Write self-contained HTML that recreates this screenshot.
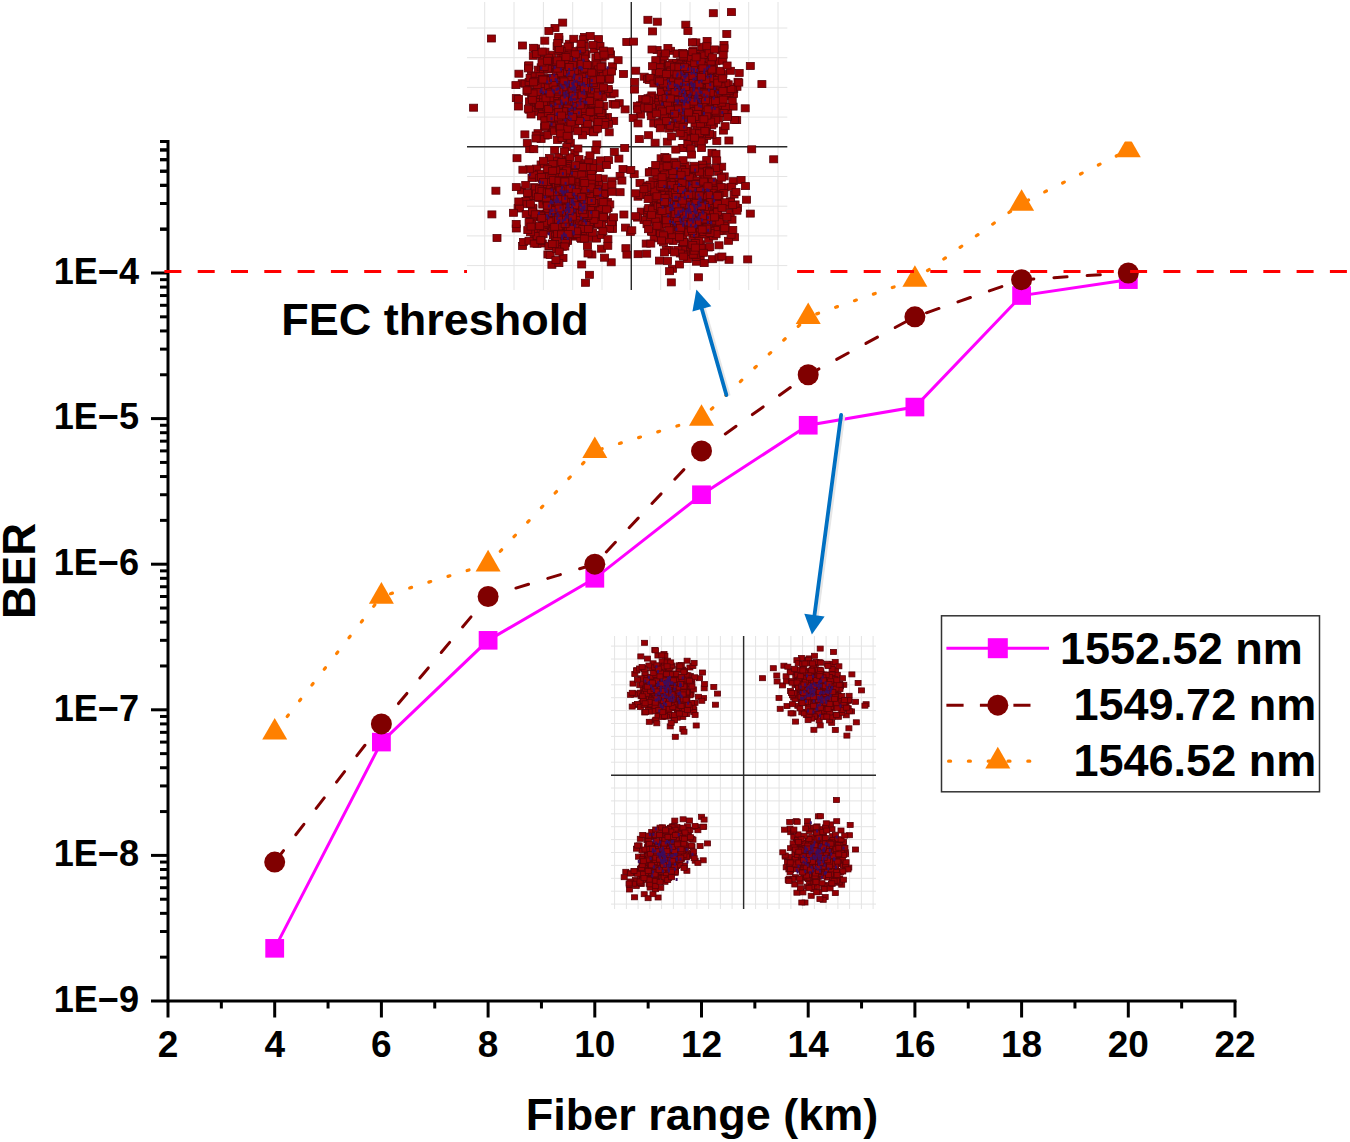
<!DOCTYPE html>
<html><head><meta charset="utf-8"><title>BER vs Fiber range</title>
<style>
html,body{margin:0;padding:0;background:#fff;}
body{width:1350px;height:1142px;overflow:hidden;}
svg{display:block;}
svg text{font-family:"Liberation Sans",sans-serif;font-weight:bold;fill:#000;white-space:pre;}
.t rect,.u rect{fill:#960004;stroke:#5a0008;stroke-width:0.8;}
.t rect{width:8px;height:7px;}
.u rect{width:6px;height:5px;}
.b rect{fill:#3c0c5c;stroke:none;width:2px;height:3px;}
</style></head>
<body>
<svg width="1350" height="1142" viewBox="0 0 1350 1142">
<rect x="0" y="0" width="1350" height="1142" style="fill:#fff;stroke:none"/>
<line x1="168.0" y1="140.0" x2="168.0" y2="1002.5" stroke="#000" stroke-width="3"/>
<line x1="166.5" y1="1001" x2="1236.5" y2="1001" stroke="#000" stroke-width="3"/>
<line x1="151" y1="1001.00" x2="168.0" y2="1001.00" stroke="#000" stroke-width="3"/>
<line x1="160" y1="957.17" x2="168.0" y2="957.17" stroke="#000" stroke-width="3"/>
<line x1="160" y1="931.53" x2="168.0" y2="931.53" stroke="#000" stroke-width="3"/>
<line x1="160" y1="913.34" x2="168.0" y2="913.34" stroke="#000" stroke-width="3"/>
<line x1="160" y1="899.23" x2="168.0" y2="899.23" stroke="#000" stroke-width="3"/>
<line x1="160" y1="887.70" x2="168.0" y2="887.70" stroke="#000" stroke-width="3"/>
<line x1="160" y1="877.95" x2="168.0" y2="877.95" stroke="#000" stroke-width="3"/>
<line x1="160" y1="869.51" x2="168.0" y2="869.51" stroke="#000" stroke-width="3"/>
<line x1="160" y1="862.06" x2="168.0" y2="862.06" stroke="#000" stroke-width="3"/>
<line x1="151" y1="855.40" x2="168.0" y2="855.40" stroke="#000" stroke-width="3"/>
<line x1="160" y1="811.57" x2="168.0" y2="811.57" stroke="#000" stroke-width="3"/>
<line x1="160" y1="785.93" x2="168.0" y2="785.93" stroke="#000" stroke-width="3"/>
<line x1="160" y1="767.74" x2="168.0" y2="767.74" stroke="#000" stroke-width="3"/>
<line x1="160" y1="753.63" x2="168.0" y2="753.63" stroke="#000" stroke-width="3"/>
<line x1="160" y1="742.10" x2="168.0" y2="742.10" stroke="#000" stroke-width="3"/>
<line x1="160" y1="732.35" x2="168.0" y2="732.35" stroke="#000" stroke-width="3"/>
<line x1="160" y1="723.91" x2="168.0" y2="723.91" stroke="#000" stroke-width="3"/>
<line x1="160" y1="716.46" x2="168.0" y2="716.46" stroke="#000" stroke-width="3"/>
<line x1="151" y1="709.80" x2="168.0" y2="709.80" stroke="#000" stroke-width="3"/>
<line x1="160" y1="665.97" x2="168.0" y2="665.97" stroke="#000" stroke-width="3"/>
<line x1="160" y1="640.33" x2="168.0" y2="640.33" stroke="#000" stroke-width="3"/>
<line x1="160" y1="622.14" x2="168.0" y2="622.14" stroke="#000" stroke-width="3"/>
<line x1="160" y1="608.03" x2="168.0" y2="608.03" stroke="#000" stroke-width="3"/>
<line x1="160" y1="596.50" x2="168.0" y2="596.50" stroke="#000" stroke-width="3"/>
<line x1="160" y1="586.75" x2="168.0" y2="586.75" stroke="#000" stroke-width="3"/>
<line x1="160" y1="578.31" x2="168.0" y2="578.31" stroke="#000" stroke-width="3"/>
<line x1="160" y1="570.86" x2="168.0" y2="570.86" stroke="#000" stroke-width="3"/>
<line x1="151" y1="564.20" x2="168.0" y2="564.20" stroke="#000" stroke-width="3"/>
<line x1="160" y1="520.37" x2="168.0" y2="520.37" stroke="#000" stroke-width="3"/>
<line x1="160" y1="494.73" x2="168.0" y2="494.73" stroke="#000" stroke-width="3"/>
<line x1="160" y1="476.54" x2="168.0" y2="476.54" stroke="#000" stroke-width="3"/>
<line x1="160" y1="462.43" x2="168.0" y2="462.43" stroke="#000" stroke-width="3"/>
<line x1="160" y1="450.90" x2="168.0" y2="450.90" stroke="#000" stroke-width="3"/>
<line x1="160" y1="441.15" x2="168.0" y2="441.15" stroke="#000" stroke-width="3"/>
<line x1="160" y1="432.71" x2="168.0" y2="432.71" stroke="#000" stroke-width="3"/>
<line x1="160" y1="425.26" x2="168.0" y2="425.26" stroke="#000" stroke-width="3"/>
<line x1="151" y1="418.60" x2="168.0" y2="418.60" stroke="#000" stroke-width="3"/>
<line x1="160" y1="374.77" x2="168.0" y2="374.77" stroke="#000" stroke-width="3"/>
<line x1="160" y1="349.13" x2="168.0" y2="349.13" stroke="#000" stroke-width="3"/>
<line x1="160" y1="330.94" x2="168.0" y2="330.94" stroke="#000" stroke-width="3"/>
<line x1="160" y1="316.83" x2="168.0" y2="316.83" stroke="#000" stroke-width="3"/>
<line x1="160" y1="305.30" x2="168.0" y2="305.30" stroke="#000" stroke-width="3"/>
<line x1="160" y1="295.55" x2="168.0" y2="295.55" stroke="#000" stroke-width="3"/>
<line x1="160" y1="287.11" x2="168.0" y2="287.11" stroke="#000" stroke-width="3"/>
<line x1="160" y1="279.66" x2="168.0" y2="279.66" stroke="#000" stroke-width="3"/>
<line x1="151" y1="273.00" x2="168.0" y2="273.00" stroke="#000" stroke-width="3"/>
<line x1="160" y1="229.17" x2="168.0" y2="229.17" stroke="#000" stroke-width="3"/>
<line x1="160" y1="203.53" x2="168.0" y2="203.53" stroke="#000" stroke-width="3"/>
<line x1="160" y1="185.34" x2="168.0" y2="185.34" stroke="#000" stroke-width="3"/>
<line x1="160" y1="171.23" x2="168.0" y2="171.23" stroke="#000" stroke-width="3"/>
<line x1="160" y1="159.70" x2="168.0" y2="159.70" stroke="#000" stroke-width="3"/>
<line x1="160" y1="149.95" x2="168.0" y2="149.95" stroke="#000" stroke-width="3"/>
<line x1="160" y1="141.51" x2="168.0" y2="141.51" stroke="#000" stroke-width="3"/>
<line x1="160" y1="229.17" x2="168.0" y2="229.17" stroke="#000" stroke-width="3"/>
<line x1="160" y1="203.53" x2="168.0" y2="203.53" stroke="#000" stroke-width="3"/>
<line x1="160" y1="185.34" x2="168.0" y2="185.34" stroke="#000" stroke-width="3"/>
<line x1="160" y1="171.23" x2="168.0" y2="171.23" stroke="#000" stroke-width="3"/>
<line x1="160" y1="159.70" x2="168.0" y2="159.70" stroke="#000" stroke-width="3"/>
<line x1="160" y1="149.95" x2="168.0" y2="149.95" stroke="#000" stroke-width="3"/>
<line x1="160" y1="141.51" x2="168.0" y2="141.51" stroke="#000" stroke-width="3"/>
<line x1="168.00" y1="1001" x2="168.00" y2="1017.5" stroke="#000" stroke-width="3"/>
<line x1="221.35" y1="1001" x2="221.35" y2="1008.5" stroke="#000" stroke-width="3"/>
<line x1="274.70" y1="1001" x2="274.70" y2="1017.5" stroke="#000" stroke-width="3"/>
<line x1="328.05" y1="1001" x2="328.05" y2="1008.5" stroke="#000" stroke-width="3"/>
<line x1="381.40" y1="1001" x2="381.40" y2="1017.5" stroke="#000" stroke-width="3"/>
<line x1="434.75" y1="1001" x2="434.75" y2="1008.5" stroke="#000" stroke-width="3"/>
<line x1="488.10" y1="1001" x2="488.10" y2="1017.5" stroke="#000" stroke-width="3"/>
<line x1="541.45" y1="1001" x2="541.45" y2="1008.5" stroke="#000" stroke-width="3"/>
<line x1="594.80" y1="1001" x2="594.80" y2="1017.5" stroke="#000" stroke-width="3"/>
<line x1="648.15" y1="1001" x2="648.15" y2="1008.5" stroke="#000" stroke-width="3"/>
<line x1="701.50" y1="1001" x2="701.50" y2="1017.5" stroke="#000" stroke-width="3"/>
<line x1="754.85" y1="1001" x2="754.85" y2="1008.5" stroke="#000" stroke-width="3"/>
<line x1="808.20" y1="1001" x2="808.20" y2="1017.5" stroke="#000" stroke-width="3"/>
<line x1="861.55" y1="1001" x2="861.55" y2="1008.5" stroke="#000" stroke-width="3"/>
<line x1="914.90" y1="1001" x2="914.90" y2="1017.5" stroke="#000" stroke-width="3"/>
<line x1="968.25" y1="1001" x2="968.25" y2="1008.5" stroke="#000" stroke-width="3"/>
<line x1="1021.60" y1="1001" x2="1021.60" y2="1017.5" stroke="#000" stroke-width="3"/>
<line x1="1074.95" y1="1001" x2="1074.95" y2="1008.5" stroke="#000" stroke-width="3"/>
<line x1="1128.30" y1="1001" x2="1128.30" y2="1017.5" stroke="#000" stroke-width="3"/>
<line x1="1181.65" y1="1001" x2="1181.65" y2="1008.5" stroke="#000" stroke-width="3"/>
<line x1="1235.00" y1="1001" x2="1235.00" y2="1017.5" stroke="#000" stroke-width="3"/>
<text x="139" y="1011.70" text-anchor="end" font-size="37" textLength="85.3" lengthAdjust="spacingAndGlyphs" font-family="Liberation Sans, sans-serif" font-weight="bold">1E−9</text>
<text x="139" y="866.10" text-anchor="end" font-size="37" textLength="85.3" lengthAdjust="spacingAndGlyphs" font-family="Liberation Sans, sans-serif" font-weight="bold">1E−8</text>
<text x="139" y="720.50" text-anchor="end" font-size="37" textLength="85.3" lengthAdjust="spacingAndGlyphs" font-family="Liberation Sans, sans-serif" font-weight="bold">1E−7</text>
<text x="139" y="574.90" text-anchor="end" font-size="37" textLength="85.3" lengthAdjust="spacingAndGlyphs" font-family="Liberation Sans, sans-serif" font-weight="bold">1E−6</text>
<text x="139" y="429.30" text-anchor="end" font-size="37" textLength="85.3" lengthAdjust="spacingAndGlyphs" font-family="Liberation Sans, sans-serif" font-weight="bold">1E−5</text>
<text x="139" y="283.70" text-anchor="end" font-size="37" textLength="85.3" lengthAdjust="spacingAndGlyphs" font-family="Liberation Sans, sans-serif" font-weight="bold">1E−4</text>
<text x="168.00" y="1057.3" text-anchor="middle" font-size="37" font-family="Liberation Sans, sans-serif" font-weight="bold">2</text>
<text x="274.70" y="1057.3" text-anchor="middle" font-size="37" font-family="Liberation Sans, sans-serif" font-weight="bold">4</text>
<text x="381.40" y="1057.3" text-anchor="middle" font-size="37" font-family="Liberation Sans, sans-serif" font-weight="bold">6</text>
<text x="488.10" y="1057.3" text-anchor="middle" font-size="37" font-family="Liberation Sans, sans-serif" font-weight="bold">8</text>
<text x="594.80" y="1057.3" text-anchor="middle" font-size="37" font-family="Liberation Sans, sans-serif" font-weight="bold">10</text>
<text x="701.50" y="1057.3" text-anchor="middle" font-size="37" font-family="Liberation Sans, sans-serif" font-weight="bold">12</text>
<text x="808.20" y="1057.3" text-anchor="middle" font-size="37" font-family="Liberation Sans, sans-serif" font-weight="bold">14</text>
<text x="914.90" y="1057.3" text-anchor="middle" font-size="37" font-family="Liberation Sans, sans-serif" font-weight="bold">16</text>
<text x="1021.60" y="1057.3" text-anchor="middle" font-size="37" font-family="Liberation Sans, sans-serif" font-weight="bold">18</text>
<text x="1128.30" y="1057.3" text-anchor="middle" font-size="37" font-family="Liberation Sans, sans-serif" font-weight="bold">20</text>
<text x="1235.00" y="1057.3" text-anchor="middle" font-size="37" font-family="Liberation Sans, sans-serif" font-weight="bold">22</text>
<text x="702" y="1129.5" text-anchor="middle" font-size="45" font-family="Liberation Sans, sans-serif" font-weight="bold">Fiber range (km)</text>
<text transform="translate(35,571) rotate(-90)" x="0" y="0" text-anchor="middle" font-size="45.5" font-family="Liberation Sans, sans-serif" font-weight="bold">BER</text>
<defs><clipPath id="pc"><rect x="168" y="141.5" width="1070" height="860"/></clipPath></defs>
<g clip-path="url(#pc)">
<g fill="none" stroke="#ff8000" stroke-width="3.2" stroke-dasharray="2 18" stroke-linecap="round"><line x1="274.70" y1="732.35" x2="381.40" y2="596.50" stroke-dashoffset="-0.20"/><line x1="381.40" y1="596.50" x2="488.10" y2="564.20" stroke-dashoffset="-9.56"/><line x1="488.10" y1="564.20" x2="594.80" y2="450.90" stroke-dashoffset="-17.77"/><line x1="594.80" y1="450.90" x2="701.50" y2="418.60" stroke-dashoffset="-5.74"/><line x1="701.50" y1="418.60" x2="808.20" y2="316.83" stroke-dashoffset="-13.66"/><line x1="808.20" y1="316.83" x2="914.90" y2="279.66" stroke-dashoffset="-9.01"/><line x1="914.90" y1="279.66" x2="1021.60" y2="203.53" stroke-dashoffset="-15.52"/><line x1="1021.60" y1="203.53" x2="1128.30" y2="149.95" stroke-dashoffset="-5.84"/></g>
<g fill="none" stroke="#800000" stroke-width="3" stroke-dasharray="13.2 20.1" stroke-linecap="round"><line x1="274.70" y1="862.06" x2="381.40" y2="723.91" stroke-dashoffset="-1.20"/><line x1="381.40" y1="723.91" x2="488.10" y2="596.50" stroke-dashoffset="-26.54"/><line x1="488.10" y1="596.50" x2="594.80" y2="564.20" stroke-dashoffset="-29.05"/><line x1="594.80" y1="564.20" x2="701.50" y2="450.90" stroke-dashoffset="-16.82"/><line x1="701.50" y1="450.90" x2="808.20" y2="374.77" stroke-dashoffset="-29.24"/><line x1="808.20" y1="374.77" x2="914.90" y2="316.83" stroke-dashoffset="-32.36"/><line x1="914.90" y1="316.83" x2="1021.60" y2="279.66" stroke-dashoffset="-12.25"/><line x1="1021.60" y1="279.66" x2="1128.30" y2="273.00" stroke-dashoffset="-32.36"/></g>
<polyline points="274.70,948.33 381.40,742.10 488.10,640.33 594.80,578.31 701.50,494.73 808.20,425.26 914.90,407.07 1021.60,295.55 1128.30,279.66" fill="none" stroke="#ff00ff" stroke-width="3"/>
<rect x="265.30" y="939.03" width="18.8" height="18.6" fill="#ff00ff"/>
<rect x="372.00" y="732.80" width="18.8" height="18.6" fill="#ff00ff"/>
<rect x="478.70" y="631.03" width="18.8" height="18.6" fill="#ff00ff"/>
<rect x="585.40" y="569.01" width="18.8" height="18.6" fill="#ff00ff"/>
<rect x="692.10" y="485.43" width="18.8" height="18.6" fill="#ff00ff"/>
<rect x="798.80" y="415.96" width="18.8" height="18.6" fill="#ff00ff"/>
<rect x="905.50" y="397.77" width="18.8" height="18.6" fill="#ff00ff"/>
<rect x="1012.20" y="286.25" width="18.8" height="18.6" fill="#ff00ff"/>
<rect x="1118.90" y="270.36" width="18.8" height="18.6" fill="#ff00ff"/>
<circle cx="274.70" cy="862.06" r="10.5" fill="#800000"/>
<circle cx="381.40" cy="723.91" r="10.5" fill="#800000"/>
<circle cx="488.10" cy="596.50" r="10.5" fill="#800000"/>
<circle cx="594.80" cy="564.20" r="10.5" fill="#800000"/>
<circle cx="701.50" cy="450.90" r="10.5" fill="#800000"/>
<circle cx="808.20" cy="374.77" r="10.5" fill="#800000"/>
<circle cx="914.90" cy="316.83" r="10.5" fill="#800000"/>
<circle cx="1021.60" cy="279.66" r="10.5" fill="#800000"/>
<circle cx="1128.30" cy="273.00" r="10.5" fill="#800000"/>
<polygon points="274.70,717.95 287.20,739.55 262.20,739.55" fill="#ff8000"/>
<polygon points="381.40,582.10 393.90,603.70 368.90,603.70" fill="#ff8000"/>
<polygon points="488.10,549.80 500.60,571.40 475.60,571.40" fill="#ff8000"/>
<polygon points="594.80,436.50 607.30,458.10 582.30,458.10" fill="#ff8000"/>
<polygon points="701.50,404.20 714.00,425.80 689.00,425.80" fill="#ff8000"/>
<polygon points="808.20,302.43 820.70,324.03 795.70,324.03" fill="#ff8000"/>
<polygon points="914.90,265.26 927.40,286.86 902.40,286.86" fill="#ff8000"/>
<polygon points="1021.60,189.13 1034.10,210.73 1009.10,210.73" fill="#ff8000"/>
<polygon points="1128.30,135.55 1140.80,157.15 1115.80,157.15" fill="#ff8000"/>
</g>
<line x1="164.4" y1="271.5" x2="1349" y2="271.5" stroke="#ff0000" stroke-width="3" stroke-dasharray="17 16.3"/>
<text x="281.2" y="335.2" font-size="45" font-family="Liberation Sans, sans-serif" font-weight="bold">FEC threshold</text>
<g>
<rect x="467" y="0" width="329" height="290" fill="#fff"/>
<line x1="484.7" y1="2" x2="484.7" y2="290" stroke="#e4e4e4" stroke-width="1"/>
<line x1="514.0" y1="2" x2="514.0" y2="290" stroke="#e4e4e4" stroke-width="1"/>
<line x1="543.4" y1="2" x2="543.4" y2="290" stroke="#e4e4e4" stroke-width="1"/>
<line x1="572.7" y1="2" x2="572.7" y2="290" stroke="#e4e4e4" stroke-width="1"/>
<line x1="602.0" y1="2" x2="602.0" y2="290" stroke="#e4e4e4" stroke-width="1"/>
<line x1="631.3" y1="2" x2="631.3" y2="290" stroke="#e4e4e4" stroke-width="1"/>
<line x1="660.7" y1="2" x2="660.7" y2="290" stroke="#e4e4e4" stroke-width="1"/>
<line x1="690.0" y1="2" x2="690.0" y2="290" stroke="#e4e4e4" stroke-width="1"/>
<line x1="719.3" y1="2" x2="719.3" y2="290" stroke="#e4e4e4" stroke-width="1"/>
<line x1="748.7" y1="2" x2="748.7" y2="290" stroke="#e4e4e4" stroke-width="1"/>
<line x1="778.0" y1="2" x2="778.0" y2="290" stroke="#e4e4e4" stroke-width="1"/>
<line x1="467" y1="28.0" x2="787.3" y2="28.0" stroke="#e4e4e4" stroke-width="1"/>
<line x1="467" y1="57.7" x2="787.3" y2="57.7" stroke="#e4e4e4" stroke-width="1"/>
<line x1="467" y1="87.4" x2="787.3" y2="87.4" stroke="#e4e4e4" stroke-width="1"/>
<line x1="467" y1="117.1" x2="787.3" y2="117.1" stroke="#e4e4e4" stroke-width="1"/>
<line x1="467" y1="146.8" x2="787.3" y2="146.8" stroke="#e4e4e4" stroke-width="1"/>
<line x1="467" y1="176.5" x2="787.3" y2="176.5" stroke="#e4e4e4" stroke-width="1"/>
<line x1="467" y1="206.2" x2="787.3" y2="206.2" stroke="#e4e4e4" stroke-width="1"/>
<line x1="467" y1="235.9" x2="787.3" y2="235.9" stroke="#e4e4e4" stroke-width="1"/>
<line x1="467" y1="265.6" x2="787.3" y2="265.6" stroke="#e4e4e4" stroke-width="1"/>
<line x1="631.3" y1="2" x2="631.3" y2="290" stroke="#2a2a2a" stroke-width="1.4"/>
<line x1="467" y1="146.7" x2="787.3" y2="146.7" stroke="#2a2a2a" stroke-width="1.4"/>
<g class="t">
<rect x="567.6" y="74.6"/>
<rect x="561.7" y="68.4"/>
<rect x="567.9" y="105.8"/>
<rect x="588.6" y="114.7"/>
<rect x="585.8" y="75.4"/>
<rect x="589.1" y="81.1"/>
<rect x="551.0" y="24.5"/>
<rect x="568.4" y="103.0"/>
<rect x="565.2" y="100.6"/>
<rect x="564.3" y="88.1"/>
<rect x="569.3" y="98.0"/>
<rect x="568.0" y="99.8"/>
<rect x="583.5" y="80.4"/>
<rect x="555.3" y="94.4"/>
<rect x="594.5" y="120.8"/>
<rect x="569.1" y="80.1"/>
<rect x="549.4" y="107.3"/>
<rect x="581.7" y="83.5"/>
<rect x="547.7" y="93.2"/>
<rect x="569.1" y="117.3"/>
<rect x="558.3" y="97.2"/>
<rect x="561.3" y="81.7"/>
<rect x="589.1" y="84.4"/>
<rect x="609.7" y="117.4"/>
<rect x="534.9" y="104.2"/>
<rect x="555.9" y="81.3"/>
<rect x="549.6" y="74.5"/>
<rect x="564.9" y="57.1"/>
<rect x="575.1" y="117.4"/>
<rect x="540.6" y="79.6"/>
<rect x="548.3" y="99.4"/>
<rect x="556.1" y="105.4"/>
<rect x="570.5" y="59.4"/>
<rect x="580.1" y="56.7"/>
<rect x="598.1" y="54.3"/>
<rect x="565.1" y="51.1"/>
<rect x="567.0" y="98.4"/>
<rect x="551.2" y="122.3"/>
<rect x="553.7" y="84.4"/>
<rect x="588.8" y="74.2"/>
<rect x="603.4" y="113.5"/>
<rect x="567.9" y="79.8"/>
<rect x="576.4" y="105.2"/>
<rect x="553.5" y="114.4"/>
<rect x="604.4" y="120.4"/>
<rect x="535.4" y="106.7"/>
<rect x="525.4" y="97.9"/>
<rect x="558.8" y="86.8"/>
<rect x="547.7" y="124.9"/>
<rect x="562.6" y="88.7"/>
<rect x="546.4" y="62.7"/>
<rect x="578.9" y="71.9"/>
<rect x="554.1" y="65.2"/>
<rect x="569.3" y="66.0"/>
<rect x="570.4" y="78.5"/>
<rect x="544.7" y="95.6"/>
<rect x="545.2" y="114.5"/>
<rect x="581.5" y="60.0"/>
<rect x="552.9" y="75.6"/>
<rect x="572.9" y="107.2"/>
<rect x="586.4" y="92.1"/>
<rect x="596.1" y="79.0"/>
<rect x="580.1" y="81.0"/>
<rect x="540.4" y="123.8"/>
<rect x="527.4" y="71.9"/>
<rect x="580.7" y="100.1"/>
<rect x="554.5" y="108.6"/>
<rect x="594.7" y="115.5"/>
<rect x="589.3" y="128.2"/>
<rect x="584.5" y="75.1"/>
<rect x="527.5" y="80.3"/>
<rect x="569.3" y="74.4"/>
<rect x="565.3" y="82.9"/>
<rect x="554.5" y="82.1"/>
<rect x="565.8" y="56.2"/>
<rect x="555.5" y="99.4"/>
<rect x="591.0" y="85.8"/>
<rect x="562.9" y="89.8"/>
<rect x="540.7" y="56.5"/>
<rect x="547.6" y="51.2"/>
<rect x="577.8" y="82.4"/>
<rect x="590.1" y="45.9"/>
<rect x="545.1" y="102.7"/>
<rect x="608.6" y="62.8"/>
<rect x="537.4" y="96.1"/>
<rect x="554.5" y="62.1"/>
<rect x="558.3" y="72.6"/>
<rect x="568.6" y="122.0"/>
<rect x="553.1" y="42.6"/>
<rect x="586.5" y="87.0"/>
<rect x="592.8" y="86.3"/>
<rect x="561.2" y="98.3"/>
<rect x="544.0" y="77.2"/>
<rect x="567.2" y="69.0"/>
<rect x="549.7" y="86.4"/>
<rect x="604.5" y="87.3"/>
<rect x="572.3" y="68.9"/>
<rect x="549.4" y="126.6"/>
<rect x="548.4" y="96.2"/>
<rect x="529.3" y="52.3"/>
<rect x="567.4" y="47.6"/>
<rect x="570.7" y="121.2"/>
<rect x="545.8" y="65.8"/>
<rect x="598.2" y="109.1"/>
<rect x="580.6" y="33.4"/>
<rect x="579.0" y="64.9"/>
<rect x="587.3" y="84.2"/>
<rect x="590.7" y="63.3"/>
<rect x="581.4" y="77.3"/>
<rect x="572.4" y="74.9"/>
<rect x="588.2" y="89.4"/>
<rect x="556.4" y="127.4"/>
<rect x="544.2" y="78.7"/>
<rect x="591.0" y="61.8"/>
<rect x="549.1" y="108.0"/>
<rect x="591.9" y="85.1"/>
<rect x="574.3" y="78.6"/>
<rect x="536.9" y="96.0"/>
<rect x="541.6" y="101.0"/>
<rect x="554.7" y="115.0"/>
<rect x="556.7" y="115.4"/>
<rect x="593.5" y="121.7"/>
<rect x="560.5" y="73.7"/>
<rect x="581.1" y="121.5"/>
<rect x="542.9" y="89.6"/>
<rect x="541.2" y="132.1"/>
<rect x="562.1" y="64.9"/>
<rect x="525.7" y="145.6"/>
<rect x="607.1" y="90.8"/>
<rect x="599.8" y="102.5"/>
<rect x="559.5" y="67.3"/>
<rect x="559.1" y="55.5"/>
<rect x="525.1" y="106.2"/>
<rect x="576.4" y="56.1"/>
<rect x="531.6" y="44.9"/>
<rect x="518.2" y="79.8"/>
<rect x="579.7" y="112.1"/>
<rect x="542.2" y="111.0"/>
<rect x="563.7" y="98.5"/>
<rect x="597.0" y="109.4"/>
<rect x="564.3" y="87.4"/>
<rect x="550.6" y="88.7"/>
<rect x="557.6" y="87.7"/>
<rect x="568.9" y="66.8"/>
<rect x="529.6" y="44.3"/>
<rect x="553.8" y="63.4"/>
<rect x="601.9" y="89.1"/>
<rect x="591.0" y="126.0"/>
<rect x="551.4" y="63.5"/>
<rect x="571.3" y="109.1"/>
<rect x="569.2" y="99.6"/>
<rect x="559.2" y="82.6"/>
<rect x="587.9" y="79.2"/>
<rect x="554.9" y="35.9"/>
<rect x="586.7" y="99.5"/>
<rect x="564.6" y="118.7"/>
<rect x="537.8" y="111.9"/>
<rect x="518.4" y="42.0"/>
<rect x="598.1" y="62.6"/>
<rect x="514.4" y="103.0"/>
<rect x="581.9" y="50.9"/>
<rect x="528.3" y="95.1"/>
<rect x="544.4" y="95.5"/>
<rect x="619.5" y="70.5"/>
<rect x="589.7" y="95.7"/>
<rect x="553.5" y="110.9"/>
<rect x="576.0" y="68.7"/>
<rect x="533.4" y="94.8"/>
<rect x="587.4" y="108.0"/>
<rect x="572.0" y="100.6"/>
<rect x="571.3" y="101.7"/>
<rect x="559.8" y="65.3"/>
<rect x="604.9" y="76.3"/>
<rect x="565.6" y="112.6"/>
<rect x="534.2" y="66.2"/>
<rect x="572.9" y="106.9"/>
<rect x="587.1" y="72.2"/>
<rect x="575.3" y="95.1"/>
<rect x="555.2" y="80.1"/>
<rect x="549.9" y="60.1"/>
<rect x="550.8" y="103.4"/>
<rect x="566.7" y="97.3"/>
<rect x="595.9" y="103.6"/>
<rect x="563.2" y="49.6"/>
<rect x="524.6" y="62.6"/>
<rect x="546.4" y="87.3"/>
<rect x="592.9" y="122.3"/>
<rect x="651.1" y="139.2"/>
<rect x="597.1" y="84.6"/>
<rect x="567.6" y="107.9"/>
<rect x="557.3" y="71.8"/>
<rect x="547.7" y="103.5"/>
<rect x="596.2" y="69.7"/>
<rect x="583.2" y="108.8"/>
<rect x="543.2" y="105.5"/>
<rect x="567.1" y="87.4"/>
<rect x="565.5" y="40.3"/>
<rect x="568.5" y="72.3"/>
<rect x="566.5" y="65.7"/>
<rect x="548.5" y="65.9"/>
<rect x="589.1" y="107.9"/>
<rect x="590.5" y="75.5"/>
<rect x="586.1" y="102.3"/>
<rect x="534.0" y="129.7"/>
<rect x="568.7" y="98.1"/>
<rect x="555.4" y="84.7"/>
<rect x="592.8" y="140.9"/>
<rect x="568.1" y="84.7"/>
<rect x="582.7" y="89.2"/>
<rect x="582.8" y="100.0"/>
<rect x="579.7" y="98.1"/>
<rect x="556.6" y="128.2"/>
<rect x="539.4" y="55.7"/>
<rect x="553.6" y="92.2"/>
<rect x="514.9" y="70.2"/>
<rect x="559.7" y="67.4"/>
<rect x="572.4" y="95.0"/>
<rect x="575.9" y="75.4"/>
<rect x="600.2" y="114.5"/>
<rect x="571.2" y="92.2"/>
<rect x="573.9" y="82.8"/>
<rect x="570.3" y="78.9"/>
<rect x="569.2" y="100.0"/>
<rect x="576.5" y="96.0"/>
<rect x="556.7" y="50.8"/>
<rect x="596.0" y="42.6"/>
<rect x="575.2" y="64.5"/>
<rect x="553.7" y="86.3"/>
<rect x="564.0" y="43.0"/>
<rect x="540.2" y="87.1"/>
<rect x="592.8" y="60.1"/>
<rect x="587.0" y="127.5"/>
<rect x="563.8" y="95.7"/>
<rect x="578.0" y="60.6"/>
<rect x="552.0" y="64.6"/>
<rect x="566.5" y="77.2"/>
<rect x="549.8" y="110.7"/>
<rect x="547.1" y="99.2"/>
<rect x="537.2" y="63.8"/>
<rect x="594.5" y="35.6"/>
<rect x="580.5" y="50.4"/>
<rect x="609.1" y="100.4"/>
<rect x="538.4" y="56.2"/>
<rect x="565.5" y="77.9"/>
<rect x="554.0" y="105.1"/>
<rect x="539.1" y="62.7"/>
<rect x="532.9" y="108.3"/>
<rect x="553.5" y="136.4"/>
<rect x="605.2" y="128.8"/>
<rect x="559.6" y="72.2"/>
<rect x="537.1" y="135.5"/>
<rect x="570.4" y="94.0"/>
<rect x="598.3" y="115.6"/>
<rect x="550.4" y="119.7"/>
<rect x="554.7" y="72.3"/>
<rect x="566.5" y="73.3"/>
<rect x="550.0" y="87.9"/>
<rect x="575.9" y="103.5"/>
<rect x="585.4" y="106.9"/>
<rect x="521.1" y="80.1"/>
<rect x="540.8" y="37.2"/>
<rect x="541.0" y="97.0"/>
<rect x="572.8" y="104.7"/>
<rect x="543.9" y="131.5"/>
<rect x="555.1" y="95.8"/>
<rect x="593.6" y="99.7"/>
<rect x="537.1" y="77.1"/>
<rect x="559.9" y="51.7"/>
<rect x="564.8" y="111.1"/>
<rect x="563.3" y="60.7"/>
<rect x="538.5" y="105.4"/>
<rect x="548.8" y="58.6"/>
<rect x="561.0" y="95.1"/>
<rect x="544.4" y="60.8"/>
<rect x="569.4" y="105.5"/>
<rect x="561.0" y="87.5"/>
<rect x="556.9" y="85.6"/>
<rect x="583.6" y="77.4"/>
<rect x="591.7" y="100.1"/>
<rect x="559.3" y="84.3"/>
<rect x="545.3" y="109.4"/>
<rect x="567.3" y="79.1"/>
<rect x="597.7" y="115.2"/>
<rect x="575.0" y="74.5"/>
<rect x="575.9" y="47.0"/>
<rect x="579.9" y="127.3"/>
<rect x="543.5" y="75.8"/>
<rect x="551.4" y="62.7"/>
<rect x="551.6" y="90.7"/>
<rect x="582.9" y="101.6"/>
<rect x="610.1" y="89.9"/>
<rect x="576.1" y="59.3"/>
<rect x="561.0" y="99.8"/>
<rect x="584.9" y="81.5"/>
<rect x="561.2" y="70.6"/>
<rect x="568.8" y="63.2"/>
<rect x="541.4" y="64.2"/>
<rect x="565.9" y="93.2"/>
<rect x="512.3" y="94.6"/>
<rect x="558.3" y="70.4"/>
<rect x="587.0" y="95.4"/>
<rect x="565.5" y="61.2"/>
<rect x="564.3" y="62.3"/>
<rect x="570.8" y="68.6"/>
<rect x="525.1" y="78.5"/>
<rect x="527.7" y="91.6"/>
<rect x="552.6" y="109.4"/>
<rect x="560.6" y="61.4"/>
<rect x="526.1" y="74.3"/>
<rect x="551.3" y="60.7"/>
<rect x="591.3" y="89.2"/>
<rect x="553.8" y="80.4"/>
<rect x="567.8" y="73.4"/>
<rect x="552.6" y="106.6"/>
<rect x="570.8" y="86.5"/>
<rect x="560.8" y="92.5"/>
<rect x="487.4" y="35.0"/>
<rect x="589.7" y="128.8"/>
<rect x="584.8" y="109.5"/>
<rect x="531.1" y="96.4"/>
<rect x="544.7" y="98.0"/>
<rect x="606.6" y="50.9"/>
<rect x="579.6" y="35.8"/>
<rect x="584.6" y="70.2"/>
<rect x="545.9" y="87.7"/>
<rect x="568.0" y="56.5"/>
<rect x="559.3" y="91.2"/>
<rect x="557.3" y="64.4"/>
<rect x="527.0" y="111.0"/>
<rect x="547.6" y="61.3"/>
<rect x="594.3" y="65.9"/>
<rect x="604.1" y="73.8"/>
<rect x="599.3" y="72.4"/>
<rect x="585.0" y="80.4"/>
<rect x="547.5" y="61.5"/>
<rect x="557.1" y="47.3"/>
<rect x="580.3" y="42.7"/>
<rect x="591.9" y="54.0"/>
<rect x="524.8" y="88.3"/>
<rect x="575.1" y="108.7"/>
<rect x="577.1" y="113.9"/>
<rect x="562.7" y="62.0"/>
<rect x="578.5" y="76.7"/>
<rect x="577.5" y="90.2"/>
<rect x="533.7" y="76.4"/>
<rect x="565.6" y="106.5"/>
<rect x="544.9" y="27.5"/>
<rect x="596.3" y="87.7"/>
<rect x="587.9" y="81.4"/>
<rect x="556.4" y="68.8"/>
<rect x="572.0" y="107.5"/>
<rect x="578.8" y="78.7"/>
<rect x="583.7" y="120.1"/>
<rect x="583.1" y="76.9"/>
<rect x="600.9" y="52.3"/>
<rect x="560.2" y="171.0"/>
<rect x="586.9" y="80.8"/>
<rect x="600.9" y="118.5"/>
<rect x="524.9" y="61.8"/>
<rect x="563.3" y="87.9"/>
<rect x="580.3" y="55.1"/>
<rect x="594.4" y="99.0"/>
<rect x="558.2" y="122.2"/>
<rect x="545.8" y="88.4"/>
<rect x="546.5" y="57.8"/>
<rect x="573.0" y="71.8"/>
<rect x="587.2" y="90.0"/>
<rect x="569.0" y="68.5"/>
<rect x="604.2" y="85.4"/>
<rect x="549.0" y="93.1"/>
<rect x="583.5" y="75.7"/>
<rect x="591.8" y="146.7"/>
<rect x="554.1" y="47.1"/>
<rect x="552.0" y="104.8"/>
<rect x="543.0" y="95.6"/>
<rect x="548.8" y="98.6"/>
<rect x="568.4" y="108.5"/>
<rect x="536.4" y="92.0"/>
<rect x="577.8" y="72.6"/>
<rect x="555.8" y="91.2"/>
<rect x="559.8" y="92.8"/>
<rect x="577.2" y="76.8"/>
<rect x="530.1" y="104.1"/>
<rect x="583.7" y="69.1"/>
<rect x="615.2" y="99.7"/>
<rect x="524.3" y="105.2"/>
<rect x="550.6" y="127.9"/>
<rect x="571.8" y="78.4"/>
<rect x="556.8" y="57.2"/>
<rect x="547.3" y="80.9"/>
<rect x="559.3" y="77.5"/>
<rect x="574.0" y="91.0"/>
<rect x="577.3" y="45.8"/>
<rect x="568.8" y="97.2"/>
<rect x="563.0" y="125.9"/>
<rect x="605.4" y="47.8"/>
<rect x="589.8" y="71.9"/>
<rect x="533.0" y="99.5"/>
<rect x="594.5" y="101.3"/>
<rect x="560.7" y="77.6"/>
<rect x="565.0" y="64.7"/>
<rect x="573.7" y="76.3"/>
<rect x="568.9" y="89.3"/>
<rect x="532.5" y="50.6"/>
<rect x="539.5" y="66.3"/>
<rect x="542.7" y="74.4"/>
<rect x="579.8" y="73.4"/>
<rect x="562.8" y="73.1"/>
<rect x="548.2" y="99.3"/>
<rect x="556.3" y="102.8"/>
<rect x="538.1" y="103.2"/>
<rect x="547.1" y="94.4"/>
<rect x="577.0" y="104.7"/>
<rect x="581.9" y="113.6"/>
<rect x="555.8" y="124.8"/>
<rect x="549.8" y="96.0"/>
<rect x="588.9" y="41.3"/>
<rect x="596.0" y="87.2"/>
<rect x="562.7" y="96.8"/>
<rect x="550.4" y="110.7"/>
<rect x="544.2" y="92.0"/>
<rect x="573.5" y="54.3"/>
<rect x="581.4" y="84.5"/>
<rect x="566.3" y="139.3"/>
<rect x="511.9" y="81.6"/>
<rect x="541.3" y="89.0"/>
<rect x="554.1" y="78.8"/>
<rect x="572.6" y="86.0"/>
<rect x="573.2" y="99.4"/>
<rect x="594.4" y="52.4"/>
<rect x="581.0" y="101.6"/>
<rect x="561.1" y="131.5"/>
<rect x="598.5" y="93.9"/>
<rect x="547.5" y="92.0"/>
<rect x="574.6" y="101.9"/>
<rect x="567.4" y="81.2"/>
<rect x="534.5" y="102.2"/>
<rect x="531.2" y="72.9"/>
<rect x="564.1" y="136.1"/>
<rect x="542.9" y="104.0"/>
<rect x="573.9" y="108.7"/>
<rect x="545.4" y="93.8"/>
<rect x="547.1" y="59.0"/>
<rect x="575.6" y="70.8"/>
<rect x="600.3" y="121.5"/>
<rect x="536.0" y="98.5"/>
<rect x="565.5" y="111.5"/>
<rect x="603.0" y="68.8"/>
<rect x="554.3" y="92.7"/>
<rect x="553.7" y="66.9"/>
<rect x="580.7" y="65.1"/>
<rect x="533.5" y="79.8"/>
<rect x="544.2" y="86.5"/>
<rect x="581.0" y="75.3"/>
<rect x="590.4" y="75.9"/>
<rect x="564.8" y="52.0"/>
<rect x="523.3" y="139.6"/>
<rect x="551.1" y="115.7"/>
<rect x="576.3" y="60.3"/>
<rect x="555.8" y="121.9"/>
<rect x="556.4" y="124.2"/>
<rect x="540.7" y="86.9"/>
<rect x="537.5" y="112.9"/>
<rect x="532.4" y="77.2"/>
<rect x="573.1" y="101.7"/>
<rect x="586.2" y="32.5"/>
<rect x="595.9" y="84.1"/>
<rect x="540.5" y="80.5"/>
<rect x="541.0" y="98.6"/>
<rect x="543.5" y="65.0"/>
<rect x="539.4" y="93.5"/>
<rect x="581.2" y="127.5"/>
<rect x="536.1" y="72.7"/>
<rect x="546.9" y="89.6"/>
<rect x="559.2" y="104.6"/>
<rect x="569.4" y="81.0"/>
<rect x="554.8" y="33.4"/>
<rect x="540.8" y="116.9"/>
<rect x="533.1" y="82.3"/>
<rect x="469.6" y="104.2"/>
<rect x="546.0" y="58.3"/>
<rect x="540.9" y="48.2"/>
<rect x="547.5" y="74.9"/>
<rect x="547.9" y="75.9"/>
<rect x="569.8" y="98.9"/>
<rect x="565.7" y="82.7"/>
<rect x="580.9" y="107.4"/>
<rect x="559.5" y="72.1"/>
<rect x="563.6" y="101.7"/>
<rect x="574.3" y="90.0"/>
<rect x="589.0" y="99.9"/>
<rect x="558.7" y="19.1"/>
<rect x="557.4" y="67.0"/>
<rect x="570.5" y="74.5"/>
<rect x="544.3" y="109.5"/>
<rect x="568.2" y="114.2"/>
<rect x="593.4" y="125.2"/>
<rect x="568.9" y="110.2"/>
<rect x="532.9" y="88.4"/>
<rect x="553.7" y="82.8"/>
<rect x="531.0" y="77.4"/>
<rect x="571.4" y="96.7"/>
<rect x="566.2" y="74.0"/>
<rect x="611.3" y="101.1"/>
<rect x="560.8" y="108.0"/>
<rect x="557.6" y="116.1"/>
<rect x="562.9" y="97.3"/>
<rect x="575.4" y="117.5"/>
<rect x="614.1" y="56.7"/>
<rect x="592.1" y="86.3"/>
<rect x="589.0" y="70.8"/>
<rect x="554.0" y="92.5"/>
<rect x="579.5" y="103.7"/>
<rect x="540.2" y="63.4"/>
<rect x="563.3" y="90.1"/>
<rect x="570.2" y="98.1"/>
<rect x="550.9" y="109.8"/>
<rect x="560.4" y="92.2"/>
<rect x="552.4" y="58.9"/>
<rect x="578.3" y="73.2"/>
<rect x="597.1" y="63.1"/>
<rect x="570.3" y="67.3"/>
<rect x="577.3" y="97.3"/>
<rect x="544.4" y="82.3"/>
<rect x="571.0" y="124.7"/>
<rect x="563.1" y="90.1"/>
<rect x="568.8" y="61.7"/>
<rect x="586.4" y="86.9"/>
<rect x="586.1" y="108.4"/>
<rect x="586.0" y="72.2"/>
<rect x="553.7" y="95.1"/>
<rect x="547.0" y="114.5"/>
<rect x="560.1" y="113.2"/>
<rect x="589.0" y="97.8"/>
<rect x="571.1" y="82.8"/>
<rect x="552.6" y="68.1"/>
<rect x="546.3" y="76.9"/>
<rect x="544.5" y="54.2"/>
<rect x="558.8" y="134.9"/>
<rect x="569.4" y="96.2"/>
<rect x="564.7" y="131.6"/>
<rect x="597.0" y="109.5"/>
<rect x="543.7" y="57.3"/>
<rect x="599.3" y="47.1"/>
<rect x="569.7" y="58.2"/>
<rect x="553.1" y="81.3"/>
<rect x="538.5" y="75.5"/>
<rect x="582.7" y="85.8"/>
<rect x="538.0" y="59.0"/>
<rect x="558.0" y="134.4"/>
<rect x="564.9" y="59.7"/>
<rect x="592.1" y="81.7"/>
<rect x="599.4" y="83.9"/>
<rect x="564.2" y="98.0"/>
<rect x="561.0" y="111.3"/>
<rect x="594.1" y="118.5"/>
<rect x="569.8" y="35.3"/>
<rect x="539.5" y="98.9"/>
<rect x="559.3" y="107.8"/>
<rect x="558.3" y="69.4"/>
<rect x="559.9" y="92.3"/>
<rect x="635.3" y="135.6"/>
<rect x="538.1" y="48.1"/>
<rect x="563.8" y="125.3"/>
<rect x="546.8" y="88.6"/>
<rect x="541.5" y="122.1"/>
<rect x="579.3" y="94.9"/>
<rect x="594.0" y="92.0"/>
<rect x="554.2" y="83.7"/>
<rect x="550.5" y="92.7"/>
<rect x="585.0" y="78.6"/>
<rect x="544.7" y="105.6"/>
<rect x="579.4" y="77.5"/>
<rect x="535.4" y="101.4"/>
<rect x="532.2" y="132.0"/>
<rect x="571.3" y="50.8"/>
<rect x="554.5" y="113.9"/>
<rect x="561.9" y="87.1"/>
<rect x="557.4" y="85.5"/>
<rect x="572.7" y="100.2"/>
<rect x="555.6" y="45.5"/>
<rect x="580.4" y="84.7"/>
<rect x="523.1" y="87.9"/>
<rect x="556.8" y="69.8"/>
<rect x="532.1" y="135.0"/>
<rect x="583.2" y="61.5"/>
<rect x="555.0" y="100.0"/>
<rect x="577.1" y="40.3"/>
<rect x="563.6" y="68.8"/>
<rect x="589.3" y="79.7"/>
<rect x="562.2" y="97.0"/>
<rect x="572.0" y="77.4"/>
<rect x="572.3" y="95.5"/>
<rect x="607.6" y="68.0"/>
<rect x="544.2" y="93.6"/>
<rect x="529.1" y="89.9"/>
<rect x="554.1" y="104.1"/>
<rect x="553.7" y="65.1"/>
<rect x="549.1" y="80.3"/>
<rect x="605.7" y="75.3"/>
<rect x="543.1" y="76.8"/>
<rect x="552.4" y="58.4"/>
<rect x="528.3" y="96.3"/>
<rect x="564.7" y="56.5"/>
<rect x="578.0" y="105.3"/>
<rect x="554.7" y="108.5"/>
<rect x="539.0" y="76.1"/>
<rect x="590.0" y="76.8"/>
<rect x="585.5" y="97.5"/>
<rect x="524.6" y="64.9"/>
<rect x="557.4" y="112.0"/>
<rect x="594.8" y="106.7"/>
<rect x="554.3" y="90.5"/>
<rect x="529.4" y="78.8"/>
<rect x="558.1" y="83.0"/>
<rect x="573.3" y="109.0"/>
<rect x="549.7" y="74.5"/>
<rect x="545.8" y="94.6"/>
<rect x="574.5" y="78.2"/>
<rect x="568.4" y="91.7"/>
<rect x="559.1" y="83.8"/>
<rect x="567.0" y="119.0"/>
<rect x="568.1" y="86.7"/>
<rect x="568.7" y="61.6"/>
<rect x="566.7" y="69.2"/>
<rect x="569.3" y="80.7"/>
<rect x="572.6" y="90.2"/>
<rect x="560.3" y="96.0"/>
<rect x="569.2" y="92.1"/>
<rect x="553.6" y="57.0"/>
<rect x="595.1" y="100.3"/>
<rect x="553.7" y="39.5"/>
<rect x="568.7" y="113.5"/>
<rect x="574.6" y="74.9"/>
<rect x="554.8" y="88.1"/>
<rect x="543.5" y="57.3"/>
<rect x="600.0" y="51.1"/>
<rect x="578.1" y="91.8"/>
<rect x="565.2" y="63.4"/>
<rect x="551.9" y="86.1"/>
<rect x="542.0" y="94.8"/>
<rect x="562.0" y="53.5"/>
<rect x="514.6" y="95.5"/>
<rect x="576.3" y="101.8"/>
<rect x="596.4" y="75.8"/>
<rect x="546.1" y="90.0"/>
<rect x="556.7" y="60.8"/>
<rect x="587.8" y="69.1"/>
<rect x="523.1" y="86.8"/>
<rect x="560.0" y="77.9"/>
</g>
<g class="b">
<rect x="561.0" y="85.4"/>
<rect x="577.8" y="81.8"/>
<rect x="572.1" y="81.6"/>
<rect x="579.1" y="50.1"/>
<rect x="565.4" y="90.8"/>
<rect x="554.4" y="102.6"/>
<rect x="570.7" y="106.3"/>
<rect x="580.1" y="97.4"/>
<rect x="566.1" y="73.4"/>
<rect x="565.2" y="82.1"/>
<rect x="571.2" y="82.0"/>
<rect x="606.5" y="66.3"/>
<rect x="582.8" y="82.0"/>
<rect x="564.9" y="101.4"/>
<rect x="568.0" y="71.6"/>
<rect x="573.2" y="85.8"/>
<rect x="542.1" y="91.3"/>
<rect x="554.7" y="78.1"/>
<rect x="574.1" y="92.7"/>
<rect x="564.3" y="118.7"/>
<rect x="573.3" y="80.0"/>
<rect x="571.0" y="86.8"/>
<rect x="540.2" y="66.6"/>
<rect x="550.5" y="117.2"/>
<rect x="565.7" y="84.7"/>
<rect x="560.9" y="102.1"/>
<rect x="568.4" y="112.2"/>
<rect x="577.9" y="111.4"/>
<rect x="566.5" y="93.7"/>
<rect x="562.5" y="86.2"/>
<rect x="546.2" y="80.4"/>
<rect x="556.0" y="79.4"/>
<rect x="583.3" y="92.1"/>
<rect x="583.4" y="100.4"/>
<rect x="579.6" y="102.4"/>
<rect x="560.4" y="99.6"/>
<rect x="563.9" y="81.1"/>
<rect x="583.0" y="118.5"/>
<rect x="555.7" y="112.6"/>
<rect x="578.5" y="76.7"/>
<rect x="571.4" y="93.7"/>
<rect x="572.7" y="83.6"/>
<rect x="551.8" y="88.9"/>
<rect x="578.8" y="99.4"/>
<rect x="576.3" y="103.8"/>
<rect x="555.5" y="87.9"/>
<rect x="572.3" y="102.4"/>
<rect x="570.0" y="95.7"/>
<rect x="569.7" y="117.6"/>
<rect x="540.5" y="88.2"/>
<rect x="599.1" y="91.8"/>
<rect x="545.0" y="90.4"/>
<rect x="550.0" y="79.1"/>
<rect x="570.8" y="112.3"/>
<rect x="573.8" y="97.8"/>
<rect x="580.8" y="91.3"/>
<rect x="557.2" y="87.1"/>
<rect x="572.2" y="84.7"/>
<rect x="559.6" y="83.5"/>
<rect x="549.1" y="74.3"/>
<rect x="566.9" y="83.5"/>
<rect x="568.5" y="108.0"/>
<rect x="571.8" y="88.1"/>
<rect x="553.3" y="73.6"/>
<rect x="572.7" y="76.4"/>
<rect x="573.4" y="73.6"/>
<rect x="569.7" y="87.5"/>
<rect x="580.5" y="83.1"/>
<rect x="563.3" y="91.9"/>
<rect x="568.7" y="111.9"/>
<rect x="564.8" y="81.1"/>
<rect x="564.0" y="95.1"/>
<rect x="570.9" y="98.1"/>
<rect x="550.6" y="122.8"/>
<rect x="591.1" y="88.1"/>
<rect x="552.8" y="90.6"/>
<rect x="573.2" y="57.6"/>
<rect x="568.2" y="68.0"/>
<rect x="573.8" y="107.6"/>
<rect x="581.0" y="67.6"/>
<rect x="585.3" y="101.1"/>
<rect x="563.5" y="95.5"/>
<rect x="587.1" y="83.9"/>
<rect x="567.8" y="80.7"/>
<rect x="582.5" y="58.7"/>
<rect x="585.8" y="75.1"/>
<rect x="579.6" y="66.0"/>
<rect x="556.2" y="80.2"/>
<rect x="578.4" y="66.0"/>
<rect x="575.6" y="79.7"/>
<rect x="583.6" y="84.2"/>
<rect x="574.1" y="86.1"/>
<rect x="590.5" y="83.5"/>
<rect x="567.7" y="116.0"/>
<rect x="569.0" y="98.0"/>
<rect x="558.7" y="91.3"/>
<rect x="539.5" y="90.0"/>
<rect x="559.9" y="67.7"/>
<rect x="550.2" y="104.3"/>
<rect x="573.4" y="67.5"/>
<rect x="590.8" y="78.9"/>
<rect x="563.4" y="91.9"/>
<rect x="553.7" y="66.1"/>
<rect x="558.6" y="104.9"/>
<rect x="580.0" y="66.6"/>
<rect x="583.1" y="89.0"/>
<rect x="574.3" y="89.2"/>
<rect x="573.2" y="74.6"/>
</g>
<g class="t">
<rect x="664.7" y="61.6"/>
<rect x="689.2" y="47.1"/>
<rect x="687.9" y="84.4"/>
<rect x="698.4" y="67.4"/>
<rect x="688.4" y="102.2"/>
<rect x="698.5" y="98.9"/>
<rect x="711.0" y="70.1"/>
<rect x="715.6" y="85.3"/>
<rect x="668.2" y="106.5"/>
<rect x="689.6" y="105.3"/>
<rect x="703.3" y="121.2"/>
<rect x="668.5" y="67.5"/>
<rect x="703.3" y="109.0"/>
<rect x="700.8" y="61.9"/>
<rect x="717.1" y="46.8"/>
<rect x="729.1" y="103.1"/>
<rect x="676.8" y="97.1"/>
<rect x="671.5" y="118.9"/>
<rect x="722.4" y="92.7"/>
<rect x="718.9" y="70.2"/>
<rect x="672.5" y="65.1"/>
<rect x="638.5" y="95.6"/>
<rect x="675.0" y="87.2"/>
<rect x="687.5" y="106.6"/>
<rect x="661.2" y="92.8"/>
<rect x="644.8" y="102.9"/>
<rect x="663.2" y="111.5"/>
<rect x="700.2" y="114.6"/>
<rect x="680.1" y="93.8"/>
<rect x="657.1" y="154.8"/>
<rect x="689.1" y="88.9"/>
<rect x="688.4" y="106.6"/>
<rect x="644.0" y="94.7"/>
<rect x="716.7" y="95.9"/>
<rect x="703.4" y="71.6"/>
<rect x="696.5" y="98.2"/>
<rect x="653.1" y="46.5"/>
<rect x="685.5" y="106.5"/>
<rect x="658.8" y="117.5"/>
<rect x="698.4" y="91.4"/>
<rect x="724.2" y="80.8"/>
<rect x="701.2" y="91.0"/>
<rect x="689.7" y="109.9"/>
<rect x="670.6" y="108.3"/>
<rect x="699.7" y="50.8"/>
<rect x="691.1" y="71.1"/>
<rect x="719.4" y="127.1"/>
<rect x="677.4" y="86.3"/>
<rect x="663.4" y="121.8"/>
<rect x="703.1" y="37.4"/>
<rect x="701.2" y="69.8"/>
<rect x="678.2" y="65.1"/>
<rect x="712.8" y="137.4"/>
<rect x="644.6" y="131.7"/>
<rect x="672.1" y="92.9"/>
<rect x="682.3" y="89.1"/>
<rect x="655.5" y="95.6"/>
<rect x="692.9" y="133.1"/>
<rect x="729.8" y="85.6"/>
<rect x="702.8" y="101.1"/>
<rect x="669.8" y="110.4"/>
<rect x="669.9" y="85.4"/>
<rect x="674.2" y="50.0"/>
<rect x="710.9" y="88.1"/>
<rect x="640.2" y="73.2"/>
<rect x="664.1" y="63.5"/>
<rect x="697.8" y="43.3"/>
<rect x="674.1" y="93.8"/>
<rect x="685.4" y="86.2"/>
<rect x="669.7" y="87.4"/>
<rect x="704.2" y="113.1"/>
<rect x="667.7" y="98.2"/>
<rect x="686.4" y="87.1"/>
<rect x="675.7" y="71.7"/>
<rect x="683.9" y="76.8"/>
<rect x="690.0" y="84.2"/>
<rect x="712.4" y="96.1"/>
<rect x="692.7" y="100.6"/>
<rect x="648.0" y="46.0"/>
<rect x="667.4" y="70.2"/>
<rect x="709.6" y="120.1"/>
<rect x="663.9" y="110.2"/>
<rect x="696.8" y="97.9"/>
<rect x="691.2" y="105.9"/>
<rect x="719.6" y="103.7"/>
<rect x="681.8" y="21.2"/>
<rect x="668.7" y="59.3"/>
<rect x="729.5" y="90.4"/>
<rect x="676.5" y="58.7"/>
<rect x="653.7" y="94.1"/>
<rect x="684.4" y="71.2"/>
<rect x="747.7" y="145.8"/>
<rect x="701.5" y="96.3"/>
<rect x="675.2" y="99.7"/>
<rect x="701.2" y="72.8"/>
<rect x="725.2" y="89.2"/>
<rect x="699.7" y="135.7"/>
<rect x="673.6" y="83.1"/>
<rect x="728.2" y="97.3"/>
<rect x="702.6" y="74.2"/>
<rect x="714.6" y="109.8"/>
<rect x="706.8" y="71.8"/>
<rect x="701.3" y="113.8"/>
<rect x="630.7" y="78.4"/>
<rect x="645.4" y="97.8"/>
<rect x="680.0" y="75.5"/>
<rect x="707.9" y="112.6"/>
<rect x="672.0" y="109.7"/>
<rect x="665.2" y="110.4"/>
<rect x="689.9" y="137.3"/>
<rect x="657.2" y="50.5"/>
<rect x="685.2" y="70.1"/>
<rect x="699.8" y="95.6"/>
<rect x="692.9" y="105.6"/>
<rect x="704.2" y="72.0"/>
<rect x="703.3" y="111.2"/>
<rect x="658.1" y="59.8"/>
<rect x="702.6" y="117.0"/>
<rect x="711.9" y="88.0"/>
<rect x="656.4" y="58.4"/>
<rect x="708.0" y="131.4"/>
<rect x="682.9" y="75.6"/>
<rect x="676.8" y="113.0"/>
<rect x="675.2" y="93.2"/>
<rect x="691.0" y="50.1"/>
<rect x="671.1" y="73.5"/>
<rect x="643.6" y="75.7"/>
<rect x="688.7" y="80.1"/>
<rect x="693.8" y="105.4"/>
<rect x="693.3" y="134.3"/>
<rect x="710.5" y="82.1"/>
<rect x="688.5" y="98.0"/>
<rect x="712.0" y="57.7"/>
<rect x="688.8" y="91.6"/>
<rect x="690.0" y="61.6"/>
<rect x="681.1" y="98.9"/>
<rect x="692.5" y="115.5"/>
<rect x="709.4" y="64.9"/>
<rect x="682.2" y="85.9"/>
<rect x="675.1" y="90.6"/>
<rect x="699.2" y="136.3"/>
<rect x="704.8" y="71.9"/>
<rect x="646.9" y="108.4"/>
<rect x="679.1" y="144.6"/>
<rect x="684.1" y="127.3"/>
<rect x="678.7" y="67.6"/>
<rect x="697.1" y="85.3"/>
<rect x="672.4" y="59.6"/>
<rect x="692.1" y="99.2"/>
<rect x="682.2" y="96.2"/>
<rect x="665.1" y="125.1"/>
<rect x="677.4" y="107.3"/>
<rect x="679.0" y="79.2"/>
<rect x="698.7" y="91.2"/>
<rect x="658.1" y="57.6"/>
<rect x="679.1" y="93.8"/>
<rect x="719.4" y="89.2"/>
<rect x="679.6" y="101.6"/>
<rect x="715.0" y="99.0"/>
<rect x="685.6" y="93.9"/>
<rect x="700.3" y="92.6"/>
<rect x="636.6" y="101.8"/>
<rect x="705.8" y="73.1"/>
<rect x="674.6" y="64.4"/>
<rect x="690.2" y="85.7"/>
<rect x="656.3" y="59.6"/>
<rect x="676.0" y="68.1"/>
<rect x="714.7" y="114.9"/>
<rect x="680.9" y="90.9"/>
<rect x="676.5" y="88.4"/>
<rect x="727.4" y="8.6"/>
<rect x="622.8" y="38.5"/>
<rect x="675.4" y="98.3"/>
<rect x="653.3" y="18.2"/>
<rect x="687.6" y="86.7"/>
<rect x="659.5" y="75.7"/>
<rect x="695.2" y="103.7"/>
<rect x="685.7" y="59.6"/>
<rect x="684.5" y="60.8"/>
<rect x="655.0" y="120.5"/>
<rect x="689.9" y="110.7"/>
<rect x="670.9" y="83.2"/>
<rect x="696.4" y="77.1"/>
<rect x="683.3" y="102.7"/>
<rect x="698.7" y="82.7"/>
<rect x="695.9" y="50.4"/>
<rect x="664.3" y="62.4"/>
<rect x="718.1" y="77.2"/>
<rect x="656.1" y="118.6"/>
<rect x="688.8" y="115.0"/>
<rect x="658.8" y="90.6"/>
<rect x="670.8" y="122.2"/>
<rect x="699.5" y="82.8"/>
<rect x="687.4" y="113.1"/>
<rect x="693.0" y="122.6"/>
<rect x="722.0" y="89.4"/>
<rect x="704.3" y="81.3"/>
<rect x="695.3" y="107.1"/>
<rect x="678.2" y="144.6"/>
<rect x="663.4" y="97.5"/>
<rect x="710.9" y="89.9"/>
<rect x="680.4" y="50.6"/>
<rect x="683.2" y="97.7"/>
<rect x="721.1" y="81.3"/>
<rect x="671.7" y="75.4"/>
<rect x="707.2" y="77.4"/>
<rect x="707.2" y="90.1"/>
<rect x="692.6" y="89.5"/>
<rect x="668.5" y="123.0"/>
<rect x="705.6" y="85.7"/>
<rect x="692.7" y="54.4"/>
<rect x="659.3" y="87.8"/>
<rect x="684.0" y="113.3"/>
<rect x="733.0" y="83.3"/>
<rect x="697.6" y="69.2"/>
<rect x="692.0" y="119.5"/>
<rect x="720.0" y="41.4"/>
<rect x="691.9" y="38.9"/>
<rect x="662.1" y="95.6"/>
<rect x="686.5" y="66.3"/>
<rect x="697.5" y="77.7"/>
<rect x="696.5" y="97.6"/>
<rect x="690.4" y="52.6"/>
<rect x="662.8" y="85.2"/>
<rect x="683.1" y="99.9"/>
<rect x="686.4" y="97.4"/>
<rect x="696.5" y="109.8"/>
<rect x="693.7" y="81.8"/>
<rect x="680.7" y="106.5"/>
<rect x="689.8" y="112.1"/>
<rect x="720.0" y="44.8"/>
<rect x="686.9" y="74.1"/>
<rect x="693.8" y="116.2"/>
<rect x="757.9" y="80.6"/>
<rect x="714.6" y="93.6"/>
<rect x="674.5" y="82.1"/>
<rect x="718.7" y="83.0"/>
<rect x="713.4" y="103.3"/>
<rect x="681.7" y="102.3"/>
<rect x="680.3" y="99.1"/>
<rect x="687.7" y="85.1"/>
<rect x="698.6" y="91.6"/>
<rect x="670.0" y="77.1"/>
<rect x="719.7" y="81.0"/>
<rect x="677.1" y="60.2"/>
<rect x="712.3" y="74.8"/>
<rect x="699.9" y="93.2"/>
<rect x="673.7" y="85.8"/>
<rect x="690.7" y="129.1"/>
<rect x="689.5" y="85.2"/>
<rect x="698.0" y="116.4"/>
<rect x="669.2" y="111.5"/>
<rect x="707.6" y="92.1"/>
<rect x="689.8" y="91.8"/>
<rect x="676.2" y="101.6"/>
<rect x="688.5" y="101.6"/>
<rect x="658.7" y="95.1"/>
<rect x="660.7" y="113.4"/>
<rect x="699.0" y="89.9"/>
<rect x="699.1" y="98.5"/>
<rect x="666.8" y="95.1"/>
<rect x="680.0" y="97.7"/>
<rect x="666.1" y="99.8"/>
<rect x="671.2" y="62.5"/>
<rect x="673.3" y="86.0"/>
<rect x="699.3" y="52.0"/>
<rect x="713.8" y="93.8"/>
<rect x="677.9" y="92.3"/>
<rect x="629.6" y="38.1"/>
<rect x="716.6" y="72.3"/>
<rect x="702.8" y="132.4"/>
<rect x="698.0" y="73.0"/>
<rect x="746.3" y="62.5"/>
<rect x="705.1" y="79.3"/>
<rect x="681.6" y="97.6"/>
<rect x="659.1" y="90.4"/>
<rect x="734.0" y="78.3"/>
<rect x="701.6" y="78.7"/>
<rect x="668.4" y="81.5"/>
<rect x="686.1" y="63.0"/>
<rect x="726.4" y="67.3"/>
<rect x="694.9" y="139.4"/>
<rect x="702.2" y="98.6"/>
<rect x="694.7" y="80.3"/>
<rect x="711.0" y="96.7"/>
<rect x="705.5" y="68.8"/>
<rect x="704.5" y="65.0"/>
<rect x="707.8" y="121.9"/>
<rect x="665.3" y="61.9"/>
<rect x="681.3" y="106.2"/>
<rect x="735.2" y="69.4"/>
<rect x="703.1" y="63.3"/>
<rect x="689.2" y="71.6"/>
<rect x="732.7" y="116.6"/>
<rect x="647.8" y="91.9"/>
<rect x="701.9" y="124.0"/>
<rect x="678.2" y="103.1"/>
<rect x="679.2" y="98.3"/>
<rect x="686.1" y="90.1"/>
<rect x="647.3" y="112.7"/>
<rect x="725.2" y="87.3"/>
<rect x="652.8" y="60.7"/>
<rect x="705.1" y="49.3"/>
<rect x="722.8" y="30.5"/>
<rect x="655.9" y="63.7"/>
<rect x="667.5" y="90.7"/>
<rect x="695.1" y="75.4"/>
<rect x="698.4" y="109.2"/>
<rect x="651.9" y="68.5"/>
<rect x="684.0" y="133.7"/>
<rect x="666.7" y="122.3"/>
<rect x="683.4" y="63.1"/>
<rect x="668.2" y="110.7"/>
<rect x="674.3" y="124.1"/>
<rect x="693.2" y="59.4"/>
<rect x="687.8" y="110.5"/>
<rect x="680.3" y="106.2"/>
<rect x="674.0" y="69.2"/>
<rect x="705.4" y="130.5"/>
<rect x="663.3" y="138.2"/>
<rect x="690.5" y="56.1"/>
<rect x="702.3" y="123.1"/>
<rect x="715.1" y="69.9"/>
<rect x="689.5" y="70.3"/>
<rect x="694.9" y="110.6"/>
<rect x="667.8" y="82.8"/>
<rect x="688.1" y="75.2"/>
<rect x="676.0" y="100.3"/>
<rect x="686.8" y="84.2"/>
<rect x="695.0" y="91.6"/>
<rect x="670.0" y="85.3"/>
<rect x="667.6" y="73.2"/>
<rect x="677.7" y="89.1"/>
<rect x="666.6" y="47.3"/>
<rect x="682.4" y="61.1"/>
<rect x="654.0" y="98.7"/>
<rect x="683.9" y="83.5"/>
<rect x="692.9" y="94.6"/>
<rect x="696.5" y="118.8"/>
<rect x="671.3" y="108.7"/>
<rect x="658.5" y="93.9"/>
<rect x="692.5" y="83.0"/>
<rect x="690.7" y="59.3"/>
<rect x="677.2" y="68.4"/>
<rect x="674.8" y="84.4"/>
<rect x="643.9" y="16.3"/>
<rect x="657.1" y="83.0"/>
<rect x="718.8" y="57.2"/>
<rect x="723.7" y="109.6"/>
<rect x="686.5" y="61.5"/>
<rect x="684.2" y="106.0"/>
<rect x="684.2" y="140.4"/>
<rect x="728.4" y="85.9"/>
<rect x="660.6" y="78.9"/>
<rect x="666.5" y="81.1"/>
<rect x="651.5" y="101.8"/>
<rect x="701.6" y="61.1"/>
<rect x="697.5" y="67.8"/>
<rect x="677.7" y="67.4"/>
<rect x="663.1" y="85.5"/>
<rect x="673.1" y="89.5"/>
<rect x="684.5" y="54.0"/>
<rect x="703.9" y="92.2"/>
<rect x="702.2" y="72.9"/>
<rect x="692.8" y="53.5"/>
<rect x="678.5" y="106.8"/>
<rect x="662.3" y="117.6"/>
<rect x="711.8" y="116.7"/>
<rect x="702.8" y="42.7"/>
<rect x="698.2" y="90.8"/>
<rect x="654.6" y="74.5"/>
<rect x="712.9" y="80.5"/>
<rect x="657.4" y="88.0"/>
<rect x="698.9" y="118.9"/>
<rect x="660.2" y="53.0"/>
<rect x="673.1" y="50.2"/>
<rect x="673.7" y="124.1"/>
<rect x="713.6" y="73.8"/>
<rect x="696.0" y="106.1"/>
<rect x="710.6" y="45.9"/>
<rect x="701.4" y="128.7"/>
<rect x="646.7" y="96.3"/>
<rect x="621.1" y="105.9"/>
<rect x="674.9" y="81.2"/>
<rect x="681.8" y="87.6"/>
<rect x="695.0" y="99.6"/>
<rect x="687.9" y="114.4"/>
<rect x="655.5" y="104.2"/>
<rect x="705.0" y="96.0"/>
<rect x="690.5" y="96.6"/>
<rect x="685.5" y="101.6"/>
<rect x="689.2" y="92.5"/>
<rect x="646.8" y="94.0"/>
<rect x="676.0" y="62.1"/>
<rect x="705.3" y="98.1"/>
<rect x="685.8" y="106.3"/>
<rect x="677.1" y="90.3"/>
<rect x="679.4" y="118.0"/>
<rect x="673.3" y="98.2"/>
<rect x="684.0" y="93.8"/>
<rect x="686.6" y="57.8"/>
<rect x="701.0" y="99.5"/>
<rect x="673.6" y="87.8"/>
<rect x="699.2" y="81.7"/>
<rect x="676.6" y="70.0"/>
<rect x="689.2" y="81.6"/>
<rect x="697.5" y="144.5"/>
<rect x="649.8" y="119.9"/>
<rect x="666.6" y="95.7"/>
<rect x="646.0" y="74.5"/>
<rect x="676.5" y="90.9"/>
<rect x="673.8" y="63.9"/>
<rect x="708.0" y="93.2"/>
<rect x="693.5" y="99.5"/>
<rect x="672.4" y="108.3"/>
<rect x="654.5" y="119.9"/>
<rect x="644.6" y="97.1"/>
<rect x="678.8" y="86.9"/>
<rect x="636.5" y="111.1"/>
<rect x="704.3" y="77.2"/>
<rect x="692.5" y="70.8"/>
<rect x="705.4" y="58.6"/>
<rect x="678.2" y="79.9"/>
<rect x="708.9" y="92.0"/>
<rect x="680.8" y="107.4"/>
<rect x="683.4" y="71.5"/>
<rect x="699.3" y="95.6"/>
<rect x="683.0" y="128.7"/>
<rect x="659.6" y="75.3"/>
<rect x="655.4" y="68.8"/>
<rect x="727.0" y="85.4"/>
<rect x="678.2" y="93.7"/>
<rect x="674.8" y="120.2"/>
<rect x="672.7" y="87.4"/>
<rect x="709.3" y="9.7"/>
<rect x="705.8" y="64.1"/>
<rect x="721.3" y="103.5"/>
<rect x="688.4" y="38.8"/>
<rect x="705.8" y="79.1"/>
<rect x="677.9" y="99.4"/>
<rect x="684.9" y="90.3"/>
<rect x="663.9" y="44.4"/>
<rect x="666.9" y="66.8"/>
<rect x="681.6" y="75.8"/>
<rect x="689.2" y="85.0"/>
<rect x="692.8" y="89.5"/>
<rect x="699.0" y="115.6"/>
<rect x="692.9" y="99.3"/>
<rect x="693.4" y="79.7"/>
<rect x="683.9" y="140.6"/>
<rect x="630.6" y="86.1"/>
<rect x="642.0" y="95.9"/>
<rect x="685.4" y="93.8"/>
<rect x="707.8" y="66.1"/>
<rect x="643.9" y="105.1"/>
<rect x="702.1" y="93.2"/>
<rect x="683.8" y="88.9"/>
<rect x="674.0" y="77.6"/>
<rect x="691.6" y="82.4"/>
<rect x="667.6" y="133.0"/>
<rect x="705.7" y="99.1"/>
<rect x="712.5" y="108.9"/>
<rect x="673.0" y="77.0"/>
<rect x="688.4" y="80.7"/>
<rect x="657.4" y="88.3"/>
<rect x="679.2" y="90.0"/>
<rect x="741.2" y="104.8"/>
<rect x="681.5" y="89.6"/>
<rect x="674.8" y="84.4"/>
<rect x="671.2" y="110.0"/>
<rect x="687.8" y="101.0"/>
<rect x="670.5" y="105.2"/>
<rect x="680.9" y="107.0"/>
<rect x="669.8" y="85.4"/>
<rect x="734.8" y="79.1"/>
<rect x="697.1" y="137.9"/>
<rect x="707.9" y="76.7"/>
<rect x="681.9" y="127.6"/>
<rect x="693.5" y="82.4"/>
<rect x="703.0" y="80.1"/>
<rect x="662.5" y="106.2"/>
<rect x="697.7" y="65.1"/>
<rect x="706.1" y="74.6"/>
<rect x="702.5" y="92.7"/>
<rect x="707.2" y="95.7"/>
<rect x="707.7" y="58.1"/>
<rect x="697.2" y="77.6"/>
<rect x="669.4" y="69.0"/>
<rect x="666.8" y="78.8"/>
<rect x="686.2" y="87.4"/>
<rect x="706.7" y="118.1"/>
<rect x="678.7" y="49.5"/>
<rect x="669.5" y="78.0"/>
<rect x="703.7" y="96.0"/>
<rect x="691.6" y="112.5"/>
<rect x="677.5" y="86.6"/>
<rect x="680.2" y="95.4"/>
<rect x="717.3" y="96.1"/>
<rect x="686.7" y="97.3"/>
<rect x="676.7" y="111.3"/>
<rect x="666.7" y="68.1"/>
<rect x="719.4" y="80.7"/>
<rect x="678.6" y="74.5"/>
<rect x="698.8" y="95.9"/>
<rect x="720.0" y="109.4"/>
<rect x="677.7" y="72.9"/>
<rect x="693.1" y="90.1"/>
<rect x="698.9" y="73.4"/>
<rect x="680.1" y="65.3"/>
<rect x="633.3" y="102.3"/>
<rect x="676.5" y="116.0"/>
<rect x="665.1" y="101.0"/>
<rect x="716.7" y="67.3"/>
<rect x="721.9" y="79.6"/>
<rect x="691.0" y="119.9"/>
<rect x="664.5" y="86.9"/>
<rect x="663.5" y="100.6"/>
<rect x="679.7" y="53.0"/>
<rect x="633.7" y="106.0"/>
<rect x="631.7" y="67.2"/>
<rect x="704.0" y="102.6"/>
<rect x="676.2" y="83.3"/>
<rect x="724.9" y="137.0"/>
<rect x="688.2" y="76.2"/>
<rect x="687.4" y="54.3"/>
<rect x="706.3" y="89.3"/>
<rect x="663.3" y="83.8"/>
<rect x="695.8" y="68.6"/>
<rect x="717.8" y="99.2"/>
<rect x="679.1" y="132.6"/>
<rect x="714.4" y="81.1"/>
<rect x="693.6" y="59.4"/>
<rect x="648.6" y="27.9"/>
<rect x="692.4" y="109.0"/>
<rect x="645.2" y="76.5"/>
<rect x="668.1" y="107.2"/>
<rect x="700.1" y="62.7"/>
<rect x="705.1" y="98.1"/>
<rect x="685.7" y="108.8"/>
<rect x="640.7" y="103.9"/>
<rect x="681.4" y="83.5"/>
<rect x="698.2" y="76.2"/>
<rect x="687.4" y="114.0"/>
<rect x="629.2" y="114.4"/>
<rect x="719.2" y="51.2"/>
<rect x="707.1" y="58.0"/>
<rect x="656.4" y="105.8"/>
<rect x="711.0" y="107.2"/>
<rect x="676.0" y="76.9"/>
<rect x="691.5" y="95.7"/>
<rect x="695.8" y="81.5"/>
<rect x="707.7" y="75.1"/>
<rect x="676.2" y="129.8"/>
<rect x="672.3" y="85.6"/>
<rect x="707.4" y="76.4"/>
<rect x="662.1" y="94.6"/>
<rect x="674.1" y="104.8"/>
<rect x="651.8" y="56.7"/>
<rect x="717.0" y="82.8"/>
<rect x="673.0" y="114.2"/>
<rect x="696.4" y="76.3"/>
<rect x="656.3" y="124.8"/>
<rect x="646.0" y="74.3"/>
<rect x="685.0" y="103.2"/>
<rect x="671.5" y="82.9"/>
<rect x="695.1" y="75.0"/>
<rect x="723.1" y="62.0"/>
<rect x="700.7" y="104.8"/>
<rect x="695.5" y="129.8"/>
<rect x="711.5" y="97.4"/>
<rect x="696.4" y="120.2"/>
<rect x="670.4" y="63.2"/>
<rect x="676.2" y="68.2"/>
<rect x="674.5" y="94.7"/>
<rect x="690.1" y="87.4"/>
<rect x="690.4" y="107.6"/>
<rect x="688.7" y="48.4"/>
<rect x="681.0" y="78.0"/>
<rect x="634.0" y="119.9"/>
<rect x="710.0" y="76.6"/>
<rect x="666.4" y="81.8"/>
<rect x="674.3" y="105.9"/>
<rect x="679.1" y="123.3"/>
<rect x="699.0" y="101.1"/>
<rect x="695.0" y="80.7"/>
<rect x="649.9" y="80.0"/>
<rect x="690.6" y="134.2"/>
<rect x="674.9" y="63.8"/>
<rect x="689.4" y="65.8"/>
<rect x="678.8" y="93.5"/>
<rect x="694.7" y="103.3"/>
<rect x="705.5" y="82.0"/>
<rect x="721.1" y="122.7"/>
<rect x="700.9" y="127.5"/>
<rect x="660.9" y="153.5"/>
<rect x="713.8" y="79.1"/>
<rect x="658.6" y="107.9"/>
<rect x="697.9" y="90.2"/>
<rect x="701.4" y="96.7"/>
<rect x="719.3" y="96.1"/>
<rect x="718.7" y="74.9"/>
<rect x="730.4" y="116.5"/>
<rect x="708.6" y="53.8"/>
<rect x="683.6" y="65.3"/>
<rect x="769.7" y="155.8"/>
<rect x="679.4" y="50.8"/>
<rect x="705.4" y="74.7"/>
<rect x="693.7" y="110.4"/>
<rect x="690.7" y="59.7"/>
<rect x="644.2" y="104.5"/>
<rect x="718.9" y="87.5"/>
<rect x="696.9" y="58.2"/>
<rect x="648.5" y="62.7"/>
<rect x="683.9" y="27.5"/>
<rect x="688.2" y="72.5"/>
<rect x="659.4" y="80.0"/>
<rect x="662.4" y="70.5"/>
<rect x="673.8" y="89.6"/>
<rect x="698.9" y="64.9"/>
<rect x="680.9" y="74.6"/>
<rect x="702.8" y="112.1"/>
<rect x="652.6" y="110.1"/>
<rect x="695.5" y="115.5"/>
<rect x="690.4" y="113.6"/>
<rect x="723.6" y="113.6"/>
<rect x="699.7" y="71.3"/>
<rect x="694.2" y="91.5"/>
<rect x="699.7" y="89.0"/>
<rect x="673.0" y="70.9"/>
<rect x="692.1" y="88.8"/>
<rect x="687.4" y="116.1"/>
<rect x="704.1" y="105.9"/>
<rect x="696.7" y="73.3"/>
<rect x="661.4" y="49.9"/>
<rect x="666.3" y="106.2"/>
<rect x="680.4" y="63.7"/>
<rect x="689.6" y="98.1"/>
<rect x="682.0" y="102.2"/>
<rect x="686.9" y="145.0"/>
<rect x="701.9" y="90.0"/>
<rect x="654.1" y="76.9"/>
<rect x="655.6" y="77.8"/>
<rect x="684.4" y="109.0"/>
<rect x="671.1" y="88.5"/>
<rect x="701.9" y="76.3"/>
<rect x="674.7" y="79.1"/>
<rect x="692.1" y="53.9"/>
<rect x="666.2" y="95.0"/>
<rect x="697.4" y="73.3"/>
<rect x="670.5" y="110.2"/>
</g>
<g class="b">
<rect x="676.7" y="72.5"/>
<rect x="686.9" y="100.8"/>
<rect x="721.3" y="111.1"/>
<rect x="706.3" y="94.8"/>
<rect x="684.1" y="97.0"/>
<rect x="661.2" y="102.5"/>
<rect x="689.1" y="98.1"/>
<rect x="675.9" y="74.2"/>
<rect x="680.8" y="88.9"/>
<rect x="693.4" y="84.5"/>
<rect x="693.5" y="99.0"/>
<rect x="674.2" y="88.1"/>
<rect x="669.2" y="81.8"/>
<rect x="700.5" y="79.5"/>
<rect x="712.8" y="96.6"/>
<rect x="700.3" y="91.0"/>
<rect x="700.0" y="104.8"/>
<rect x="690.4" y="82.1"/>
<rect x="682.0" y="116.5"/>
<rect x="686.7" y="83.1"/>
<rect x="680.0" y="65.9"/>
<rect x="682.6" y="94.0"/>
<rect x="682.8" y="78.9"/>
<rect x="694.2" y="95.9"/>
<rect x="683.4" y="93.8"/>
<rect x="676.6" y="101.5"/>
<rect x="676.4" y="84.8"/>
<rect x="690.7" y="83.6"/>
<rect x="674.4" y="118.9"/>
<rect x="708.3" y="65.1"/>
<rect x="690.5" y="71.7"/>
<rect x="693.0" y="71.2"/>
<rect x="696.4" y="96.9"/>
<rect x="710.8" y="106.4"/>
<rect x="683.2" y="102.7"/>
<rect x="683.2" y="87.9"/>
<rect x="682.6" y="64.8"/>
<rect x="696.7" y="61.0"/>
<rect x="686.0" y="96.9"/>
<rect x="690.5" y="67.4"/>
<rect x="680.7" y="99.0"/>
<rect x="703.0" y="111.9"/>
<rect x="665.9" y="95.9"/>
<rect x="682.9" y="100.2"/>
<rect x="667.5" y="87.5"/>
<rect x="698.0" y="80.5"/>
<rect x="684.4" y="75.8"/>
<rect x="703.2" y="70.9"/>
<rect x="677.4" y="84.8"/>
<rect x="685.0" y="119.1"/>
<rect x="692.5" y="77.8"/>
<rect x="696.4" y="94.3"/>
<rect x="692.6" y="88.6"/>
<rect x="694.9" y="73.1"/>
<rect x="673.7" y="83.5"/>
<rect x="674.9" y="99.3"/>
<rect x="713.8" y="106.8"/>
<rect x="694.7" y="94.2"/>
<rect x="680.3" y="71.3"/>
<rect x="696.0" y="68.8"/>
<rect x="692.9" y="87.5"/>
<rect x="698.6" y="90.2"/>
<rect x="690.4" y="81.3"/>
<rect x="667.0" y="84.7"/>
<rect x="697.9" y="104.2"/>
<rect x="706.6" y="75.5"/>
<rect x="677.1" y="99.3"/>
<rect x="683.2" y="125.6"/>
<rect x="693.0" y="68.2"/>
<rect x="681.9" y="111.5"/>
<rect x="665.7" y="91.6"/>
<rect x="671.3" y="112.0"/>
<rect x="683.3" y="75.0"/>
<rect x="667.2" y="79.5"/>
<rect x="656.4" y="82.8"/>
<rect x="716.8" y="90.9"/>
<rect x="685.6" y="73.2"/>
<rect x="693.3" y="82.9"/>
<rect x="678.2" y="108.9"/>
<rect x="694.6" y="77.0"/>
<rect x="707.9" y="88.7"/>
<rect x="695.4" y="91.6"/>
<rect x="704.0" y="98.1"/>
<rect x="684.6" y="99.6"/>
<rect x="684.0" y="91.4"/>
<rect x="709.9" y="74.6"/>
<rect x="675.8" y="83.9"/>
<rect x="682.6" y="107.8"/>
<rect x="668.7" y="121.7"/>
<rect x="709.2" y="83.2"/>
<rect x="691.4" y="84.4"/>
<rect x="697.6" y="98.8"/>
<rect x="698.6" y="100.2"/>
<rect x="713.7" y="87.1"/>
<rect x="697.9" y="86.9"/>
<rect x="689.5" y="92.6"/>
<rect x="688.3" y="94.4"/>
<rect x="678.1" y="87.4"/>
<rect x="681.3" y="73.1"/>
<rect x="680.0" y="82.5"/>
<rect x="687.1" y="67.6"/>
<rect x="685.7" y="73.7"/>
<rect x="678.6" y="92.2"/>
<rect x="703.2" y="93.5"/>
<rect x="682.8" y="83.3"/>
<rect x="706.1" y="66.7"/>
<rect x="703.5" y="68.4"/>
<rect x="680.9" y="90.2"/>
</g>
<g class="t">
<rect x="596.5" y="218.6"/>
<rect x="559.4" y="195.5"/>
<rect x="538.1" y="224.7"/>
<rect x="599.2" y="175.1"/>
<rect x="578.5" y="131.8"/>
<rect x="636.0" y="179.5"/>
<rect x="578.5" y="190.1"/>
<rect x="616.1" y="172.4"/>
<rect x="600.1" y="191.6"/>
<rect x="563.0" y="202.6"/>
<rect x="578.1" y="190.8"/>
<rect x="626.4" y="228.4"/>
<rect x="601.2" y="182.9"/>
<rect x="597.2" y="215.0"/>
<rect x="487.9" y="210.9"/>
<rect x="528.0" y="216.8"/>
<rect x="583.0" y="225.2"/>
<rect x="568.7" y="204.8"/>
<rect x="570.8" y="149.5"/>
<rect x="530.3" y="188.4"/>
<rect x="513.0" y="154.7"/>
<rect x="570.1" y="233.1"/>
<rect x="541.7" y="215.0"/>
<rect x="537.2" y="210.1"/>
<rect x="512.3" y="225.0"/>
<rect x="563.2" y="220.9"/>
<rect x="544.9" y="202.3"/>
<rect x="562.0" y="230.8"/>
<rect x="564.4" y="224.2"/>
<rect x="537.1" y="161.0"/>
<rect x="532.4" y="165.1"/>
<rect x="575.5" y="219.5"/>
<rect x="562.8" y="143.6"/>
<rect x="561.8" y="209.7"/>
<rect x="594.6" y="180.3"/>
<rect x="564.4" y="173.6"/>
<rect x="549.8" y="211.7"/>
<rect x="524.2" y="194.8"/>
<rect x="544.8" y="222.7"/>
<rect x="620.7" y="144.4"/>
<rect x="581.4" y="169.3"/>
<rect x="560.0" y="183.3"/>
<rect x="668.5" y="265.3"/>
<rect x="567.3" y="220.9"/>
<rect x="544.5" y="172.9"/>
<rect x="561.4" y="200.3"/>
<rect x="585.0" y="198.3"/>
<rect x="592.3" y="192.9"/>
<rect x="581.5" y="186.4"/>
<rect x="518.6" y="242.5"/>
<rect x="591.6" y="202.2"/>
<rect x="566.3" y="227.0"/>
<rect x="563.3" y="236.9"/>
<rect x="540.3" y="189.4"/>
<rect x="598.4" y="215.6"/>
<rect x="564.1" y="155.8"/>
<rect x="538.4" y="227.9"/>
<rect x="561.3" y="194.3"/>
<rect x="556.8" y="242.3"/>
<rect x="562.1" y="157.8"/>
<rect x="575.5" y="178.7"/>
<rect x="517.4" y="186.9"/>
<rect x="550.0" y="194.4"/>
<rect x="560.8" y="210.2"/>
<rect x="637.3" y="208.1"/>
<rect x="565.7" y="224.7"/>
<rect x="570.4" y="198.8"/>
<rect x="562.4" y="229.9"/>
<rect x="538.2" y="222.6"/>
<rect x="581.2" y="181.5"/>
<rect x="587.9" y="251.0"/>
<rect x="578.7" y="204.6"/>
<rect x="571.8" y="191.5"/>
<rect x="566.1" y="227.5"/>
<rect x="565.7" y="173.2"/>
<rect x="561.2" y="226.0"/>
<rect x="588.5" y="215.8"/>
<rect x="585.6" y="193.6"/>
<rect x="566.6" y="217.1"/>
<rect x="552.5" y="229.4"/>
<rect x="576.1" y="186.5"/>
<rect x="577.9" y="199.4"/>
<rect x="554.9" y="242.2"/>
<rect x="551.6" y="237.7"/>
<rect x="575.4" y="188.2"/>
<rect x="528.8" y="205.4"/>
<rect x="560.6" y="188.2"/>
<rect x="550.2" y="208.6"/>
<rect x="568.7" y="227.0"/>
<rect x="566.4" y="213.6"/>
<rect x="559.5" y="195.4"/>
<rect x="530.2" y="235.3"/>
<rect x="566.0" y="153.8"/>
<rect x="586.7" y="174.6"/>
<rect x="538.3" y="240.0"/>
<rect x="546.3" y="227.1"/>
<rect x="559.0" y="214.9"/>
<rect x="549.5" y="231.6"/>
<rect x="589.5" y="189.6"/>
<rect x="514.1" y="204.6"/>
<rect x="584.0" y="250.0"/>
<rect x="528.8" y="192.4"/>
<rect x="565.7" y="198.5"/>
<rect x="576.3" y="181.9"/>
<rect x="580.1" y="215.5"/>
<rect x="581.7" y="213.8"/>
<rect x="619.0" y="165.5"/>
<rect x="563.1" y="225.5"/>
<rect x="539.5" y="197.3"/>
<rect x="558.1" y="191.9"/>
<rect x="571.4" y="181.4"/>
<rect x="519.5" y="238.5"/>
<rect x="551.7" y="198.3"/>
<rect x="527.8" y="224.4"/>
<rect x="578.8" y="206.4"/>
<rect x="543.6" y="171.3"/>
<rect x="557.4" y="184.3"/>
<rect x="569.8" y="197.0"/>
<rect x="555.8" y="215.2"/>
<rect x="543.7" y="222.7"/>
<rect x="543.9" y="251.0"/>
<rect x="521.9" y="197.5"/>
<rect x="549.4" y="166.9"/>
<rect x="559.6" y="220.0"/>
<rect x="542.0" y="224.2"/>
<rect x="570.5" y="192.0"/>
<rect x="561.1" y="184.2"/>
<rect x="563.6" y="188.9"/>
<rect x="577.4" y="173.3"/>
<rect x="532.1" y="213.1"/>
<rect x="571.4" y="231.8"/>
<rect x="569.9" y="185.0"/>
<rect x="555.2" y="196.1"/>
<rect x="553.5" y="228.9"/>
<rect x="545.7" y="221.6"/>
<rect x="600.6" y="189.7"/>
<rect x="592.6" y="235.1"/>
<rect x="563.1" y="211.2"/>
<rect x="569.9" y="165.3"/>
<rect x="545.0" y="164.2"/>
<rect x="554.8" y="162.6"/>
<rect x="564.0" y="219.4"/>
<rect x="528.0" y="174.4"/>
<rect x="584.5" y="234.4"/>
<rect x="602.9" y="216.0"/>
<rect x="566.4" y="207.4"/>
<rect x="566.2" y="209.9"/>
<rect x="581.1" y="196.7"/>
<rect x="566.5" y="185.9"/>
<rect x="530.3" y="183.7"/>
<rect x="549.6" y="178.7"/>
<rect x="564.6" y="219.5"/>
<rect x="547.9" y="261.3"/>
<rect x="621.9" y="244.7"/>
<rect x="556.8" y="186.1"/>
<rect x="557.6" y="217.0"/>
<rect x="556.0" y="192.4"/>
<rect x="554.2" y="177.7"/>
<rect x="568.3" y="204.9"/>
<rect x="576.5" y="189.3"/>
<rect x="585.5" y="199.1"/>
<rect x="532.4" y="228.8"/>
<rect x="560.9" y="181.8"/>
<rect x="556.2" y="169.6"/>
<rect x="576.4" y="207.1"/>
<rect x="543.3" y="215.5"/>
<rect x="535.6" y="194.4"/>
<rect x="584.1" y="216.5"/>
<rect x="581.0" y="190.2"/>
<rect x="538.6" y="175.5"/>
<rect x="575.0" y="155.6"/>
<rect x="575.0" y="214.7"/>
<rect x="563.0" y="208.5"/>
<rect x="581.0" y="169.5"/>
<rect x="574.2" y="194.8"/>
<rect x="551.9" y="183.3"/>
<rect x="588.5" y="165.6"/>
<rect x="581.0" y="200.8"/>
<rect x="581.8" y="181.4"/>
<rect x="577.5" y="196.7"/>
<rect x="608.6" y="225.5"/>
<rect x="589.0" y="175.4"/>
<rect x="568.0" y="224.9"/>
<rect x="550.8" y="199.5"/>
<rect x="569.3" y="203.0"/>
<rect x="581.2" y="228.9"/>
<rect x="552.8" y="197.1"/>
<rect x="533.5" y="213.9"/>
<rect x="556.3" y="156.1"/>
<rect x="556.1" y="218.4"/>
<rect x="562.5" y="179.0"/>
<rect x="544.3" y="195.6"/>
<rect x="551.3" y="209.0"/>
<rect x="533.0" y="240.3"/>
<rect x="563.2" y="160.5"/>
<rect x="547.4" y="222.7"/>
<rect x="619.9" y="211.0"/>
<rect x="593.4" y="221.2"/>
<rect x="548.2" y="171.3"/>
<rect x="579.2" y="214.0"/>
<rect x="548.4" y="239.9"/>
<rect x="544.1" y="163.0"/>
<rect x="521.7" y="181.4"/>
<rect x="573.7" y="166.5"/>
<rect x="542.0" y="180.3"/>
<rect x="529.2" y="227.5"/>
<rect x="572.8" y="175.4"/>
<rect x="586.6" y="192.9"/>
<rect x="575.7" y="189.3"/>
<rect x="552.4" y="209.4"/>
<rect x="588.4" y="176.2"/>
<rect x="512.2" y="220.4"/>
<rect x="548.5" y="223.0"/>
<rect x="569.5" y="196.9"/>
<rect x="584.8" y="192.0"/>
<rect x="580.8" y="163.2"/>
<rect x="595.1" y="208.9"/>
<rect x="577.3" y="169.6"/>
<rect x="573.7" y="127.7"/>
<rect x="572.1" y="183.1"/>
<rect x="576.6" y="219.5"/>
<rect x="567.2" y="189.2"/>
<rect x="556.5" y="186.8"/>
<rect x="590.2" y="181.4"/>
<rect x="597.5" y="231.4"/>
<rect x="563.0" y="187.1"/>
<rect x="564.2" y="217.2"/>
<rect x="571.1" y="174.9"/>
<rect x="569.6" y="172.0"/>
<rect x="578.8" y="220.6"/>
<rect x="558.6" y="223.4"/>
<rect x="576.8" y="189.2"/>
<rect x="566.4" y="195.5"/>
<rect x="522.9" y="200.7"/>
<rect x="581.4" y="182.4"/>
<rect x="587.6" y="205.3"/>
<rect x="576.9" y="223.8"/>
<rect x="570.5" y="181.3"/>
<rect x="526.1" y="213.1"/>
<rect x="573.6" y="226.6"/>
<rect x="589.4" y="189.0"/>
<rect x="556.2" y="208.0"/>
<rect x="572.7" y="223.2"/>
<rect x="579.4" y="214.6"/>
<rect x="531.4" y="184.2"/>
<rect x="563.5" y="237.5"/>
<rect x="582.6" y="195.2"/>
<rect x="561.6" y="239.4"/>
<rect x="583.8" y="189.3"/>
<rect x="532.2" y="192.5"/>
<rect x="564.4" y="182.9"/>
<rect x="551.4" y="232.8"/>
<rect x="579.7" y="170.9"/>
<rect x="567.4" y="192.3"/>
<rect x="575.9" y="194.7"/>
<rect x="569.2" y="178.6"/>
<rect x="583.4" y="184.6"/>
<rect x="574.9" y="198.2"/>
<rect x="594.5" y="204.0"/>
<rect x="532.4" y="190.0"/>
<rect x="586.4" y="179.6"/>
<rect x="560.5" y="222.6"/>
<rect x="533.1" y="232.6"/>
<rect x="588.9" y="159.6"/>
<rect x="571.9" y="217.6"/>
<rect x="554.8" y="183.3"/>
<rect x="572.0" y="230.7"/>
<rect x="537.1" y="237.4"/>
<rect x="535.6" y="170.2"/>
<rect x="546.5" y="166.2"/>
<rect x="566.6" y="184.1"/>
<rect x="595.4" y="213.6"/>
<rect x="581.1" y="223.6"/>
<rect x="573.7" y="188.3"/>
<rect x="567.9" y="207.4"/>
<rect x="515.5" y="205.0"/>
<rect x="548.6" y="174.5"/>
<rect x="549.6" y="192.2"/>
<rect x="564.0" y="176.9"/>
<rect x="568.3" y="162.6"/>
<rect x="614.9" y="155.1"/>
<rect x="542.5" y="210.2"/>
<rect x="543.4" y="183.9"/>
<rect x="597.6" y="245.2"/>
<rect x="581.0" y="159.8"/>
<rect x="588.5" y="190.5"/>
<rect x="546.1" y="203.2"/>
<rect x="540.1" y="177.6"/>
<rect x="588.0" y="189.5"/>
<rect x="585.6" y="185.9"/>
<rect x="554.8" y="180.6"/>
<rect x="599.8" y="212.9"/>
<rect x="546.4" y="198.3"/>
<rect x="552.2" y="181.8"/>
<rect x="564.8" y="203.7"/>
<rect x="559.0" y="254.5"/>
<rect x="578.1" y="219.2"/>
<rect x="576.7" y="162.0"/>
<rect x="549.6" y="220.9"/>
<rect x="580.5" y="162.9"/>
<rect x="554.1" y="215.6"/>
<rect x="543.4" y="195.7"/>
<rect x="605.4" y="225.0"/>
<rect x="546.2" y="251.4"/>
<rect x="549.4" y="196.0"/>
<rect x="558.4" y="243.2"/>
<rect x="556.7" y="130.0"/>
<rect x="543.9" y="183.2"/>
<rect x="588.1" y="170.8"/>
<rect x="525.0" y="237.3"/>
<rect x="548.0" y="166.7"/>
<rect x="523.6" y="189.4"/>
<rect x="562.9" y="181.6"/>
<rect x="563.7" y="215.0"/>
<rect x="577.9" y="227.5"/>
<rect x="575.8" y="170.5"/>
<rect x="585.3" y="203.2"/>
<rect x="579.8" y="198.0"/>
<rect x="577.4" y="235.3"/>
<rect x="569.4" y="205.9"/>
<rect x="577.1" y="213.8"/>
<rect x="562.7" y="203.9"/>
<rect x="553.2" y="188.6"/>
<rect x="589.3" y="185.8"/>
<rect x="564.3" y="162.3"/>
<rect x="584.8" y="156.4"/>
<rect x="587.8" y="182.7"/>
<rect x="529.4" y="171.2"/>
<rect x="608.5" y="218.7"/>
<rect x="567.3" y="221.5"/>
<rect x="491.9" y="187.2"/>
<rect x="544.7" y="218.5"/>
<rect x="559.1" y="199.0"/>
<rect x="538.7" y="184.4"/>
<rect x="554.8" y="180.7"/>
<rect x="573.6" y="195.9"/>
<rect x="593.4" y="185.7"/>
<rect x="551.5" y="178.6"/>
<rect x="580.3" y="212.4"/>
<rect x="572.1" y="169.6"/>
<rect x="560.0" y="195.4"/>
<rect x="578.2" y="228.2"/>
<rect x="560.6" y="176.7"/>
<rect x="597.7" y="221.7"/>
<rect x="585.5" y="221.4"/>
<rect x="514.8" y="198.0"/>
<rect x="552.4" y="183.1"/>
<rect x="561.0" y="227.5"/>
<rect x="596.2" y="205.0"/>
<rect x="555.5" y="196.5"/>
<rect x="578.7" y="204.2"/>
<rect x="608.0" y="217.7"/>
<rect x="530.3" y="212.0"/>
<rect x="572.2" y="171.4"/>
<rect x="556.6" y="200.2"/>
<rect x="554.8" y="186.4"/>
<rect x="577.7" y="261.0"/>
<rect x="554.7" y="153.7"/>
<rect x="545.1" y="242.9"/>
<rect x="593.5" y="174.6"/>
<rect x="556.2" y="170.3"/>
<rect x="545.0" y="209.6"/>
<rect x="585.9" y="203.3"/>
<rect x="573.0" y="228.9"/>
<rect x="580.5" y="197.1"/>
<rect x="610.3" y="148.4"/>
<rect x="554.2" y="221.8"/>
<rect x="553.7" y="232.9"/>
<rect x="545.1" y="194.9"/>
<rect x="576.3" y="225.5"/>
<rect x="552.9" y="236.0"/>
<rect x="566.3" y="199.0"/>
<rect x="548.0" y="167.2"/>
<rect x="551.1" y="207.0"/>
<rect x="604.1" y="204.5"/>
<rect x="551.1" y="157.2"/>
<rect x="558.8" y="192.7"/>
<rect x="590.8" y="199.9"/>
<rect x="541.5" y="220.8"/>
<rect x="543.9" y="203.9"/>
<rect x="588.3" y="196.7"/>
<rect x="550.0" y="187.8"/>
<rect x="562.9" y="219.8"/>
<rect x="594.6" y="220.2"/>
<rect x="549.4" y="175.4"/>
<rect x="545.6" y="154.5"/>
<rect x="577.2" y="200.6"/>
<rect x="540.6" y="215.0"/>
<rect x="585.1" y="188.2"/>
<rect x="586.0" y="151.9"/>
<rect x="566.9" y="198.9"/>
<rect x="562.6" y="215.8"/>
<rect x="577.7" y="191.1"/>
<rect x="557.6" y="223.3"/>
<rect x="616.1" y="188.7"/>
<rect x="530.2" y="240.1"/>
<rect x="549.0" y="194.6"/>
<rect x="562.3" y="222.7"/>
<rect x="543.0" y="177.8"/>
<rect x="556.6" y="197.2"/>
<rect x="545.0" y="242.7"/>
<rect x="540.4" y="194.1"/>
<rect x="550.1" y="218.4"/>
<rect x="552.7" y="245.7"/>
<rect x="557.2" y="207.9"/>
<rect x="529.8" y="145.7"/>
<rect x="557.8" y="203.6"/>
<rect x="603.5" y="198.5"/>
<rect x="555.7" y="160.5"/>
<rect x="595.8" y="164.6"/>
<rect x="634.0" y="193.2"/>
<rect x="563.2" y="132.3"/>
<rect x="573.9" y="145.0"/>
<rect x="540.1" y="220.9"/>
<rect x="528.8" y="204.3"/>
<rect x="599.4" y="212.1"/>
<rect x="577.8" y="171.1"/>
<rect x="585.6" y="192.4"/>
<rect x="591.6" y="211.6"/>
<rect x="571.7" y="214.9"/>
<rect x="537.1" y="188.2"/>
<rect x="554.4" y="186.4"/>
<rect x="574.5" y="207.9"/>
<rect x="539.1" y="230.7"/>
<rect x="509.5" y="209.3"/>
<rect x="599.3" y="213.5"/>
<rect x="603.9" y="235.7"/>
<rect x="538.8" y="201.1"/>
<rect x="607.4" y="218.5"/>
<rect x="570.4" y="187.5"/>
<rect x="550.7" y="240.5"/>
<rect x="520.9" y="130.9"/>
<rect x="556.0" y="216.7"/>
<rect x="589.9" y="216.3"/>
<rect x="543.6" y="205.3"/>
<rect x="621.5" y="224.1"/>
<rect x="572.3" y="224.2"/>
<rect x="582.0" y="221.6"/>
<rect x="535.5" y="185.8"/>
<rect x="564.2" y="210.0"/>
<rect x="553.6" y="230.6"/>
<rect x="578.7" y="192.0"/>
<rect x="586.6" y="205.9"/>
<rect x="596.6" y="156.9"/>
<rect x="560.9" y="195.5"/>
<rect x="539.0" y="194.7"/>
<rect x="512.3" y="183.6"/>
<rect x="560.5" y="147.9"/>
<rect x="525.3" y="165.8"/>
<rect x="605.8" y="200.9"/>
<rect x="563.8" y="222.6"/>
<rect x="568.2" y="177.0"/>
<rect x="562.9" y="192.1"/>
<rect x="539.4" y="157.3"/>
<rect x="580.6" y="202.2"/>
<rect x="571.7" y="205.3"/>
<rect x="580.7" y="211.3"/>
<rect x="576.8" y="234.6"/>
<rect x="536.9" y="211.6"/>
<rect x="563.9" y="228.0"/>
<rect x="567.3" y="202.6"/>
<rect x="548.8" y="160.7"/>
<rect x="609.5" y="213.8"/>
<rect x="594.0" y="193.2"/>
<rect x="569.9" y="178.9"/>
<rect x="575.4" y="194.6"/>
<rect x="588.4" y="164.4"/>
<rect x="522.2" y="210.5"/>
<rect x="583.5" y="242.3"/>
<rect x="518.9" y="166.2"/>
<rect x="535.7" y="174.3"/>
<rect x="545.4" y="172.8"/>
<rect x="544.2" y="192.1"/>
<rect x="558.0" y="230.0"/>
<rect x="581.9" y="187.2"/>
<rect x="582.1" y="164.0"/>
<rect x="607.9" y="177.7"/>
<rect x="562.2" y="164.6"/>
<rect x="578.8" y="225.6"/>
<rect x="540.3" y="177.4"/>
<rect x="630.2" y="170.7"/>
<rect x="581.9" y="202.1"/>
<rect x="594.0" y="188.3"/>
<rect x="586.5" y="205.4"/>
<rect x="599.7" y="190.4"/>
<rect x="564.8" y="227.6"/>
<rect x="586.8" y="185.2"/>
<rect x="550.7" y="146.8"/>
<rect x="558.1" y="193.3"/>
<rect x="526.5" y="200.2"/>
<rect x="578.3" y="198.0"/>
<rect x="560.8" y="243.0"/>
<rect x="587.0" y="205.6"/>
<rect x="543.7" y="165.7"/>
<rect x="574.2" y="212.9"/>
<rect x="575.9" y="178.7"/>
<rect x="565.5" y="217.5"/>
<rect x="567.9" y="231.2"/>
<rect x="603.8" y="242.3"/>
<rect x="584.1" y="204.1"/>
<rect x="586.4" y="203.5"/>
<rect x="554.4" y="184.5"/>
<rect x="555.2" y="248.1"/>
<rect x="573.3" y="230.6"/>
<rect x="539.2" y="193.8"/>
<rect x="566.8" y="198.2"/>
<rect x="586.7" y="199.4"/>
<rect x="540.4" y="219.3"/>
<rect x="549.8" y="207.1"/>
<rect x="579.7" y="205.0"/>
<rect x="579.9" y="185.9"/>
<rect x="591.1" y="198.9"/>
<rect x="550.1" y="190.1"/>
<rect x="554.8" y="173.1"/>
<rect x="585.4" y="271.3"/>
<rect x="558.9" y="199.9"/>
<rect x="564.0" y="203.1"/>
<rect x="588.6" y="229.1"/>
<rect x="583.7" y="212.4"/>
<rect x="595.6" y="196.8"/>
<rect x="579.1" y="179.1"/>
<rect x="587.3" y="170.5"/>
<rect x="560.7" y="187.9"/>
<rect x="565.6" y="191.6"/>
<rect x="555.0" y="192.9"/>
<rect x="572.7" y="227.8"/>
<rect x="604.5" y="156.6"/>
<rect x="557.4" y="188.5"/>
<rect x="598.9" y="227.7"/>
<rect x="561.6" y="210.9"/>
<rect x="547.5" y="217.8"/>
<rect x="558.2" y="161.1"/>
<rect x="538.0" y="187.6"/>
<rect x="559.7" y="183.9"/>
<rect x="560.9" y="204.7"/>
<rect x="544.0" y="173.2"/>
<rect x="568.5" y="212.2"/>
<rect x="586.2" y="177.1"/>
<rect x="553.9" y="215.2"/>
<rect x="590.7" y="210.7"/>
<rect x="561.6" y="214.8"/>
<rect x="580.3" y="235.1"/>
<rect x="572.0" y="184.9"/>
<rect x="550.7" y="223.3"/>
<rect x="558.8" y="207.1"/>
<rect x="557.8" y="158.5"/>
<rect x="580.7" y="197.0"/>
<rect x="558.1" y="204.2"/>
<rect x="573.8" y="183.0"/>
<rect x="536.5" y="212.8"/>
<rect x="584.0" y="210.9"/>
<rect x="569.7" y="197.3"/>
<rect x="548.8" y="189.2"/>
<rect x="547.9" y="174.7"/>
<rect x="555.6" y="186.0"/>
<rect x="557.3" y="211.0"/>
<rect x="551.9" y="193.1"/>
<rect x="607.9" y="181.1"/>
<rect x="536.8" y="236.7"/>
<rect x="570.2" y="191.3"/>
<rect x="553.0" y="216.1"/>
<rect x="578.5" y="163.5"/>
<rect x="540.6" y="194.7"/>
<rect x="554.9" y="259.6"/>
<rect x="579.0" y="205.0"/>
<rect x="526.6" y="228.8"/>
<rect x="562.7" y="167.0"/>
<rect x="557.4" y="230.8"/>
<rect x="535.7" y="222.6"/>
<rect x="542.7" y="178.6"/>
<rect x="576.2" y="209.6"/>
<rect x="571.6" y="161.7"/>
<rect x="561.8" y="187.3"/>
<rect x="581.5" y="279.3"/>
<rect x="543.2" y="188.8"/>
<rect x="566.1" y="181.8"/>
<rect x="607.2" y="258.8"/>
<rect x="525.1" y="218.6"/>
<rect x="528.6" y="208.1"/>
<rect x="558.3" y="169.7"/>
<rect x="549.6" y="176.6"/>
<rect x="552.3" y="197.5"/>
<rect x="523.8" y="226.6"/>
<rect x="554.1" y="199.5"/>
<rect x="564.0" y="217.5"/>
<rect x="571.0" y="185.1"/>
<rect x="542.7" y="197.2"/>
<rect x="531.3" y="210.8"/>
<rect x="549.2" y="206.4"/>
<rect x="600.6" y="254.2"/>
<rect x="555.1" y="205.0"/>
<rect x="587.6" y="174.4"/>
<rect x="579.6" y="179.2"/>
<rect x="566.6" y="225.6"/>
<rect x="563.3" y="216.6"/>
<rect x="617.9" y="177.1"/>
<rect x="589.8" y="199.5"/>
<rect x="537.5" y="173.4"/>
<rect x="564.2" y="230.6"/>
<rect x="580.3" y="210.4"/>
<rect x="561.1" y="184.9"/>
<rect x="543.2" y="201.3"/>
<rect x="565.3" y="191.1"/>
<rect x="555.0" y="177.2"/>
<rect x="579.4" y="196.9"/>
<rect x="567.4" y="184.3"/>
<rect x="561.1" y="220.4"/>
<rect x="566.7" y="177.1"/>
<rect x="587.2" y="180.2"/>
<rect x="586.9" y="183.9"/>
<rect x="571.9" y="201.8"/>
<rect x="543.6" y="202.2"/>
<rect x="554.7" y="214.1"/>
<rect x="560.2" y="177.6"/>
<rect x="534.5" y="193.5"/>
<rect x="602.5" y="205.9"/>
<rect x="556.2" y="186.8"/>
<rect x="579.9" y="210.4"/>
<rect x="602.5" y="161.6"/>
<rect x="527.0" y="223.1"/>
<rect x="560.9" y="178.0"/>
<rect x="580.8" y="198.0"/>
<rect x="579.9" y="177.1"/>
<rect x="599.2" y="198.6"/>
<rect x="578.6" y="206.7"/>
<rect x="566.1" y="185.4"/>
<rect x="579.0" y="203.2"/>
<rect x="537.7" y="214.5"/>
<rect x="539.5" y="178.5"/>
<rect x="572.2" y="188.7"/>
<rect x="587.6" y="197.4"/>
<rect x="551.7" y="166.7"/>
<rect x="551.9" y="256.6"/>
<rect x="568.3" y="213.2"/>
<rect x="565.6" y="207.5"/>
<rect x="548.2" y="240.4"/>
<rect x="559.8" y="195.9"/>
<rect x="548.7" y="167.3"/>
<rect x="580.7" y="179.6"/>
<rect x="550.9" y="192.1"/>
<rect x="560.5" y="216.1"/>
<rect x="545.4" y="188.9"/>
<rect x="593.7" y="188.5"/>
<rect x="554.5" y="216.1"/>
<rect x="626.8" y="166.5"/>
<rect x="553.8" y="195.7"/>
<rect x="577.8" y="193.4"/>
<rect x="493.0" y="234.5"/>
<rect x="584.6" y="225.5"/>
</g>
<g class="b">
<rect x="568.2" y="207.7"/>
<rect x="555.2" y="200.4"/>
<rect x="556.6" y="212.3"/>
<rect x="574.9" y="195.5"/>
<rect x="561.0" y="186.1"/>
<rect x="560.9" y="234.5"/>
<rect x="566.6" y="215.7"/>
<rect x="574.2" y="224.4"/>
<rect x="562.7" y="190.6"/>
<rect x="580.0" y="216.6"/>
<rect x="558.4" y="219.0"/>
<rect x="566.6" y="202.9"/>
<rect x="590.1" y="211.0"/>
<rect x="570.8" y="199.0"/>
<rect x="569.3" y="218.5"/>
<rect x="572.6" y="192.8"/>
<rect x="572.5" y="201.8"/>
<rect x="570.7" y="200.7"/>
<rect x="539.0" y="180.5"/>
<rect x="561.9" y="172.1"/>
<rect x="547.7" y="232.3"/>
<rect x="575.6" y="196.9"/>
<rect x="570.9" y="171.6"/>
<rect x="569.9" y="217.5"/>
<rect x="569.2" y="184.9"/>
<rect x="579.1" y="195.9"/>
<rect x="559.5" y="206.3"/>
<rect x="562.9" y="232.5"/>
<rect x="565.0" y="234.1"/>
<rect x="572.5" y="185.8"/>
<rect x="566.8" y="204.2"/>
<rect x="585.1" y="221.7"/>
<rect x="599.3" y="194.0"/>
<rect x="561.2" y="236.7"/>
<rect x="555.4" y="208.6"/>
<rect x="587.3" y="189.0"/>
<rect x="562.4" y="192.8"/>
<rect x="573.5" y="209.2"/>
<rect x="566.3" y="212.9"/>
<rect x="556.8" y="198.1"/>
<rect x="572.7" y="232.3"/>
<rect x="566.3" y="204.3"/>
<rect x="583.5" y="204.6"/>
<rect x="583.4" y="206.9"/>
<rect x="581.5" y="206.1"/>
<rect x="555.1" y="191.3"/>
<rect x="572.3" y="230.4"/>
<rect x="590.6" y="199.0"/>
<rect x="598.7" y="187.6"/>
<rect x="556.0" y="216.8"/>
<rect x="547.3" y="216.5"/>
<rect x="571.6" y="212.5"/>
<rect x="551.4" y="209.0"/>
<rect x="578.8" y="202.8"/>
<rect x="579.9" y="203.9"/>
<rect x="571.2" y="199.0"/>
<rect x="549.5" y="201.2"/>
<rect x="573.2" y="192.6"/>
<rect x="541.8" y="181.3"/>
<rect x="583.6" y="200.3"/>
<rect x="557.0" y="221.2"/>
<rect x="564.6" y="181.9"/>
<rect x="561.2" y="190.8"/>
<rect x="564.4" y="190.4"/>
<rect x="567.7" y="210.1"/>
<rect x="559.5" y="200.6"/>
<rect x="564.8" y="215.4"/>
<rect x="557.6" y="214.3"/>
<rect x="582.8" y="200.7"/>
<rect x="554.4" y="199.1"/>
<rect x="544.1" y="195.7"/>
<rect x="551.5" y="201.1"/>
<rect x="562.0" y="210.9"/>
<rect x="568.3" y="209.6"/>
<rect x="566.2" y="207.5"/>
<rect x="552.3" y="213.0"/>
<rect x="583.5" y="219.4"/>
<rect x="549.6" y="209.5"/>
<rect x="546.0" y="214.4"/>
<rect x="564.2" y="196.9"/>
<rect x="557.2" y="200.1"/>
<rect x="566.7" y="189.6"/>
<rect x="567.6" y="207.2"/>
<rect x="573.5" y="202.9"/>
<rect x="566.7" y="236.8"/>
<rect x="579.7" y="208.2"/>
<rect x="549.0" y="212.4"/>
<rect x="574.1" y="165.3"/>
<rect x="564.7" y="209.0"/>
<rect x="567.3" y="204.9"/>
<rect x="564.8" y="223.4"/>
<rect x="571.7" y="199.4"/>
<rect x="563.9" y="233.5"/>
<rect x="555.7" y="195.9"/>
<rect x="571.0" y="205.6"/>
<rect x="570.7" y="223.0"/>
<rect x="581.4" y="209.6"/>
<rect x="567.4" y="202.6"/>
<rect x="563.9" y="218.0"/>
<rect x="550.6" y="188.5"/>
<rect x="561.0" y="189.7"/>
<rect x="557.4" y="220.7"/>
<rect x="537.9" y="211.8"/>
<rect x="550.0" y="200.0"/>
<rect x="559.5" y="189.2"/>
<rect x="547.8" y="204.5"/>
<rect x="528.8" y="173.0"/>
<rect x="561.8" y="219.3"/>
</g>
<g class="t">
<rect x="715.3" y="188.8"/>
<rect x="666.5" y="200.9"/>
<rect x="684.4" y="210.1"/>
<rect x="682.8" y="217.0"/>
<rect x="645.3" y="168.9"/>
<rect x="703.8" y="179.2"/>
<rect x="662.8" y="159.4"/>
<rect x="672.3" y="193.3"/>
<rect x="712.0" y="215.3"/>
<rect x="679.5" y="197.4"/>
<rect x="651.0" y="204.3"/>
<rect x="702.7" y="156.6"/>
<rect x="672.4" y="211.2"/>
<rect x="690.8" y="182.5"/>
<rect x="686.0" y="242.8"/>
<rect x="699.2" y="189.2"/>
<rect x="746.3" y="210.1"/>
<rect x="662.3" y="191.5"/>
<rect x="689.3" y="203.3"/>
<rect x="704.7" y="235.7"/>
<rect x="665.9" y="199.9"/>
<rect x="685.3" y="205.9"/>
<rect x="701.2" y="230.3"/>
<rect x="685.4" y="208.4"/>
<rect x="690.5" y="199.6"/>
<rect x="680.4" y="180.9"/>
<rect x="690.9" y="223.0"/>
<rect x="696.2" y="185.8"/>
<rect x="718.8" y="227.5"/>
<rect x="683.0" y="228.4"/>
<rect x="688.7" y="220.2"/>
<rect x="696.8" y="197.4"/>
<rect x="658.1" y="167.6"/>
<rect x="663.5" y="212.2"/>
<rect x="707.9" y="192.5"/>
<rect x="672.3" y="163.8"/>
<rect x="726.2" y="209.6"/>
<rect x="640.0" y="216.5"/>
<rect x="661.4" y="192.0"/>
<rect x="696.3" y="219.0"/>
<rect x="656.0" y="209.7"/>
<rect x="643.4" y="209.3"/>
<rect x="686.2" y="175.4"/>
<rect x="681.7" y="210.3"/>
<rect x="633.5" y="214.1"/>
<rect x="676.3" y="170.9"/>
<rect x="644.0" y="206.7"/>
<rect x="679.6" y="207.7"/>
<rect x="666.4" y="214.3"/>
<rect x="730.5" y="233.7"/>
<rect x="671.4" y="200.5"/>
<rect x="648.0" y="210.8"/>
<rect x="702.6" y="223.4"/>
<rect x="708.0" y="149.3"/>
<rect x="656.4" y="187.2"/>
<rect x="701.4" y="223.8"/>
<rect x="686.2" y="207.4"/>
<rect x="702.5" y="164.0"/>
<rect x="692.1" y="252.0"/>
<rect x="712.0" y="219.6"/>
<rect x="695.6" y="185.6"/>
<rect x="670.8" y="204.0"/>
<rect x="697.6" y="206.5"/>
<rect x="725.0" y="256.3"/>
<rect x="674.3" y="175.4"/>
<rect x="659.6" y="208.2"/>
<rect x="642.7" y="250.2"/>
<rect x="647.8" y="210.2"/>
<rect x="709.2" y="229.5"/>
<rect x="660.7" y="232.8"/>
<rect x="714.3" y="180.4"/>
<rect x="720.1" y="183.9"/>
<rect x="670.4" y="174.2"/>
<rect x="686.2" y="215.6"/>
<rect x="634.1" y="250.7"/>
<rect x="696.1" y="182.6"/>
<rect x="694.3" y="245.5"/>
<rect x="658.1" y="199.3"/>
<rect x="700.3" y="193.8"/>
<rect x="681.4" y="222.1"/>
<rect x="709.3" y="183.3"/>
<rect x="701.0" y="185.0"/>
<rect x="669.2" y="192.8"/>
<rect x="694.3" y="181.3"/>
<rect x="647.6" y="227.9"/>
<rect x="657.5" y="220.2"/>
<rect x="684.5" y="197.8"/>
<rect x="680.2" y="206.9"/>
<rect x="703.8" y="228.2"/>
<rect x="650.2" y="234.8"/>
<rect x="721.0" y="223.7"/>
<rect x="717.1" y="226.2"/>
<rect x="681.8" y="192.9"/>
<rect x="687.7" y="177.4"/>
<rect x="676.7" y="235.4"/>
<rect x="665.5" y="178.2"/>
<rect x="719.5" y="221.1"/>
<rect x="704.6" y="244.0"/>
<rect x="700.1" y="175.6"/>
<rect x="706.5" y="182.8"/>
<rect x="705.8" y="243.6"/>
<rect x="644.7" y="204.6"/>
<rect x="651.5" y="200.0"/>
<rect x="669.1" y="237.5"/>
<rect x="692.3" y="194.1"/>
<rect x="683.0" y="187.5"/>
<rect x="695.9" y="195.6"/>
<rect x="693.0" y="216.3"/>
<rect x="653.9" y="220.1"/>
<rect x="682.7" y="178.1"/>
<rect x="689.3" y="194.0"/>
<rect x="698.8" y="212.5"/>
<rect x="685.7" y="204.7"/>
<rect x="680.6" y="178.7"/>
<rect x="661.7" y="158.0"/>
<rect x="706.7" y="205.1"/>
<rect x="732.2" y="204.7"/>
<rect x="685.3" y="248.8"/>
<rect x="686.2" y="193.9"/>
<rect x="688.2" y="227.6"/>
<rect x="724.5" y="237.3"/>
<rect x="667.3" y="162.6"/>
<rect x="724.4" y="202.1"/>
<rect x="666.8" y="197.6"/>
<rect x="679.9" y="250.6"/>
<rect x="665.6" y="267.7"/>
<rect x="650.0" y="198.5"/>
<rect x="711.1" y="209.2"/>
<rect x="681.4" y="191.6"/>
<rect x="711.6" y="214.1"/>
<rect x="686.8" y="195.5"/>
<rect x="692.4" y="258.2"/>
<rect x="683.8" y="181.6"/>
<rect x="656.9" y="187.7"/>
<rect x="679.7" y="189.0"/>
<rect x="681.8" y="222.9"/>
<rect x="688.9" y="232.5"/>
<rect x="698.8" y="182.9"/>
<rect x="727.1" y="231.3"/>
<rect x="703.2" y="199.6"/>
<rect x="636.1" y="191.5"/>
<rect x="669.8" y="221.2"/>
<rect x="710.1" y="213.8"/>
<rect x="691.7" y="218.3"/>
<rect x="675.8" y="233.5"/>
<rect x="659.6" y="238.8"/>
<rect x="700.4" y="222.7"/>
<rect x="700.0" y="222.9"/>
<rect x="698.1" y="197.6"/>
<rect x="707.9" y="181.8"/>
<rect x="687.0" y="227.3"/>
<rect x="712.0" y="150.3"/>
<rect x="707.3" y="180.3"/>
<rect x="673.4" y="227.9"/>
<rect x="673.6" y="180.9"/>
<rect x="686.0" y="165.6"/>
<rect x="703.3" y="192.3"/>
<rect x="696.2" y="208.4"/>
<rect x="662.4" y="214.2"/>
<rect x="677.8" y="185.4"/>
<rect x="652.8" y="178.4"/>
<rect x="687.0" y="217.9"/>
<rect x="694.8" y="225.5"/>
<rect x="665.1" y="188.4"/>
<rect x="728.8" y="226.4"/>
<rect x="709.6" y="201.0"/>
<rect x="654.5" y="181.6"/>
<rect x="675.4" y="202.0"/>
<rect x="654.7" y="186.2"/>
<rect x="688.9" y="209.8"/>
<rect x="675.5" y="261.0"/>
<rect x="681.7" y="211.3"/>
<rect x="644.1" y="182.0"/>
<rect x="705.4" y="214.1"/>
<rect x="653.2" y="228.7"/>
<rect x="678.5" y="244.0"/>
<rect x="654.2" y="204.1"/>
<rect x="691.9" y="208.9"/>
<rect x="693.9" y="225.2"/>
<rect x="676.5" y="212.9"/>
<rect x="650.4" y="168.3"/>
<rect x="691.7" y="214.8"/>
<rect x="698.5" y="161.1"/>
<rect x="700.9" y="214.4"/>
<rect x="705.6" y="230.4"/>
<rect x="684.4" y="202.4"/>
<rect x="665.2" y="192.0"/>
<rect x="654.7" y="190.6"/>
<rect x="674.0" y="184.1"/>
<rect x="699.0" y="180.6"/>
<rect x="713.7" y="183.0"/>
<rect x="673.7" y="211.2"/>
<rect x="642.2" y="240.1"/>
<rect x="677.4" y="205.8"/>
<rect x="690.0" y="204.8"/>
<rect x="689.5" y="219.1"/>
<rect x="693.2" y="213.3"/>
<rect x="680.2" y="208.8"/>
<rect x="663.9" y="206.3"/>
<rect x="656.4" y="229.8"/>
<rect x="661.2" y="207.4"/>
<rect x="691.3" y="213.6"/>
<rect x="701.4" y="229.9"/>
<rect x="702.8" y="214.6"/>
<rect x="671.1" y="184.5"/>
<rect x="683.7" y="200.2"/>
<rect x="708.4" y="255.7"/>
<rect x="702.5" y="173.8"/>
<rect x="681.2" y="162.0"/>
<rect x="716.9" y="199.5"/>
<rect x="713.4" y="214.3"/>
<rect x="678.6" y="208.9"/>
<rect x="667.5" y="188.4"/>
<rect x="656.3" y="223.2"/>
<rect x="655.9" y="198.7"/>
<rect x="651.6" y="193.5"/>
<rect x="670.1" y="224.4"/>
<rect x="659.4" y="213.5"/>
<rect x="653.3" y="216.9"/>
<rect x="668.1" y="229.8"/>
<rect x="690.5" y="162.3"/>
<rect x="705.2" y="225.5"/>
<rect x="733.6" y="204.4"/>
<rect x="706.0" y="206.7"/>
<rect x="716.2" y="189.0"/>
<rect x="696.2" y="253.6"/>
<rect x="714.5" y="168.3"/>
<rect x="652.0" y="218.4"/>
<rect x="651.6" y="216.1"/>
<rect x="669.7" y="210.0"/>
<rect x="717.7" y="163.2"/>
<rect x="642.9" y="191.1"/>
<rect x="670.3" y="158.2"/>
<rect x="653.9" y="166.4"/>
<rect x="661.1" y="183.7"/>
<rect x="699.5" y="190.0"/>
<rect x="695.7" y="249.7"/>
<rect x="669.8" y="206.0"/>
<rect x="686.7" y="185.6"/>
<rect x="680.2" y="210.1"/>
<rect x="706.4" y="179.7"/>
<rect x="691.0" y="222.8"/>
<rect x="700.6" y="189.5"/>
<rect x="660.7" y="190.9"/>
<rect x="676.5" y="225.3"/>
<rect x="729.2" y="177.7"/>
<rect x="679.0" y="233.8"/>
<rect x="692.2" y="253.6"/>
<rect x="664.9" y="176.3"/>
<rect x="683.4" y="255.5"/>
<rect x="653.8" y="212.8"/>
<rect x="702.5" y="193.4"/>
<rect x="674.3" y="188.5"/>
<rect x="653.0" y="162.3"/>
<rect x="708.1" y="224.2"/>
<rect x="678.4" y="224.2"/>
<rect x="715.1" y="253.9"/>
<rect x="682.6" y="192.5"/>
<rect x="714.1" y="203.8"/>
<rect x="648.9" y="177.3"/>
<rect x="706.6" y="211.7"/>
<rect x="665.1" y="246.6"/>
<rect x="659.6" y="213.0"/>
<rect x="672.8" y="225.3"/>
<rect x="697.5" y="218.2"/>
<rect x="684.1" y="210.2"/>
<rect x="680.3" y="238.8"/>
<rect x="648.6" y="167.4"/>
<rect x="696.3" y="240.8"/>
<rect x="663.8" y="233.9"/>
<rect x="667.4" y="205.8"/>
<rect x="670.5" y="209.1"/>
<rect x="667.3" y="278.9"/>
<rect x="645.3" y="191.2"/>
<rect x="650.8" y="197.3"/>
<rect x="688.7" y="219.5"/>
<rect x="708.7" y="224.6"/>
<rect x="684.1" y="196.7"/>
<rect x="627.8" y="226.8"/>
<rect x="608.0" y="188.3"/>
<rect x="710.4" y="209.9"/>
<rect x="717.0" y="183.7"/>
<rect x="693.6" y="230.6"/>
<rect x="648.2" y="227.5"/>
<rect x="703.2" y="219.4"/>
<rect x="668.4" y="211.1"/>
<rect x="662.3" y="246.5"/>
<rect x="697.2" y="200.2"/>
<rect x="717.5" y="212.9"/>
<rect x="698.5" y="186.1"/>
<rect x="695.3" y="204.7"/>
<rect x="675.5" y="190.9"/>
<rect x="679.7" y="186.4"/>
<rect x="651.7" y="185.2"/>
<rect x="687.0" y="203.8"/>
<rect x="663.2" y="214.6"/>
<rect x="677.0" y="202.5"/>
<rect x="698.4" y="201.8"/>
<rect x="679.0" y="251.2"/>
<rect x="652.7" y="197.7"/>
<rect x="715.3" y="216.1"/>
<rect x="689.2" y="245.1"/>
<rect x="661.6" y="192.2"/>
<rect x="665.9" y="201.7"/>
<rect x="648.7" y="206.1"/>
<rect x="702.7" y="209.5"/>
<rect x="660.1" y="200.1"/>
<rect x="666.3" y="209.7"/>
<rect x="674.0" y="197.6"/>
<rect x="706.4" y="193.4"/>
<rect x="680.8" y="202.4"/>
<rect x="709.5" y="232.8"/>
<rect x="673.9" y="246.5"/>
<rect x="678.3" y="206.5"/>
<rect x="689.4" y="197.8"/>
<rect x="656.4" y="202.5"/>
<rect x="687.6" y="240.5"/>
<rect x="681.7" y="197.6"/>
<rect x="688.4" y="193.2"/>
<rect x="656.3" y="212.8"/>
<rect x="683.1" y="189.3"/>
<rect x="704.4" y="209.4"/>
<rect x="708.7" y="179.6"/>
<rect x="705.5" y="199.8"/>
<rect x="663.4" y="215.7"/>
<rect x="672.8" y="213.8"/>
<rect x="679.0" y="239.6"/>
<rect x="737.1" y="176.4"/>
<rect x="731.1" y="200.9"/>
<rect x="715.0" y="227.7"/>
<rect x="686.8" y="195.7"/>
<rect x="726.4" y="197.9"/>
<rect x="714.2" y="220.7"/>
<rect x="647.8" y="193.9"/>
<rect x="699.8" y="230.9"/>
<rect x="704.8" y="187.1"/>
<rect x="686.2" y="204.8"/>
<rect x="701.3" y="180.3"/>
<rect x="667.3" y="228.5"/>
<rect x="699.3" y="175.6"/>
<rect x="678.9" y="185.0"/>
<rect x="693.3" y="181.8"/>
<rect x="698.2" y="204.7"/>
<rect x="709.1" y="198.1"/>
<rect x="719.9" y="189.6"/>
<rect x="654.4" y="214.1"/>
<rect x="660.2" y="184.0"/>
<rect x="662.4" y="199.6"/>
<rect x="698.2" y="197.0"/>
<rect x="653.9" y="181.6"/>
<rect x="666.0" y="181.7"/>
<rect x="703.4" y="194.1"/>
<rect x="698.9" y="164.3"/>
<rect x="662.5" y="220.8"/>
<rect x="667.8" y="207.5"/>
<rect x="703.5" y="180.1"/>
<rect x="705.9" y="201.0"/>
<rect x="646.3" y="214.1"/>
<rect x="709.3" y="186.8"/>
<rect x="679.0" y="156.7"/>
<rect x="675.8" y="202.7"/>
<rect x="703.2" y="187.7"/>
<rect x="676.3" y="250.0"/>
<rect x="678.4" y="191.1"/>
<rect x="694.5" y="212.8"/>
<rect x="703.8" y="206.2"/>
<rect x="677.7" y="165.4"/>
<rect x="680.8" y="205.9"/>
<rect x="707.7" y="190.0"/>
<rect x="653.0" y="172.1"/>
<rect x="700.8" y="188.3"/>
<rect x="693.3" y="215.9"/>
<rect x="706.8" y="197.5"/>
<rect x="680.2" y="195.0"/>
<rect x="691.2" y="251.4"/>
<rect x="674.0" y="193.2"/>
<rect x="676.4" y="226.8"/>
<rect x="669.6" y="210.0"/>
<rect x="699.9" y="115.8"/>
<rect x="686.2" y="225.1"/>
<rect x="688.7" y="172.6"/>
<rect x="711.7" y="164.4"/>
<rect x="654.1" y="202.7"/>
<rect x="720.9" y="222.1"/>
<rect x="652.8" y="193.6"/>
<rect x="705.0" y="166.9"/>
<rect x="687.0" y="192.5"/>
<rect x="711.6" y="226.6"/>
<rect x="685.5" y="206.6"/>
<rect x="728.0" y="216.2"/>
<rect x="685.7" y="212.0"/>
<rect x="687.0" y="186.0"/>
<rect x="698.2" y="218.2"/>
<rect x="698.7" y="200.6"/>
<rect x="712.2" y="197.0"/>
<rect x="651.1" y="181.6"/>
<rect x="693.8" y="198.6"/>
<rect x="708.1" y="177.9"/>
<rect x="707.7" y="216.6"/>
<rect x="694.4" y="273.8"/>
<rect x="708.2" y="189.2"/>
<rect x="656.3" y="196.1"/>
<rect x="708.3" y="212.6"/>
<rect x="704.7" y="224.0"/>
<rect x="643.0" y="220.7"/>
<rect x="697.1" y="244.1"/>
<rect x="674.0" y="197.6"/>
<rect x="712.7" y="156.9"/>
<rect x="689.1" y="192.7"/>
<rect x="677.8" y="217.4"/>
<rect x="676.9" y="205.0"/>
<rect x="715.0" y="191.5"/>
<rect x="686.9" y="220.5"/>
<rect x="650.7" y="187.0"/>
<rect x="689.4" y="214.8"/>
<rect x="706.0" y="227.2"/>
<rect x="713.3" y="204.0"/>
<rect x="720.2" y="172.9"/>
<rect x="677.0" y="224.2"/>
<rect x="677.5" y="217.1"/>
<rect x="694.0" y="223.8"/>
<rect x="702.3" y="207.0"/>
<rect x="689.3" y="214.0"/>
<rect x="669.0" y="171.3"/>
<rect x="683.6" y="175.0"/>
<rect x="656.8" y="202.9"/>
<rect x="726.3" y="198.0"/>
<rect x="664.8" y="236.3"/>
<rect x="678.4" y="219.0"/>
<rect x="713.7" y="192.6"/>
<rect x="666.8" y="165.3"/>
<rect x="702.6" y="188.3"/>
<rect x="667.0" y="178.8"/>
<rect x="676.9" y="187.1"/>
<rect x="663.9" y="164.2"/>
<rect x="681.8" y="183.0"/>
<rect x="663.8" y="205.0"/>
<rect x="698.8" y="186.7"/>
<rect x="727.7" y="183.3"/>
<rect x="691.7" y="193.7"/>
<rect x="686.1" y="226.2"/>
<rect x="689.3" y="251.1"/>
<rect x="687.1" y="211.6"/>
<rect x="684.6" y="173.3"/>
<rect x="662.1" y="180.0"/>
<rect x="651.8" y="217.9"/>
<rect x="668.3" y="231.4"/>
<rect x="660.5" y="191.5"/>
<rect x="657.7" y="161.9"/>
<rect x="660.7" y="170.7"/>
<rect x="666.7" y="214.0"/>
<rect x="650.4" y="194.2"/>
<rect x="687.0" y="213.7"/>
<rect x="681.4" y="196.3"/>
<rect x="696.3" y="200.6"/>
<rect x="710.4" y="213.1"/>
<rect x="663.8" y="202.9"/>
<rect x="704.5" y="191.5"/>
<rect x="665.6" y="191.9"/>
<rect x="676.3" y="224.1"/>
<rect x="693.1" y="222.5"/>
<rect x="685.4" y="180.8"/>
<rect x="660.5" y="249.0"/>
<rect x="685.4" y="173.8"/>
<rect x="696.6" y="213.6"/>
<rect x="699.6" y="227.3"/>
<rect x="687.6" y="151.1"/>
<rect x="693.3" y="196.1"/>
<rect x="709.6" y="210.8"/>
<rect x="664.6" y="193.9"/>
<rect x="699.7" y="228.6"/>
<rect x="692.1" y="198.9"/>
<rect x="659.5" y="201.8"/>
<rect x="694.7" y="168.0"/>
<rect x="672.7" y="181.4"/>
<rect x="710.1" y="218.1"/>
<rect x="656.6" y="203.3"/>
<rect x="657.2" y="195.7"/>
<rect x="712.1" y="230.7"/>
<rect x="689.3" y="200.1"/>
<rect x="684.8" y="229.0"/>
<rect x="631.6" y="189.8"/>
<rect x="684.8" y="200.6"/>
<rect x="645.7" y="168.9"/>
<rect x="743.7" y="255.9"/>
<rect x="694.4" y="215.2"/>
<rect x="703.4" y="167.5"/>
<rect x="706.0" y="229.4"/>
<rect x="647.8" y="228.3"/>
<rect x="695.0" y="237.3"/>
<rect x="669.5" y="166.5"/>
<rect x="693.1" y="177.0"/>
<rect x="695.6" y="200.3"/>
<rect x="703.0" y="226.4"/>
<rect x="702.7" y="223.4"/>
<rect x="670.2" y="204.5"/>
<rect x="652.1" y="168.2"/>
<rect x="695.8" y="205.0"/>
<rect x="687.8" y="221.1"/>
<rect x="683.2" y="193.8"/>
<rect x="690.6" y="230.1"/>
<rect x="742.5" y="196.2"/>
<rect x="678.5" y="186.6"/>
<rect x="732.9" y="207.2"/>
<rect x="679.0" y="189.1"/>
<rect x="672.8" y="226.0"/>
<rect x="631.4" y="212.7"/>
<rect x="730.1" y="191.0"/>
<rect x="651.2" y="168.9"/>
<rect x="661.0" y="196.3"/>
<rect x="668.9" y="214.1"/>
<rect x="700.3" y="179.9"/>
<rect x="687.8" y="205.2"/>
<rect x="682.6" y="209.2"/>
<rect x="711.8" y="217.2"/>
<rect x="713.6" y="208.4"/>
<rect x="647.4" y="211.3"/>
<rect x="703.8" y="171.0"/>
<rect x="695.5" y="225.0"/>
<rect x="721.0" y="198.8"/>
<rect x="655.4" y="257.1"/>
<rect x="668.3" y="197.7"/>
<rect x="696.1" y="212.0"/>
<rect x="715.8" y="218.3"/>
<rect x="646.1" y="181.2"/>
<rect x="681.7" y="198.1"/>
<rect x="668.8" y="167.5"/>
<rect x="661.5" y="213.4"/>
<rect x="666.8" y="212.2"/>
<rect x="689.7" y="221.5"/>
<rect x="693.9" y="218.0"/>
<rect x="665.1" y="226.8"/>
<rect x="680.6" y="181.0"/>
<rect x="669.0" y="191.3"/>
<rect x="694.0" y="179.9"/>
<rect x="693.0" y="198.6"/>
<rect x="688.9" y="193.2"/>
<rect x="656.7" y="183.1"/>
<rect x="667.6" y="205.8"/>
<rect x="699.4" y="215.9"/>
<rect x="677.7" y="166.3"/>
<rect x="705.5" y="168.8"/>
<rect x="642.8" y="183.7"/>
<rect x="669.8" y="159.5"/>
<rect x="688.7" y="181.2"/>
<rect x="690.2" y="247.2"/>
<rect x="715.0" y="241.8"/>
<rect x="681.9" y="213.2"/>
<rect x="692.1" y="199.3"/>
<rect x="679.4" y="238.6"/>
<rect x="658.2" y="180.5"/>
<rect x="691.3" y="239.5"/>
<rect x="662.5" y="197.7"/>
<rect x="688.8" y="241.5"/>
<rect x="672.6" y="192.8"/>
<rect x="658.5" y="164.0"/>
<rect x="681.4" y="168.7"/>
<rect x="699.6" y="249.3"/>
<rect x="688.4" y="184.4"/>
<rect x="682.5" y="195.9"/>
<rect x="676.1" y="209.5"/>
<rect x="698.2" y="192.6"/>
<rect x="702.6" y="182.6"/>
<rect x="700.7" y="201.7"/>
<rect x="662.3" y="210.2"/>
<rect x="674.3" y="223.5"/>
<rect x="683.1" y="201.2"/>
<rect x="651.7" y="161.5"/>
<rect x="689.6" y="191.1"/>
<rect x="694.0" y="209.2"/>
<rect x="695.6" y="168.9"/>
<rect x="653.0" y="222.3"/>
<rect x="700.6" y="203.5"/>
<rect x="678.6" y="209.3"/>
<rect x="676.9" y="186.5"/>
<rect x="678.0" y="179.2"/>
<rect x="680.9" y="191.0"/>
<rect x="728.7" y="201.6"/>
<rect x="698.6" y="212.8"/>
<rect x="677.7" y="200.1"/>
<rect x="690.6" y="165.1"/>
<rect x="673.3" y="216.7"/>
<rect x="688.4" y="227.6"/>
<rect x="679.5" y="253.1"/>
<rect x="707.0" y="214.2"/>
<rect x="720.7" y="224.7"/>
<rect x="700.2" y="259.6"/>
<rect x="672.8" y="201.6"/>
<rect x="696.5" y="187.0"/>
<rect x="690.8" y="218.0"/>
<rect x="675.2" y="227.3"/>
<rect x="691.3" y="244.1"/>
<rect x="699.9" y="225.1"/>
<rect x="622.9" y="251.1"/>
<rect x="653.0" y="192.8"/>
<rect x="675.4" y="233.7"/>
<rect x="692.0" y="180.4"/>
<rect x="662.4" y="216.8"/>
<rect x="693.2" y="218.3"/>
<rect x="671.3" y="189.3"/>
<rect x="717.9" y="253.0"/>
<rect x="661.0" y="194.4"/>
<rect x="672.2" y="193.4"/>
<rect x="639.9" y="185.7"/>
<rect x="663.6" y="257.5"/>
<rect x="644.6" y="225.7"/>
<rect x="722.9" y="213.5"/>
<rect x="660.5" y="198.5"/>
<rect x="713.4" y="200.6"/>
<rect x="667.5" y="181.4"/>
<rect x="662.9" y="154.6"/>
<rect x="695.2" y="191.7"/>
<rect x="659.5" y="231.8"/>
<rect x="699.7" y="178.1"/>
<rect x="662.1" y="206.7"/>
<rect x="687.2" y="211.6"/>
<rect x="658.1" y="173.7"/>
<rect x="673.8" y="184.4"/>
<rect x="644.1" y="195.6"/>
<rect x="689.6" y="204.4"/>
<rect x="741.5" y="182.6"/>
<rect x="697.6" y="202.7"/>
<rect x="658.0" y="207.5"/>
<rect x="672.2" y="161.3"/>
<rect x="680.7" y="211.1"/>
<rect x="702.8" y="225.1"/>
<rect x="677.1" y="171.3"/>
<rect x="663.1" y="162.7"/>
<rect x="704.0" y="182.8"/>
<rect x="732.0" y="188.4"/>
<rect x="687.6" y="225.3"/>
<rect x="675.2" y="221.6"/>
<rect x="687.4" y="219.9"/>
<rect x="646.8" y="240.1"/>
<rect x="677.5" y="186.5"/>
<rect x="717.4" y="174.1"/>
<rect x="657.6" y="237.0"/>
<rect x="671.7" y="210.6"/>
<rect x="671.8" y="146.1"/>
<rect x="710.6" y="213.8"/>
<rect x="670.5" y="248.9"/>
<rect x="718.0" y="204.5"/>
<rect x="678.3" y="197.2"/>
<rect x="676.6" y="224.3"/>
<rect x="695.3" y="192.0"/>
<rect x="684.8" y="191.6"/>
<rect x="698.2" y="226.0"/>
<rect x="674.8" y="207.9"/>
</g>
<g class="b">
<rect x="675.8" y="175.2"/>
<rect x="694.3" y="188.5"/>
<rect x="692.4" y="214.3"/>
<rect x="711.5" y="195.4"/>
<rect x="689.2" y="218.5"/>
<rect x="678.6" y="197.5"/>
<rect x="693.0" y="233.8"/>
<rect x="701.1" y="218.6"/>
<rect x="674.8" y="214.6"/>
<rect x="701.9" y="188.3"/>
<rect x="687.4" y="202.9"/>
<rect x="695.6" y="181.8"/>
<rect x="696.3" y="205.5"/>
<rect x="683.8" y="176.7"/>
<rect x="660.5" y="198.1"/>
<rect x="695.6" y="211.3"/>
<rect x="696.9" y="182.4"/>
<rect x="689.8" y="223.9"/>
<rect x="667.2" y="214.4"/>
<rect x="677.8" y="213.0"/>
<rect x="688.5" y="183.3"/>
<rect x="673.7" y="222.9"/>
<rect x="685.8" y="222.4"/>
<rect x="691.6" y="217.7"/>
<rect x="682.1" y="208.5"/>
<rect x="682.4" y="217.9"/>
<rect x="679.8" y="220.7"/>
<rect x="707.5" y="189.0"/>
<rect x="685.0" y="212.9"/>
<rect x="710.1" y="221.2"/>
<rect x="688.3" y="182.0"/>
<rect x="698.1" y="197.5"/>
<rect x="689.7" y="211.0"/>
<rect x="669.0" y="220.0"/>
<rect x="699.0" y="213.4"/>
<rect x="694.9" y="210.4"/>
<rect x="669.1" y="198.6"/>
<rect x="697.7" y="201.0"/>
<rect x="687.5" y="210.6"/>
<rect x="688.3" y="209.0"/>
<rect x="693.5" y="205.6"/>
<rect x="673.0" y="201.9"/>
<rect x="699.5" y="196.3"/>
<rect x="693.3" y="209.7"/>
<rect x="675.8" y="167.1"/>
<rect x="687.0" y="195.0"/>
<rect x="679.1" y="218.2"/>
<rect x="677.3" y="210.3"/>
<rect x="688.7" y="208.2"/>
<rect x="712.9" y="178.7"/>
<rect x="699.6" y="203.6"/>
<rect x="683.6" y="196.4"/>
<rect x="687.7" y="206.2"/>
<rect x="675.4" y="227.8"/>
<rect x="677.6" y="203.7"/>
<rect x="670.8" y="207.6"/>
<rect x="691.8" y="220.3"/>
<rect x="699.8" y="198.7"/>
<rect x="707.9" y="204.1"/>
<rect x="707.2" y="228.8"/>
<rect x="682.0" y="190.9"/>
<rect x="694.2" y="225.1"/>
<rect x="692.3" y="220.4"/>
<rect x="694.8" y="217.6"/>
<rect x="704.2" y="201.5"/>
<rect x="668.9" y="203.9"/>
<rect x="677.0" y="189.3"/>
<rect x="685.0" y="215.2"/>
<rect x="663.4" y="185.0"/>
<rect x="697.5" y="193.5"/>
<rect x="682.1" y="223.9"/>
<rect x="701.6" y="210.4"/>
<rect x="694.1" y="168.6"/>
<rect x="694.3" y="210.7"/>
<rect x="669.3" y="208.0"/>
<rect x="693.1" y="204.0"/>
<rect x="697.4" y="217.5"/>
<rect x="687.8" y="202.2"/>
<rect x="672.0" y="221.0"/>
<rect x="679.8" y="209.8"/>
<rect x="706.9" y="216.0"/>
<rect x="670.8" y="204.4"/>
<rect x="678.0" y="183.2"/>
<rect x="676.8" y="213.4"/>
<rect x="691.5" y="202.7"/>
<rect x="689.4" y="189.7"/>
<rect x="677.3" y="203.3"/>
<rect x="697.4" y="201.2"/>
<rect x="685.0" y="210.1"/>
<rect x="706.1" y="188.4"/>
<rect x="694.0" y="208.0"/>
<rect x="686.3" y="208.9"/>
<rect x="661.7" y="205.9"/>
<rect x="684.1" y="188.8"/>
<rect x="698.0" y="203.9"/>
<rect x="682.8" y="215.8"/>
<rect x="675.3" y="195.8"/>
<rect x="697.8" y="217.3"/>
<rect x="713.1" y="199.3"/>
<rect x="668.5" y="185.4"/>
<rect x="671.8" y="206.9"/>
<rect x="684.1" y="196.4"/>
<rect x="674.2" y="196.1"/>
<rect x="682.5" y="221.6"/>
<rect x="695.2" y="224.1"/>
<rect x="697.7" y="215.8"/>
<rect x="702.3" y="211.6"/>
<rect x="706.9" y="220.9"/>
</g>
</g>
<g>
<rect x="611" y="634" width="265" height="275" fill="#fff"/>
<line x1="614.6" y1="636" x2="614.6" y2="909" stroke="#e4e4e4" stroke-width="1"/>
<line x1="626.4" y1="636" x2="626.4" y2="909" stroke="#e4e4e4" stroke-width="1"/>
<line x1="638.1" y1="636" x2="638.1" y2="909" stroke="#e4e4e4" stroke-width="1"/>
<line x1="649.9" y1="636" x2="649.9" y2="909" stroke="#e4e4e4" stroke-width="1"/>
<line x1="661.6" y1="636" x2="661.6" y2="909" stroke="#e4e4e4" stroke-width="1"/>
<line x1="673.4" y1="636" x2="673.4" y2="909" stroke="#e4e4e4" stroke-width="1"/>
<line x1="685.1" y1="636" x2="685.1" y2="909" stroke="#e4e4e4" stroke-width="1"/>
<line x1="696.9" y1="636" x2="696.9" y2="909" stroke="#e4e4e4" stroke-width="1"/>
<line x1="708.6" y1="636" x2="708.6" y2="909" stroke="#e4e4e4" stroke-width="1"/>
<line x1="720.4" y1="636" x2="720.4" y2="909" stroke="#e4e4e4" stroke-width="1"/>
<line x1="732.1" y1="636" x2="732.1" y2="909" stroke="#e4e4e4" stroke-width="1"/>
<line x1="743.9" y1="636" x2="743.9" y2="909" stroke="#e4e4e4" stroke-width="1"/>
<line x1="755.6" y1="636" x2="755.6" y2="909" stroke="#e4e4e4" stroke-width="1"/>
<line x1="767.4" y1="636" x2="767.4" y2="909" stroke="#e4e4e4" stroke-width="1"/>
<line x1="779.1" y1="636" x2="779.1" y2="909" stroke="#e4e4e4" stroke-width="1"/>
<line x1="790.9" y1="636" x2="790.9" y2="909" stroke="#e4e4e4" stroke-width="1"/>
<line x1="802.6" y1="636" x2="802.6" y2="909" stroke="#e4e4e4" stroke-width="1"/>
<line x1="814.4" y1="636" x2="814.4" y2="909" stroke="#e4e4e4" stroke-width="1"/>
<line x1="826.1" y1="636" x2="826.1" y2="909" stroke="#e4e4e4" stroke-width="1"/>
<line x1="837.9" y1="636" x2="837.9" y2="909" stroke="#e4e4e4" stroke-width="1"/>
<line x1="849.6" y1="636" x2="849.6" y2="909" stroke="#e4e4e4" stroke-width="1"/>
<line x1="861.4" y1="636" x2="861.4" y2="909" stroke="#e4e4e4" stroke-width="1"/>
<line x1="873.1" y1="636" x2="873.1" y2="909" stroke="#e4e4e4" stroke-width="1"/>
<line x1="611" y1="646.1" x2="876" y2="646.1" stroke="#e4e4e4" stroke-width="1"/>
<line x1="611" y1="659.0" x2="876" y2="659.0" stroke="#e4e4e4" stroke-width="1"/>
<line x1="611" y1="671.9" x2="876" y2="671.9" stroke="#e4e4e4" stroke-width="1"/>
<line x1="611" y1="684.8" x2="876" y2="684.8" stroke="#e4e4e4" stroke-width="1"/>
<line x1="611" y1="697.7" x2="876" y2="697.7" stroke="#e4e4e4" stroke-width="1"/>
<line x1="611" y1="710.6" x2="876" y2="710.6" stroke="#e4e4e4" stroke-width="1"/>
<line x1="611" y1="723.5" x2="876" y2="723.5" stroke="#e4e4e4" stroke-width="1"/>
<line x1="611" y1="736.4" x2="876" y2="736.4" stroke="#e4e4e4" stroke-width="1"/>
<line x1="611" y1="749.3" x2="876" y2="749.3" stroke="#e4e4e4" stroke-width="1"/>
<line x1="611" y1="762.2" x2="876" y2="762.2" stroke="#e4e4e4" stroke-width="1"/>
<line x1="611" y1="775.1" x2="876" y2="775.1" stroke="#e4e4e4" stroke-width="1"/>
<line x1="611" y1="788.0" x2="876" y2="788.0" stroke="#e4e4e4" stroke-width="1"/>
<line x1="611" y1="800.9" x2="876" y2="800.9" stroke="#e4e4e4" stroke-width="1"/>
<line x1="611" y1="813.8" x2="876" y2="813.8" stroke="#e4e4e4" stroke-width="1"/>
<line x1="611" y1="826.7" x2="876" y2="826.7" stroke="#e4e4e4" stroke-width="1"/>
<line x1="611" y1="839.6" x2="876" y2="839.6" stroke="#e4e4e4" stroke-width="1"/>
<line x1="611" y1="852.5" x2="876" y2="852.5" stroke="#e4e4e4" stroke-width="1"/>
<line x1="611" y1="865.4" x2="876" y2="865.4" stroke="#e4e4e4" stroke-width="1"/>
<line x1="611" y1="878.3" x2="876" y2="878.3" stroke="#e4e4e4" stroke-width="1"/>
<line x1="611" y1="891.2" x2="876" y2="891.2" stroke="#e4e4e4" stroke-width="1"/>
<line x1="611" y1="904.1" x2="876" y2="904.1" stroke="#e4e4e4" stroke-width="1"/>
<line x1="743.6" y1="636" x2="743.6" y2="909" stroke="#2a2a2a" stroke-width="1.4"/>
<line x1="611" y1="775.2" x2="876" y2="775.2" stroke="#2a2a2a" stroke-width="1.4"/>
<g class="u">
<rect x="655.9" y="692.1"/>
<rect x="640.2" y="686.8"/>
<rect x="640.0" y="665.4"/>
<rect x="688.1" y="691.9"/>
<rect x="701.2" y="685.8"/>
<rect x="665.8" y="680.5"/>
<rect x="658.5" y="696.5"/>
<rect x="640.6" y="700.2"/>
<rect x="643.6" y="683.0"/>
<rect x="714.5" y="691.1"/>
<rect x="656.1" y="688.0"/>
<rect x="672.1" y="671.1"/>
<rect x="679.2" y="674.5"/>
<rect x="686.0" y="677.0"/>
<rect x="686.2" y="691.5"/>
<rect x="683.2" y="699.3"/>
<rect x="663.6" y="685.6"/>
<rect x="667.6" y="678.0"/>
<rect x="664.7" y="711.6"/>
<rect x="668.8" y="692.6"/>
<rect x="683.8" y="690.8"/>
<rect x="674.1" y="704.0"/>
<rect x="690.8" y="707.4"/>
<rect x="661.7" y="666.4"/>
<rect x="673.9" y="699.5"/>
<rect x="662.8" y="698.3"/>
<rect x="634.0" y="667.8"/>
<rect x="679.7" y="667.1"/>
<rect x="656.0" y="663.5"/>
<rect x="675.8" y="666.6"/>
<rect x="692.0" y="700.3"/>
<rect x="664.8" y="709.3"/>
<rect x="665.2" y="701.9"/>
<rect x="642.0" y="673.0"/>
<rect x="662.4" y="678.1"/>
<rect x="653.3" y="686.5"/>
<rect x="655.0" y="692.2"/>
<rect x="687.0" y="686.7"/>
<rect x="656.9" y="698.8"/>
<rect x="644.4" y="656.1"/>
<rect x="639.1" y="700.2"/>
<rect x="683.5" y="703.7"/>
<rect x="668.0" y="674.2"/>
<rect x="659.7" y="712.1"/>
<rect x="650.6" y="701.3"/>
<rect x="656.4" y="680.0"/>
<rect x="690.2" y="704.9"/>
<rect x="666.8" y="675.4"/>
<rect x="632.3" y="702.4"/>
<rect x="681.4" y="685.5"/>
<rect x="661.2" y="680.5"/>
<rect x="660.1" y="693.2"/>
<rect x="674.2" y="698.9"/>
<rect x="634.4" y="701.4"/>
<rect x="674.4" y="710.0"/>
<rect x="675.2" y="674.3"/>
<rect x="680.7" y="707.0"/>
<rect x="651.8" y="647.5"/>
<rect x="648.3" y="689.2"/>
<rect x="649.5" y="682.8"/>
<rect x="670.3" y="676.2"/>
<rect x="670.7" y="686.0"/>
<rect x="646.1" y="703.2"/>
<rect x="667.5" y="683.0"/>
<rect x="669.1" y="689.8"/>
<rect x="656.7" y="682.0"/>
<rect x="660.0" y="672.4"/>
<rect x="683.2" y="682.0"/>
<rect x="666.1" y="700.7"/>
<rect x="645.1" y="678.0"/>
<rect x="677.1" y="688.7"/>
<rect x="676.4" y="707.1"/>
<rect x="659.0" y="706.2"/>
<rect x="680.9" y="676.1"/>
<rect x="662.4" y="666.5"/>
<rect x="679.8" y="726.5"/>
<rect x="637.6" y="690.2"/>
<rect x="663.5" y="676.1"/>
<rect x="642.1" y="670.4"/>
<rect x="671.6" y="676.1"/>
<rect x="645.1" y="701.6"/>
<rect x="649.4" y="689.0"/>
<rect x="687.3" y="673.6"/>
<rect x="662.8" y="709.0"/>
<rect x="660.3" y="675.7"/>
<rect x="665.8" y="708.4"/>
<rect x="679.8" y="714.4"/>
<rect x="656.7" y="683.4"/>
<rect x="670.6" y="685.8"/>
<rect x="645.8" y="702.0"/>
<rect x="663.0" y="680.9"/>
<rect x="688.6" y="678.5"/>
<rect x="680.0" y="706.4"/>
<rect x="646.5" y="691.7"/>
<rect x="675.7" y="674.4"/>
<rect x="670.9" y="693.3"/>
<rect x="645.0" y="707.6"/>
<rect x="670.6" y="693.0"/>
<rect x="647.6" y="682.9"/>
<rect x="650.6" y="688.7"/>
<rect x="660.3" y="676.6"/>
<rect x="674.7" y="685.9"/>
<rect x="669.9" y="689.1"/>
<rect x="681.0" y="729.2"/>
<rect x="660.8" y="701.8"/>
<rect x="676.5" y="667.1"/>
<rect x="638.1" y="693.6"/>
<rect x="661.0" y="651.6"/>
<rect x="641.7" y="690.4"/>
<rect x="658.3" y="683.0"/>
<rect x="650.2" y="674.9"/>
<rect x="674.2" y="706.2"/>
<rect x="660.8" y="693.9"/>
<rect x="638.7" y="692.4"/>
<rect x="651.9" y="676.1"/>
<rect x="650.1" y="660.8"/>
<rect x="657.2" y="666.4"/>
<rect x="669.3" y="693.5"/>
<rect x="659.1" y="658.9"/>
<rect x="660.6" y="684.0"/>
<rect x="667.2" y="723.9"/>
<rect x="677.0" y="682.1"/>
<rect x="661.4" y="663.1"/>
<rect x="660.1" y="681.6"/>
<rect x="679.1" y="690.9"/>
<rect x="670.8" y="717.7"/>
<rect x="655.4" y="669.9"/>
<rect x="687.0" y="692.8"/>
<rect x="669.1" y="692.0"/>
<rect x="654.7" y="695.5"/>
<rect x="654.9" y="700.3"/>
<rect x="658.0" y="683.7"/>
<rect x="688.9" y="678.2"/>
<rect x="636.8" y="682.7"/>
<rect x="665.6" y="700.8"/>
<rect x="669.1" y="682.8"/>
<rect x="643.7" y="680.0"/>
<rect x="650.2" y="677.1"/>
<rect x="658.4" y="680.4"/>
<rect x="674.2" y="715.2"/>
<rect x="673.4" y="692.1"/>
<rect x="688.5" y="700.6"/>
<rect x="674.3" y="694.7"/>
<rect x="670.7" y="678.5"/>
<rect x="661.2" y="682.4"/>
<rect x="665.8" y="684.2"/>
<rect x="644.6" y="690.0"/>
<rect x="657.3" y="680.9"/>
<rect x="701.4" y="681.6"/>
<rect x="690.7" y="709.5"/>
<rect x="660.9" y="697.4"/>
<rect x="653.1" y="670.4"/>
<rect x="672.3" y="734.3"/>
<rect x="664.1" y="687.2"/>
<rect x="660.4" y="674.2"/>
<rect x="682.1" y="701.0"/>
<rect x="647.8" y="695.7"/>
<rect x="654.9" y="653.0"/>
<rect x="676.0" y="663.4"/>
<rect x="660.9" y="689.8"/>
<rect x="637.8" y="653.9"/>
<rect x="661.9" y="653.3"/>
<rect x="678.1" y="695.3"/>
<rect x="653.5" y="677.1"/>
<rect x="659.3" y="685.3"/>
<rect x="678.2" y="697.3"/>
<rect x="659.7" y="699.7"/>
<rect x="663.6" y="694.1"/>
<rect x="699.5" y="670.0"/>
<rect x="664.2" y="674.2"/>
<rect x="685.0" y="672.8"/>
<rect x="653.6" y="695.2"/>
<rect x="675.6" y="705.3"/>
<rect x="666.6" y="677.4"/>
<rect x="662.7" y="680.1"/>
<rect x="656.5" y="685.6"/>
<rect x="666.5" y="688.6"/>
<rect x="673.3" y="698.6"/>
<rect x="673.4" y="702.6"/>
<rect x="652.7" y="684.5"/>
<rect x="639.5" y="681.0"/>
<rect x="683.4" y="684.1"/>
<rect x="668.3" y="664.1"/>
<rect x="679.9" y="675.3"/>
<rect x="686.9" y="665.0"/>
<rect x="649.2" y="682.6"/>
<rect x="662.1" y="701.3"/>
<rect x="652.6" y="691.9"/>
<rect x="646.3" y="719.3"/>
<rect x="683.8" y="694.3"/>
<rect x="679.3" y="701.8"/>
<rect x="664.1" y="683.3"/>
<rect x="667.8" y="704.0"/>
<rect x="661.9" y="703.2"/>
<rect x="663.8" y="703.4"/>
<rect x="670.2" y="713.5"/>
<rect x="631.8" y="671.5"/>
<rect x="700.6" y="695.6"/>
<rect x="643.9" y="694.6"/>
<rect x="649.1" y="678.3"/>
<rect x="651.7" y="707.7"/>
<rect x="664.8" y="689.4"/>
<rect x="677.6" y="685.2"/>
<rect x="655.5" y="710.2"/>
<rect x="695.4" y="694.3"/>
<rect x="677.4" y="684.8"/>
<rect x="658.0" y="691.2"/>
<rect x="676.7" y="676.5"/>
<rect x="675.4" y="678.5"/>
<rect x="641.7" y="689.7"/>
<rect x="651.5" y="694.7"/>
<rect x="640.6" y="695.9"/>
<rect x="673.7" y="705.7"/>
<rect x="663.9" y="667.1"/>
<rect x="662.8" y="676.7"/>
<rect x="710.8" y="684.4"/>
<rect x="653.4" y="680.6"/>
<rect x="658.3" y="703.0"/>
<rect x="668.1" y="693.4"/>
<rect x="684.4" y="678.0"/>
<rect x="659.8" y="673.8"/>
<rect x="648.6" y="665.8"/>
<rect x="665.3" y="665.9"/>
<rect x="666.0" y="684.8"/>
<rect x="676.6" y="683.4"/>
<rect x="664.4" y="658.2"/>
<rect x="660.1" y="692.9"/>
<rect x="690.4" y="686.9"/>
<rect x="672.8" y="692.0"/>
<rect x="674.4" y="701.8"/>
<rect x="665.7" y="675.8"/>
<rect x="674.9" y="677.4"/>
<rect x="686.7" y="705.0"/>
<rect x="652.7" y="670.6"/>
<rect x="649.8" y="675.6"/>
<rect x="642.5" y="686.2"/>
<rect x="647.2" y="709.1"/>
<rect x="683.8" y="711.6"/>
<rect x="662.3" y="693.5"/>
<rect x="664.1" y="676.8"/>
<rect x="652.2" y="718.0"/>
<rect x="669.1" y="671.0"/>
<rect x="681.6" y="698.2"/>
<rect x="661.1" y="682.3"/>
<rect x="656.8" y="690.3"/>
<rect x="661.7" y="700.1"/>
<rect x="656.9" y="679.0"/>
<rect x="655.9" y="672.9"/>
<rect x="669.4" y="682.7"/>
<rect x="652.9" y="694.1"/>
<rect x="664.8" y="674.3"/>
<rect x="676.0" y="662.8"/>
<rect x="638.1" y="675.8"/>
<rect x="634.3" y="690.9"/>
<rect x="664.1" y="659.8"/>
<rect x="665.9" y="666.8"/>
<rect x="674.3" y="696.1"/>
<rect x="683.9" y="689.1"/>
<rect x="654.3" y="691.9"/>
<rect x="696.6" y="675.7"/>
<rect x="637.4" y="704.5"/>
<rect x="630.0" y="681.1"/>
<rect x="684.5" y="689.5"/>
<rect x="661.0" y="690.4"/>
<rect x="681.3" y="668.8"/>
<rect x="651.4" y="693.4"/>
<rect x="666.9" y="712.6"/>
<rect x="651.1" y="697.8"/>
<rect x="677.5" y="678.9"/>
<rect x="663.3" y="699.1"/>
<rect x="663.6" y="714.2"/>
<rect x="674.4" y="685.7"/>
<rect x="689.9" y="663.5"/>
<rect x="652.5" y="647.8"/>
<rect x="670.0" y="693.1"/>
<rect x="671.3" y="702.7"/>
<rect x="657.8" y="704.1"/>
<rect x="673.8" y="702.7"/>
<rect x="652.9" y="717.1"/>
<rect x="649.4" y="684.5"/>
<rect x="650.4" y="687.0"/>
<rect x="678.3" y="688.3"/>
<rect x="654.9" y="713.0"/>
<rect x="666.7" y="692.3"/>
<rect x="641.1" y="702.3"/>
<rect x="643.3" y="683.8"/>
<rect x="667.4" y="678.0"/>
<rect x="666.3" y="665.3"/>
<rect x="667.6" y="673.8"/>
<rect x="648.2" y="702.3"/>
<rect x="660.0" y="705.3"/>
<rect x="662.3" y="691.9"/>
<rect x="633.6" y="667.9"/>
<rect x="678.2" y="688.1"/>
<rect x="653.8" y="720.8"/>
<rect x="654.5" y="674.8"/>
<rect x="662.1" y="693.3"/>
<rect x="647.7" y="677.5"/>
<rect x="678.6" y="696.2"/>
<rect x="681.4" y="711.4"/>
<rect x="674.1" y="687.1"/>
<rect x="667.6" y="692.1"/>
<rect x="670.5" y="691.8"/>
<rect x="681.1" y="682.7"/>
<rect x="653.8" y="686.2"/>
<rect x="712.4" y="702.2"/>
<rect x="666.3" y="692.8"/>
<rect x="631.4" y="692.0"/>
<rect x="673.2" y="683.3"/>
<rect x="658.2" y="687.5"/>
<rect x="683.2" y="672.7"/>
<rect x="641.7" y="710.0"/>
<rect x="660.5" y="701.1"/>
<rect x="663.1" y="694.9"/>
<rect x="668.4" y="705.4"/>
<rect x="667.6" y="671.6"/>
<rect x="655.1" y="665.3"/>
<rect x="666.2" y="706.1"/>
<rect x="659.0" y="669.6"/>
<rect x="680.7" y="686.9"/>
<rect x="662.8" y="683.6"/>
<rect x="684.5" y="707.5"/>
<rect x="657.5" y="681.6"/>
<rect x="673.2" y="680.0"/>
<rect x="659.5" y="693.7"/>
<rect x="665.6" y="680.4"/>
<rect x="665.2" y="699.4"/>
<rect x="660.2" y="689.7"/>
<rect x="655.3" y="690.6"/>
<rect x="683.8" y="696.8"/>
<rect x="678.4" y="694.3"/>
<rect x="671.5" y="717.7"/>
<rect x="673.2" y="671.6"/>
<rect x="643.5" y="691.3"/>
<rect x="652.4" y="695.0"/>
<rect x="645.2" y="700.0"/>
<rect x="661.3" y="692.1"/>
<rect x="678.2" y="703.6"/>
<rect x="661.0" y="681.9"/>
<rect x="667.9" y="692.9"/>
<rect x="647.8" y="674.4"/>
<rect x="683.7" y="690.7"/>
<rect x="656.4" y="707.6"/>
<rect x="636.6" y="666.0"/>
<rect x="687.8" y="681.4"/>
<rect x="648.0" y="701.9"/>
<rect x="681.4" y="668.7"/>
<rect x="670.7" y="697.2"/>
<rect x="665.5" y="680.8"/>
<rect x="650.2" y="679.1"/>
<rect x="656.1" y="697.0"/>
<rect x="647.4" y="688.4"/>
<rect x="672.8" y="692.9"/>
<rect x="659.6" y="711.8"/>
<rect x="681.6" y="684.1"/>
<rect x="644.4" y="684.2"/>
<rect x="658.8" y="665.1"/>
<rect x="660.5" y="687.7"/>
<rect x="660.9" y="693.7"/>
<rect x="680.3" y="697.1"/>
<rect x="685.1" y="702.3"/>
<rect x="669.4" y="702.0"/>
<rect x="666.0" y="673.5"/>
<rect x="659.4" y="714.6"/>
<rect x="655.3" y="684.0"/>
<rect x="668.4" y="663.0"/>
<rect x="653.2" y="668.7"/>
<rect x="645.9" y="663.0"/>
<rect x="661.2" y="671.9"/>
<rect x="691.7" y="674.8"/>
<rect x="662.7" y="695.0"/>
<rect x="667.4" y="677.6"/>
<rect x="646.8" y="679.4"/>
<rect x="667.7" y="659.9"/>
<rect x="656.6" y="669.2"/>
<rect x="664.1" y="663.8"/>
<rect x="675.3" y="688.4"/>
<rect x="653.9" y="678.2"/>
<rect x="659.6" y="679.8"/>
<rect x="663.5" y="698.5"/>
<rect x="676.2" y="685.2"/>
<rect x="671.1" y="701.8"/>
<rect x="671.6" y="712.6"/>
<rect x="660.1" y="675.4"/>
<rect x="649.4" y="680.1"/>
<rect x="691.1" y="660.5"/>
<rect x="653.5" y="672.1"/>
<rect x="665.1" y="696.4"/>
<rect x="648.6" y="697.2"/>
<rect x="666.4" y="693.3"/>
<rect x="667.7" y="671.7"/>
<rect x="684.1" y="658.2"/>
<rect x="680.8" y="678.1"/>
<rect x="667.9" y="680.3"/>
<rect x="657.3" y="702.5"/>
<rect x="648.7" y="698.0"/>
<rect x="665.8" y="677.2"/>
<rect x="668.2" y="678.8"/>
<rect x="652.8" y="672.3"/>
<rect x="646.2" y="699.6"/>
<rect x="655.1" y="703.8"/>
<rect x="668.2" y="720.4"/>
<rect x="693.2" y="723.0"/>
<rect x="670.6" y="695.0"/>
<rect x="669.8" y="704.7"/>
<rect x="678.6" y="692.3"/>
<rect x="658.2" y="671.4"/>
<rect x="650.2" y="670.6"/>
<rect x="639.3" y="693.8"/>
<rect x="661.8" y="671.6"/>
<rect x="658.8" y="695.7"/>
<rect x="663.1" y="686.1"/>
<rect x="657.5" y="670.0"/>
<rect x="627.6" y="692.3"/>
<rect x="658.8" y="652.9"/>
<rect x="692.1" y="712.5"/>
<rect x="682.8" y="677.1"/>
<rect x="678.3" y="662.6"/>
<rect x="673.5" y="677.7"/>
<rect x="655.3" y="686.2"/>
<rect x="652.2" y="708.4"/>
<rect x="662.6" y="677.8"/>
<rect x="679.0" y="676.8"/>
<rect x="663.6" y="671.7"/>
<rect x="683.0" y="697.3"/>
<rect x="668.1" y="700.6"/>
<rect x="634.5" y="677.2"/>
<rect x="676.3" y="711.1"/>
<rect x="669.1" y="697.3"/>
<rect x="660.3" y="693.3"/>
<rect x="641.5" y="666.9"/>
<rect x="651.7" y="664.9"/>
<rect x="678.3" y="674.3"/>
<rect x="689.0" y="684.0"/>
<rect x="652.1" y="703.5"/>
<rect x="640.3" y="698.4"/>
<rect x="629.3" y="690.3"/>
<rect x="661.5" y="713.4"/>
<rect x="661.5" y="713.3"/>
<rect x="680.8" y="684.0"/>
<rect x="657.8" y="684.7"/>
<rect x="629.2" y="704.1"/>
<rect x="657.6" y="670.7"/>
<rect x="670.5" y="677.8"/>
<rect x="676.9" y="663.8"/>
<rect x="679.0" y="702.2"/>
<rect x="652.3" y="700.2"/>
<rect x="680.8" y="669.7"/>
<rect x="651.0" y="686.3"/>
<rect x="664.5" y="680.4"/>
<rect x="683.7" y="689.9"/>
<rect x="641.6" y="640.3"/>
<rect x="642.7" y="709.4"/>
<rect x="660.3" y="698.4"/>
<rect x="657.3" y="684.7"/>
<rect x="643.5" y="677.8"/>
<rect x="653.9" y="662.8"/>
<rect x="698.8" y="698.3"/>
<rect x="676.9" y="690.2"/>
<rect x="678.1" y="703.5"/>
<rect x="669.0" y="691.9"/>
<rect x="658.3" y="681.4"/>
<rect x="654.7" y="688.9"/>
<rect x="657.0" y="673.9"/>
<rect x="677.7" y="681.4"/>
<rect x="655.8" y="707.6"/>
<rect x="655.6" y="695.1"/>
<rect x="655.3" y="666.1"/>
<rect x="666.5" y="698.2"/>
<rect x="639.1" y="664.5"/>
<rect x="665.6" y="701.2"/>
<rect x="659.7" y="709.7"/>
<rect x="680.3" y="689.8"/>
<rect x="659.8" y="689.8"/>
<rect x="654.0" y="695.6"/>
<rect x="642.1" y="700.8"/>
<rect x="680.0" y="691.9"/>
<rect x="662.6" y="690.0"/>
<rect x="659.3" y="688.3"/>
<rect x="686.6" y="678.2"/>
</g>
<g class="b">
<rect x="647.9" y="675.8"/>
<rect x="658.3" y="697.6"/>
<rect x="661.1" y="694.1"/>
<rect x="657.2" y="680.9"/>
<rect x="662.0" y="698.2"/>
<rect x="651.8" y="687.0"/>
<rect x="669.6" y="689.8"/>
<rect x="665.9" y="695.6"/>
<rect x="668.5" y="679.4"/>
<rect x="671.5" y="681.5"/>
<rect x="663.1" y="701.7"/>
<rect x="687.1" y="701.7"/>
<rect x="669.7" y="681.5"/>
<rect x="659.5" y="703.7"/>
<rect x="668.9" y="676.0"/>
<rect x="679.6" y="693.8"/>
<rect x="677.4" y="692.2"/>
<rect x="647.5" y="681.9"/>
<rect x="664.8" y="687.0"/>
<rect x="679.1" y="682.5"/>
<rect x="665.2" y="688.0"/>
<rect x="665.3" y="679.2"/>
<rect x="655.5" y="665.2"/>
<rect x="668.9" y="686.7"/>
<rect x="667.8" y="679.0"/>
<rect x="666.1" y="679.7"/>
<rect x="657.3" y="691.6"/>
<rect x="671.5" y="693.8"/>
<rect x="665.7" y="685.1"/>
<rect x="678.1" y="699.8"/>
<rect x="660.6" y="678.7"/>
<rect x="669.3" y="691.5"/>
<rect x="658.2" y="709.3"/>
<rect x="648.0" y="681.0"/>
<rect x="668.1" y="697.5"/>
<rect x="650.1" y="684.6"/>
<rect x="678.4" y="701.3"/>
<rect x="663.9" y="688.9"/>
<rect x="658.4" y="692.1"/>
<rect x="657.0" y="670.1"/>
<rect x="652.9" y="689.1"/>
<rect x="654.7" y="698.6"/>
<rect x="677.1" y="697.6"/>
<rect x="671.7" y="698.8"/>
<rect x="668.3" y="696.4"/>
<rect x="670.1" y="695.7"/>
<rect x="657.3" y="682.6"/>
<rect x="657.5" y="696.1"/>
<rect x="670.4" y="681.4"/>
<rect x="657.5" y="683.3"/>
<rect x="673.6" y="687.5"/>
<rect x="664.0" y="682.3"/>
<rect x="665.0" y="703.0"/>
<rect x="660.1" y="685.4"/>
<rect x="680.7" y="695.1"/>
<rect x="656.2" y="698.4"/>
<rect x="655.2" y="693.6"/>
<rect x="644.3" y="679.5"/>
<rect x="674.0" y="683.2"/>
<rect x="659.8" y="689.0"/>
<rect x="666.1" y="684.3"/>
<rect x="660.2" y="704.9"/>
<rect x="678.9" y="691.5"/>
<rect x="656.1" y="683.8"/>
<rect x="663.6" y="693.0"/>
<rect x="679.9" y="683.8"/>
<rect x="667.3" y="684.7"/>
<rect x="667.3" y="682.3"/>
<rect x="669.3" y="699.1"/>
<rect x="662.7" y="685.6"/>
<rect x="667.1" y="676.7"/>
<rect x="681.7" y="676.4"/>
<rect x="663.0" y="680.6"/>
<rect x="679.0" y="684.2"/>
<rect x="661.7" y="705.7"/>
<rect x="665.0" y="681.5"/>
<rect x="666.0" y="690.3"/>
<rect x="659.6" y="686.9"/>
<rect x="664.3" y="695.1"/>
<rect x="672.7" y="696.1"/>
</g>
<g class="u">
<rect x="808.8" y="698.2"/>
<rect x="828.1" y="694.5"/>
<rect x="806.2" y="677.5"/>
<rect x="803.8" y="657.8"/>
<rect x="843.2" y="712.8"/>
<rect x="814.0" y="707.3"/>
<rect x="831.9" y="686.3"/>
<rect x="810.9" y="727.3"/>
<rect x="820.2" y="679.5"/>
<rect x="818.5" y="684.4"/>
<rect x="821.9" y="680.2"/>
<rect x="842.7" y="703.9"/>
<rect x="830.5" y="668.6"/>
<rect x="806.7" y="683.1"/>
<rect x="809.9" y="686.6"/>
<rect x="809.1" y="689.3"/>
<rect x="825.3" y="685.9"/>
<rect x="812.8" y="714.6"/>
<rect x="852.6" y="699.3"/>
<rect x="833.0" y="699.9"/>
<rect x="809.2" y="668.8"/>
<rect x="770.3" y="665.7"/>
<rect x="829.2" y="661.5"/>
<rect x="825.7" y="677.0"/>
<rect x="806.0" y="655.9"/>
<rect x="832.2" y="659.5"/>
<rect x="798.5" y="699.8"/>
<rect x="814.1" y="703.0"/>
<rect x="802.6" y="680.6"/>
<rect x="813.6" y="695.2"/>
<rect x="812.3" y="680.4"/>
<rect x="808.9" y="710.1"/>
<rect x="815.0" y="694.8"/>
<rect x="817.8" y="672.3"/>
<rect x="830.7" y="699.0"/>
<rect x="776.0" y="695.4"/>
<rect x="848.9" y="671.9"/>
<rect x="817.7" y="674.2"/>
<rect x="808.5" y="699.3"/>
<rect x="779.5" y="682.9"/>
<rect x="819.7" y="687.4"/>
<rect x="832.3" y="727.4"/>
<rect x="790.0" y="710.9"/>
<rect x="816.2" y="690.4"/>
<rect x="840.8" y="682.3"/>
<rect x="805.4" y="699.5"/>
<rect x="819.9" y="686.1"/>
<rect x="804.2" y="694.5"/>
<rect x="802.8" y="682.4"/>
<rect x="814.8" y="679.9"/>
<rect x="815.0" y="709.6"/>
<rect x="823.1" y="697.6"/>
<rect x="824.2" y="661.2"/>
<rect x="817.6" y="686.8"/>
<rect x="823.4" y="689.7"/>
<rect x="816.2" y="696.6"/>
<rect x="809.9" y="696.0"/>
<rect x="793.9" y="677.7"/>
<rect x="817.5" y="686.8"/>
<rect x="804.6" y="680.5"/>
<rect x="817.5" y="702.6"/>
<rect x="799.1" y="689.7"/>
<rect x="832.6" y="696.3"/>
<rect x="821.3" y="695.2"/>
<rect x="817.5" y="692.9"/>
<rect x="817.0" y="682.4"/>
<rect x="829.4" y="705.8"/>
<rect x="783.6" y="678.8"/>
<rect x="826.7" y="694.4"/>
<rect x="796.1" y="673.6"/>
<rect x="804.7" y="684.6"/>
<rect x="815.6" y="686.6"/>
<rect x="821.9" y="679.0"/>
<rect x="801.4" y="693.5"/>
<rect x="794.7" y="690.9"/>
<rect x="796.0" y="678.6"/>
<rect x="837.5" y="683.9"/>
<rect x="809.4" y="672.8"/>
<rect x="824.2" y="681.0"/>
<rect x="806.4" y="715.7"/>
<rect x="803.6" y="712.6"/>
<rect x="824.5" y="687.8"/>
<rect x="853.3" y="719.8"/>
<rect x="828.7" y="720.3"/>
<rect x="814.4" y="676.6"/>
<rect x="837.0" y="686.6"/>
<rect x="787.4" y="668.7"/>
<rect x="795.5" y="685.5"/>
<rect x="821.0" y="687.5"/>
<rect x="805.5" y="668.2"/>
<rect x="826.6" y="717.9"/>
<rect x="807.9" y="709.0"/>
<rect x="843.0" y="697.3"/>
<rect x="809.8" y="696.7"/>
<rect x="842.9" y="702.5"/>
<rect x="808.5" y="679.5"/>
<rect x="806.9" y="690.2"/>
<rect x="813.6" y="703.9"/>
<rect x="797.3" y="690.6"/>
<rect x="820.5" y="692.9"/>
<rect x="819.3" y="682.7"/>
<rect x="824.6" y="695.9"/>
<rect x="811.5" y="678.9"/>
<rect x="820.7" y="708.2"/>
<rect x="818.7" y="682.3"/>
<rect x="809.4" y="667.1"/>
<rect x="788.5" y="678.7"/>
<rect x="829.0" y="696.7"/>
<rect x="826.7" y="707.0"/>
<rect x="802.1" y="698.5"/>
<rect x="828.5" y="690.9"/>
<rect x="803.7" y="684.7"/>
<rect x="817.8" y="698.0"/>
<rect x="792.7" y="693.5"/>
<rect x="818.0" y="704.5"/>
<rect x="798.6" y="691.2"/>
<rect x="818.1" y="711.9"/>
<rect x="804.1" y="693.1"/>
<rect x="800.7" y="681.3"/>
<rect x="807.5" y="690.5"/>
<rect x="803.4" y="710.5"/>
<rect x="802.9" y="693.3"/>
<rect x="812.6" y="661.3"/>
<rect x="790.7" y="694.9"/>
<rect x="773.8" y="673.0"/>
<rect x="834.9" y="692.1"/>
<rect x="805.4" y="690.0"/>
<rect x="816.2" y="717.8"/>
<rect x="824.3" y="672.0"/>
<rect x="814.4" y="669.9"/>
<rect x="816.0" y="710.4"/>
<rect x="828.3" y="689.5"/>
<rect x="805.4" y="657.2"/>
<rect x="792.1" y="682.7"/>
<rect x="826.9" y="686.9"/>
<rect x="810.3" y="690.8"/>
<rect x="774.1" y="679.0"/>
<rect x="792.1" y="696.4"/>
<rect x="814.1" y="668.9"/>
<rect x="813.8" y="692.2"/>
<rect x="793.4" y="693.0"/>
<rect x="832.6" y="667.4"/>
<rect x="825.4" y="700.5"/>
<rect x="817.5" y="696.1"/>
<rect x="820.7" y="672.1"/>
<rect x="818.7" y="674.4"/>
<rect x="801.8" y="693.3"/>
<rect x="807.6" y="674.9"/>
<rect x="811.2" y="714.4"/>
<rect x="805.4" y="704.3"/>
<rect x="826.4" y="680.4"/>
<rect x="820.2" y="689.3"/>
<rect x="811.4" y="704.5"/>
<rect x="826.7" y="704.9"/>
<rect x="788.9" y="669.1"/>
<rect x="792.6" y="719.1"/>
<rect x="811.2" y="694.3"/>
<rect x="823.4" y="704.6"/>
<rect x="803.8" y="700.2"/>
<rect x="801.7" y="691.3"/>
<rect x="811.0" y="692.3"/>
<rect x="821.3" y="696.9"/>
<rect x="810.8" y="692.2"/>
<rect x="804.2" y="673.5"/>
<rect x="803.2" y="692.1"/>
<rect x="803.9" y="690.8"/>
<rect x="811.4" y="682.5"/>
<rect x="816.2" y="667.2"/>
<rect x="836.8" y="681.5"/>
<rect x="812.4" y="675.8"/>
<rect x="855.1" y="680.4"/>
<rect x="834.0" y="700.0"/>
<rect x="810.4" y="687.5"/>
<rect x="830.6" y="684.6"/>
<rect x="826.1" y="695.6"/>
<rect x="783.1" y="673.8"/>
<rect x="792.8" y="673.4"/>
<rect x="826.2" y="680.6"/>
<rect x="804.4" y="685.8"/>
<rect x="828.0" y="688.9"/>
<rect x="832.9" y="712.6"/>
<rect x="811.8" y="682.1"/>
<rect x="829.1" y="666.6"/>
<rect x="832.1" y="693.7"/>
<rect x="822.7" y="701.6"/>
<rect x="817.0" y="693.1"/>
<rect x="811.1" y="666.8"/>
<rect x="808.9" y="678.4"/>
<rect x="812.9" y="689.6"/>
<rect x="824.2" y="705.6"/>
<rect x="817.9" y="689.7"/>
<rect x="837.0" y="682.6"/>
<rect x="809.9" y="678.9"/>
<rect x="827.8" y="699.1"/>
<rect x="828.0" y="691.7"/>
<rect x="813.1" y="702.9"/>
<rect x="822.0" y="709.9"/>
<rect x="799.2" y="685.4"/>
<rect x="830.2" y="700.0"/>
<rect x="791.0" y="692.1"/>
<rect x="807.4" y="673.1"/>
<rect x="810.6" y="685.6"/>
<rect x="816.4" y="672.8"/>
<rect x="834.3" y="672.3"/>
<rect x="817.4" y="689.8"/>
<rect x="814.4" y="700.5"/>
<rect x="794.6" y="682.2"/>
<rect x="800.6" y="676.3"/>
<rect x="804.8" y="672.0"/>
<rect x="827.0" y="682.7"/>
<rect x="819.5" y="692.2"/>
<rect x="808.1" y="693.4"/>
<rect x="817.6" y="705.8"/>
<rect x="798.6" y="655.5"/>
<rect x="821.5" y="683.0"/>
<rect x="810.5" y="664.8"/>
<rect x="845.5" y="698.4"/>
<rect x="844.9" y="706.4"/>
<rect x="825.1" y="695.7"/>
<rect x="818.6" y="682.0"/>
<rect x="800.3" y="699.9"/>
<rect x="835.9" y="663.8"/>
<rect x="819.0" y="677.3"/>
<rect x="792.9" y="669.9"/>
<rect x="822.9" y="701.0"/>
<rect x="816.1" y="681.3"/>
<rect x="800.0" y="695.6"/>
<rect x="802.1" y="687.7"/>
<rect x="818.0" y="669.8"/>
<rect x="816.4" y="659.7"/>
<rect x="815.2" y="686.6"/>
<rect x="816.4" y="682.1"/>
<rect x="811.5" y="689.8"/>
<rect x="825.6" y="681.9"/>
<rect x="813.1" y="684.7"/>
<rect x="808.5" y="682.7"/>
<rect x="809.9" y="692.7"/>
<rect x="814.5" y="698.9"/>
<rect x="829.9" y="689.7"/>
<rect x="793.9" y="657.7"/>
<rect x="794.5" y="672.6"/>
<rect x="813.6" y="706.4"/>
<rect x="824.1" y="697.9"/>
<rect x="835.5" y="693.2"/>
<rect x="787.6" y="688.6"/>
<rect x="800.6" y="684.0"/>
<rect x="817.3" y="682.4"/>
<rect x="804.3" y="678.5"/>
<rect x="794.8" y="667.1"/>
<rect x="789.4" y="692.8"/>
<rect x="819.6" y="674.5"/>
<rect x="824.1" y="681.9"/>
<rect x="820.6" y="696.2"/>
<rect x="819.4" y="691.4"/>
<rect x="821.1" y="692.9"/>
<rect x="829.1" y="672.0"/>
<rect x="798.4" y="683.8"/>
<rect x="811.5" y="713.9"/>
<rect x="829.8" y="692.3"/>
<rect x="826.1" y="679.9"/>
<rect x="835.4" y="714.3"/>
<rect x="811.4" y="698.4"/>
<rect x="810.7" y="665.4"/>
<rect x="806.8" y="660.8"/>
<rect x="828.7" y="697.7"/>
<rect x="804.1" y="670.9"/>
<rect x="826.3" y="693.7"/>
<rect x="804.7" y="678.5"/>
<rect x="839.5" y="675.7"/>
<rect x="802.1" y="697.8"/>
<rect x="814.2" y="704.3"/>
<rect x="800.6" y="666.2"/>
<rect x="806.8" y="703.7"/>
<rect x="823.0" y="679.6"/>
<rect x="835.5" y="701.8"/>
<rect x="808.7" y="716.1"/>
<rect x="799.4" y="692.7"/>
<rect x="809.6" y="684.0"/>
<rect x="795.2" y="660.7"/>
<rect x="825.1" y="697.8"/>
<rect x="832.3" y="692.4"/>
<rect x="826.3" y="704.3"/>
<rect x="802.4" y="709.4"/>
<rect x="824.5" y="709.7"/>
<rect x="818.2" y="687.3"/>
<rect x="841.5" y="704.6"/>
<rect x="815.5" y="676.5"/>
<rect x="811.6" y="680.4"/>
<rect x="796.8" y="683.7"/>
<rect x="813.0" y="659.4"/>
<rect x="832.3" y="693.1"/>
<rect x="801.8" y="687.0"/>
<rect x="824.3" y="686.6"/>
<rect x="824.3" y="699.4"/>
<rect x="830.5" y="699.8"/>
<rect x="808.2" y="670.7"/>
<rect x="808.1" y="682.5"/>
<rect x="821.7" y="699.3"/>
<rect x="863.1" y="701.7"/>
<rect x="838.9" y="710.3"/>
<rect x="824.9" y="663.5"/>
<rect x="815.6" y="702.3"/>
<rect x="820.8" y="680.7"/>
<rect x="820.6" y="714.5"/>
<rect x="800.1" y="688.2"/>
<rect x="798.9" y="687.1"/>
<rect x="798.6" y="679.8"/>
<rect x="804.1" y="687.6"/>
<rect x="830.4" y="681.9"/>
<rect x="799.4" y="694.8"/>
<rect x="815.7" y="671.9"/>
<rect x="833.2" y="700.9"/>
<rect x="810.1" y="679.6"/>
<rect x="813.7" y="667.7"/>
<rect x="811.3" y="695.4"/>
<rect x="828.7" y="675.4"/>
<rect x="833.0" y="686.1"/>
<rect x="813.4" y="681.9"/>
<rect x="820.2" y="682.1"/>
<rect x="816.9" y="674.7"/>
<rect x="820.2" y="705.5"/>
<rect x="812.1" y="688.5"/>
<rect x="800.7" y="684.8"/>
<rect x="798.0" y="694.2"/>
<rect x="817.9" y="689.6"/>
<rect x="796.7" y="676.7"/>
<rect x="803.7" y="687.8"/>
<rect x="820.0" y="688.6"/>
<rect x="789.2" y="680.2"/>
<rect x="818.8" y="671.9"/>
<rect x="821.1" y="682.4"/>
<rect x="836.2" y="682.2"/>
<rect x="797.5" y="686.9"/>
<rect x="823.0" y="690.7"/>
<rect x="780.9" y="663.2"/>
<rect x="784.0" y="703.6"/>
<rect x="829.2" y="714.6"/>
<rect x="794.8" y="703.3"/>
<rect x="817.7" y="660.2"/>
<rect x="838.9" y="697.9"/>
<rect x="821.2" y="684.7"/>
<rect x="819.4" y="703.9"/>
<rect x="821.2" y="704.1"/>
<rect x="822.9" y="698.5"/>
<rect x="806.7" y="701.9"/>
<rect x="831.4" y="676.4"/>
<rect x="797.7" y="686.3"/>
<rect x="817.3" y="682.0"/>
<rect x="827.7" y="704.5"/>
<rect x="821.7" y="708.2"/>
<rect x="824.0" y="706.7"/>
<rect x="816.7" y="680.9"/>
<rect x="804.4" y="688.9"/>
<rect x="798.8" y="709.8"/>
<rect x="826.8" y="710.0"/>
<rect x="846.1" y="693.3"/>
<rect x="814.7" y="693.6"/>
<rect x="808.2" y="688.6"/>
<rect x="795.5" y="685.0"/>
<rect x="809.6" y="668.8"/>
<rect x="819.8" y="691.3"/>
<rect x="814.0" y="675.0"/>
<rect x="799.6" y="661.4"/>
<rect x="801.0" y="686.1"/>
<rect x="804.8" y="699.7"/>
<rect x="845.1" y="705.7"/>
<rect x="801.8" y="670.0"/>
<rect x="816.3" y="693.8"/>
<rect x="811.9" y="682.0"/>
<rect x="830.5" y="649.4"/>
<rect x="807.4" y="677.5"/>
<rect x="820.9" y="694.4"/>
<rect x="840.9" y="700.3"/>
<rect x="838.7" y="693.5"/>
<rect x="824.4" y="702.1"/>
<rect x="810.0" y="686.9"/>
<rect x="802.5" y="699.7"/>
<rect x="789.4" y="701.7"/>
<rect x="815.2" y="695.3"/>
<rect x="801.3" y="710.9"/>
<rect x="804.8" y="677.1"/>
<rect x="814.7" y="702.8"/>
<rect x="816.7" y="678.2"/>
<rect x="827.0" y="701.5"/>
<rect x="832.2" y="694.2"/>
<rect x="794.0" y="680.0"/>
<rect x="813.8" y="686.4"/>
<rect x="828.9" y="696.3"/>
<rect x="805.1" y="706.1"/>
<rect x="858.5" y="687.9"/>
<rect x="806.1" y="712.1"/>
<rect x="829.8" y="689.5"/>
<rect x="801.3" y="675.8"/>
<rect x="848.6" y="708.9"/>
<rect x="815.9" y="682.2"/>
<rect x="787.2" y="669.8"/>
<rect x="807.6" y="673.0"/>
<rect x="802.8" y="675.7"/>
<rect x="805.1" y="717.6"/>
<rect x="798.7" y="699.6"/>
<rect x="817.2" y="646.1"/>
<rect x="819.6" y="696.5"/>
<rect x="820.8" y="683.1"/>
<rect x="816.9" y="691.0"/>
<rect x="788.0" y="710.8"/>
<rect x="799.0" y="685.8"/>
<rect x="822.3" y="683.7"/>
<rect x="809.4" y="661.0"/>
<rect x="843.9" y="733.1"/>
<rect x="807.9" y="694.0"/>
<rect x="816.4" y="701.3"/>
<rect x="808.5" y="686.4"/>
<rect x="800.5" y="685.1"/>
<rect x="809.2" y="692.6"/>
<rect x="807.7" y="709.0"/>
<rect x="816.4" y="689.5"/>
<rect x="811.5" y="653.3"/>
<rect x="815.6" y="704.5"/>
<rect x="831.5" y="696.3"/>
<rect x="845.9" y="725.8"/>
<rect x="777.2" y="706.3"/>
<rect x="813.8" y="679.2"/>
<rect x="839.0" y="707.4"/>
<rect x="822.7" y="696.9"/>
<rect x="804.4" y="682.4"/>
<rect x="815.5" y="697.7"/>
<rect x="846.4" y="708.7"/>
<rect x="791.0" y="690.8"/>
<rect x="815.2" y="673.0"/>
<rect x="826.4" y="674.5"/>
<rect x="799.1" y="700.4"/>
<rect x="833.8" y="677.7"/>
<rect x="843.6" y="705.2"/>
<rect x="817.2" y="702.5"/>
<rect x="834.2" y="705.8"/>
<rect x="823.2" y="672.4"/>
<rect x="817.5" y="667.7"/>
<rect x="802.4" y="679.3"/>
<rect x="814.9" y="694.6"/>
<rect x="820.0" y="674.8"/>
<rect x="827.9" y="681.4"/>
<rect x="822.5" y="700.5"/>
<rect x="827.6" y="678.8"/>
<rect x="810.4" y="678.1"/>
<rect x="806.1" y="694.8"/>
<rect x="810.7" y="684.4"/>
<rect x="823.8" y="714.1"/>
<rect x="807.1" y="709.1"/>
<rect x="817.2" y="722.9"/>
<rect x="797.0" y="705.9"/>
<rect x="799.8" y="667.9"/>
<rect x="798.8" y="684.0"/>
<rect x="825.1" y="706.4"/>
<rect x="845.8" y="697.4"/>
<rect x="791.4" y="666.3"/>
<rect x="810.3" y="694.6"/>
<rect x="801.9" y="661.0"/>
<rect x="826.8" y="701.4"/>
<rect x="801.0" y="682.0"/>
<rect x="808.3" y="668.1"/>
<rect x="833.6" y="712.6"/>
<rect x="810.5" y="703.3"/>
<rect x="817.3" y="705.3"/>
<rect x="807.1" y="687.9"/>
<rect x="809.4" y="688.6"/>
<rect x="805.9" y="672.9"/>
<rect x="788.4" y="690.6"/>
<rect x="784.8" y="664.2"/>
<rect x="813.7" y="677.5"/>
<rect x="806.4" y="675.3"/>
<rect x="841.4" y="697.6"/>
<rect x="800.7" y="690.7"/>
<rect x="817.0" y="671.7"/>
<rect x="816.8" y="673.7"/>
<rect x="797.7" y="673.7"/>
<rect x="820.3" y="677.8"/>
<rect x="820.5" y="698.0"/>
<rect x="826.0" y="681.4"/>
<rect x="759.5" y="675.7"/>
<rect x="861.9" y="703.2"/>
</g>
<g class="b">
<rect x="810.5" y="683.3"/>
<rect x="821.4" y="697.4"/>
<rect x="800.1" y="696.7"/>
<rect x="825.4" y="697.5"/>
<rect x="805.8" y="692.4"/>
<rect x="820.2" y="679.3"/>
<rect x="807.0" y="709.5"/>
<rect x="811.2" y="686.5"/>
<rect x="799.7" y="685.5"/>
<rect x="829.5" y="694.1"/>
<rect x="809.6" y="691.0"/>
<rect x="820.5" y="695.7"/>
<rect x="808.3" y="693.9"/>
<rect x="811.3" y="686.5"/>
<rect x="809.6" y="683.9"/>
<rect x="821.6" y="675.7"/>
<rect x="819.0" y="713.9"/>
<rect x="809.2" y="688.3"/>
<rect x="816.6" y="704.0"/>
<rect x="804.4" y="695.5"/>
<rect x="816.3" y="707.4"/>
<rect x="815.4" y="707.7"/>
<rect x="808.6" y="693.8"/>
<rect x="807.3" y="685.6"/>
<rect x="806.0" y="687.2"/>
<rect x="831.1" y="686.1"/>
<rect x="839.4" y="704.4"/>
<rect x="819.9" y="690.8"/>
<rect x="820.0" y="684.3"/>
<rect x="822.5" y="691.5"/>
<rect x="799.7" y="691.0"/>
<rect x="822.4" y="691.1"/>
<rect x="820.0" y="690.7"/>
<rect x="812.8" y="699.6"/>
<rect x="829.8" y="688.1"/>
<rect x="824.4" y="681.5"/>
<rect x="828.4" y="683.7"/>
<rect x="817.5" y="698.7"/>
<rect x="812.7" y="691.0"/>
<rect x="826.2" y="686.0"/>
<rect x="820.2" y="700.0"/>
<rect x="819.4" y="684.1"/>
<rect x="813.6" y="688.5"/>
<rect x="817.3" y="696.0"/>
<rect x="803.3" y="690.1"/>
<rect x="819.0" y="703.4"/>
<rect x="804.1" y="683.2"/>
<rect x="825.1" y="690.3"/>
<rect x="826.9" y="690.3"/>
<rect x="811.4" y="690.2"/>
<rect x="828.2" y="696.8"/>
<rect x="818.9" y="691.9"/>
<rect x="826.7" y="695.9"/>
<rect x="819.3" y="696.8"/>
<rect x="818.0" y="681.3"/>
<rect x="825.2" y="700.8"/>
<rect x="829.5" y="690.1"/>
<rect x="806.5" y="694.1"/>
<rect x="812.0" y="674.9"/>
<rect x="818.5" y="684.2"/>
<rect x="817.8" y="686.6"/>
<rect x="824.4" y="697.8"/>
<rect x="821.6" y="700.6"/>
<rect x="812.4" y="710.5"/>
<rect x="801.9" y="696.9"/>
<rect x="826.3" y="687.3"/>
<rect x="818.2" y="680.6"/>
<rect x="813.3" y="693.1"/>
<rect x="806.0" y="674.3"/>
<rect x="814.0" y="683.6"/>
<rect x="808.7" y="689.2"/>
<rect x="805.0" y="699.8"/>
<rect x="827.3" y="690.9"/>
<rect x="811.9" y="690.1"/>
<rect x="816.2" y="684.0"/>
<rect x="811.4" y="694.2"/>
<rect x="809.2" y="685.3"/>
<rect x="813.2" y="682.3"/>
<rect x="819.4" y="679.9"/>
<rect x="825.3" y="696.6"/>
</g>
<g class="u">
<rect x="670.9" y="858.9"/>
<rect x="664.1" y="836.6"/>
<rect x="653.6" y="871.0"/>
<rect x="665.1" y="852.7"/>
<rect x="665.2" y="839.3"/>
<rect x="670.0" y="866.3"/>
<rect x="639.0" y="862.6"/>
<rect x="657.7" y="859.5"/>
<rect x="652.0" y="850.2"/>
<rect x="660.2" y="843.3"/>
<rect x="698.6" y="814.3"/>
<rect x="650.3" y="834.9"/>
<rect x="658.7" y="846.6"/>
<rect x="645.1" y="848.1"/>
<rect x="648.7" y="829.4"/>
<rect x="650.7" y="867.2"/>
<rect x="669.4" y="834.3"/>
<rect x="650.6" y="858.8"/>
<rect x="670.1" y="837.0"/>
<rect x="656.1" y="856.3"/>
<rect x="677.5" y="852.1"/>
<rect x="655.1" y="852.8"/>
<rect x="681.7" y="851.1"/>
<rect x="667.3" y="827.8"/>
<rect x="673.2" y="860.4"/>
<rect x="649.6" y="872.6"/>
<rect x="681.0" y="853.8"/>
<rect x="637.7" y="880.2"/>
<rect x="663.9" y="846.7"/>
<rect x="637.3" y="836.3"/>
<rect x="670.8" y="848.3"/>
<rect x="644.0" y="837.7"/>
<rect x="643.6" y="865.5"/>
<rect x="660.5" y="852.2"/>
<rect x="637.4" y="868.4"/>
<rect x="641.7" y="857.6"/>
<rect x="641.2" y="891.7"/>
<rect x="663.1" y="837.9"/>
<rect x="648.4" y="864.7"/>
<rect x="661.2" y="869.7"/>
<rect x="647.1" y="885.1"/>
<rect x="684.9" y="835.5"/>
<rect x="677.0" y="831.4"/>
<rect x="656.3" y="854.6"/>
<rect x="660.6" y="847.7"/>
<rect x="665.6" y="838.4"/>
<rect x="662.0" y="879.3"/>
<rect x="647.5" y="871.4"/>
<rect x="656.7" y="866.3"/>
<rect x="663.8" y="853.9"/>
<rect x="644.1" y="853.7"/>
<rect x="666.3" y="846.9"/>
<rect x="650.7" y="864.6"/>
<rect x="654.1" y="852.9"/>
<rect x="668.6" y="849.0"/>
<rect x="666.1" y="832.9"/>
<rect x="685.3" y="852.0"/>
<rect x="674.5" y="848.6"/>
<rect x="700.2" y="857.8"/>
<rect x="642.2" y="855.6"/>
<rect x="670.3" y="868.6"/>
<rect x="665.4" y="858.8"/>
<rect x="656.3" y="857.0"/>
<rect x="648.3" y="863.2"/>
<rect x="704.5" y="840.9"/>
<rect x="682.0" y="829.6"/>
<rect x="642.4" y="871.7"/>
<rect x="644.7" y="876.4"/>
<rect x="637.5" y="866.1"/>
<rect x="659.7" y="855.3"/>
<rect x="649.9" y="853.6"/>
<rect x="656.5" y="854.6"/>
<rect x="652.2" y="863.6"/>
<rect x="676.6" y="825.6"/>
<rect x="647.0" y="833.9"/>
<rect x="641.1" y="855.7"/>
<rect x="657.3" y="841.8"/>
<rect x="665.3" y="842.9"/>
<rect x="668.1" y="857.5"/>
<rect x="654.3" y="855.8"/>
<rect x="644.3" y="854.1"/>
<rect x="657.0" y="864.4"/>
<rect x="644.2" y="861.9"/>
<rect x="687.6" y="851.4"/>
<rect x="672.5" y="867.8"/>
<rect x="639.0" y="847.9"/>
<rect x="651.9" y="849.3"/>
<rect x="668.4" y="826.7"/>
<rect x="680.1" y="816.8"/>
<rect x="655.3" y="850.4"/>
<rect x="658.7" y="857.6"/>
<rect x="654.2" y="852.6"/>
<rect x="693.4" y="824.4"/>
<rect x="667.5" y="835.9"/>
<rect x="622.8" y="869.3"/>
<rect x="647.7" y="850.1"/>
<rect x="665.7" y="875.5"/>
<rect x="683.1" y="854.5"/>
<rect x="646.3" y="846.0"/>
<rect x="648.7" y="842.3"/>
<rect x="648.2" y="871.8"/>
<rect x="690.3" y="853.4"/>
<rect x="658.7" y="848.7"/>
<rect x="648.4" y="873.1"/>
<rect x="648.1" y="862.4"/>
<rect x="639.4" y="854.3"/>
<rect x="644.5" y="852.6"/>
<rect x="650.4" y="862.6"/>
<rect x="653.9" y="878.7"/>
<rect x="672.2" y="870.3"/>
<rect x="641.6" y="862.2"/>
<rect x="657.6" y="855.5"/>
<rect x="667.8" y="852.8"/>
<rect x="685.0" y="827.3"/>
<rect x="652.1" y="868.2"/>
<rect x="671.3" y="847.4"/>
<rect x="673.9" y="824.6"/>
<rect x="632.4" y="877.6"/>
<rect x="642.3" y="870.5"/>
<rect x="692.2" y="858.2"/>
<rect x="661.6" y="851.7"/>
<rect x="667.4" y="825.4"/>
<rect x="664.2" y="851.7"/>
<rect x="671.5" y="839.5"/>
<rect x="681.5" y="863.0"/>
<rect x="646.8" y="846.1"/>
<rect x="659.5" y="847.8"/>
<rect x="672.1" y="862.3"/>
<rect x="654.4" y="840.8"/>
<rect x="649.3" y="858.2"/>
<rect x="654.3" y="850.4"/>
<rect x="667.6" y="844.7"/>
<rect x="670.0" y="850.6"/>
<rect x="668.6" y="836.3"/>
<rect x="621.2" y="874.7"/>
<rect x="635.6" y="854.2"/>
<rect x="644.1" y="858.7"/>
<rect x="686.4" y="818.0"/>
<rect x="657.4" y="873.6"/>
<rect x="647.0" y="848.5"/>
<rect x="670.8" y="861.6"/>
<rect x="679.1" y="844.9"/>
<rect x="672.9" y="844.2"/>
<rect x="661.7" y="855.7"/>
<rect x="660.6" y="861.7"/>
<rect x="633.8" y="870.7"/>
<rect x="669.2" y="834.2"/>
<rect x="660.9" y="869.3"/>
<rect x="668.1" y="866.9"/>
<rect x="684.9" y="834.9"/>
<rect x="652.5" y="832.7"/>
<rect x="654.5" y="847.2"/>
<rect x="664.2" y="869.9"/>
<rect x="655.5" y="857.2"/>
<rect x="644.6" y="865.3"/>
<rect x="639.7" y="832.4"/>
<rect x="647.5" y="847.6"/>
<rect x="689.0" y="844.0"/>
<rect x="659.6" y="824.8"/>
<rect x="670.9" y="865.7"/>
<rect x="672.3" y="866.8"/>
<rect x="645.3" y="838.1"/>
<rect x="675.7" y="848.6"/>
<rect x="667.0" y="866.5"/>
<rect x="670.7" y="852.1"/>
<rect x="679.2" y="831.0"/>
<rect x="668.5" y="855.1"/>
<rect x="669.3" y="859.5"/>
<rect x="683.8" y="850.6"/>
<rect x="627.3" y="870.8"/>
<rect x="662.3" y="831.0"/>
<rect x="658.1" y="855.3"/>
<rect x="663.2" y="849.0"/>
<rect x="669.6" y="823.9"/>
<rect x="672.4" y="856.3"/>
<rect x="670.5" y="851.4"/>
<rect x="667.6" y="863.0"/>
<rect x="633.5" y="846.2"/>
<rect x="646.1" y="881.3"/>
<rect x="684.6" y="823.8"/>
<rect x="671.8" y="860.3"/>
<rect x="668.8" y="843.4"/>
<rect x="651.0" y="878.7"/>
<rect x="663.0" y="838.5"/>
<rect x="651.5" y="855.4"/>
<rect x="651.1" y="849.2"/>
<rect x="661.2" y="857.6"/>
<rect x="662.6" y="867.0"/>
<rect x="637.7" y="874.7"/>
<rect x="666.1" y="856.1"/>
<rect x="647.5" y="859.1"/>
<rect x="658.5" y="865.4"/>
<rect x="668.1" y="861.5"/>
<rect x="661.3" y="844.7"/>
<rect x="642.3" y="867.4"/>
<rect x="661.9" y="851.5"/>
<rect x="667.4" y="857.6"/>
<rect x="658.4" y="872.0"/>
<rect x="667.8" y="854.1"/>
<rect x="689.0" y="836.3"/>
<rect x="700.7" y="824.2"/>
<rect x="678.5" y="856.6"/>
<rect x="682.5" y="851.8"/>
<rect x="653.1" y="863.1"/>
<rect x="671.8" y="818.1"/>
<rect x="678.4" y="841.2"/>
<rect x="653.5" y="864.1"/>
<rect x="633.8" y="878.8"/>
<rect x="658.1" y="848.5"/>
<rect x="686.9" y="827.6"/>
<rect x="655.8" y="870.2"/>
<rect x="637.9" y="869.2"/>
<rect x="638.4" y="865.5"/>
<rect x="652.6" y="886.7"/>
<rect x="660.1" y="858.5"/>
<rect x="691.2" y="855.7"/>
<rect x="669.0" y="826.8"/>
<rect x="657.8" y="885.3"/>
<rect x="682.7" y="844.4"/>
<rect x="697.1" y="843.6"/>
<rect x="660.9" y="857.5"/>
<rect x="657.5" y="843.0"/>
<rect x="636.1" y="842.9"/>
<rect x="662.9" y="876.4"/>
<rect x="694.9" y="827.7"/>
<rect x="659.6" y="847.7"/>
<rect x="683.2" y="854.9"/>
<rect x="673.8" y="863.5"/>
<rect x="645.2" y="841.4"/>
<rect x="654.6" y="839.4"/>
<rect x="627.1" y="879.0"/>
<rect x="661.9" y="840.3"/>
<rect x="647.0" y="881.9"/>
<rect x="663.8" y="837.1"/>
<rect x="653.6" y="853.4"/>
<rect x="640.6" y="853.9"/>
<rect x="663.4" y="846.3"/>
<rect x="654.0" y="864.7"/>
<rect x="681.6" y="835.2"/>
<rect x="666.0" y="851.2"/>
<rect x="683.4" y="832.7"/>
<rect x="667.0" y="859.0"/>
<rect x="659.3" y="828.9"/>
<rect x="661.1" y="866.6"/>
<rect x="631.0" y="869.1"/>
<rect x="670.2" y="840.1"/>
<rect x="657.2" y="861.4"/>
<rect x="664.2" y="860.7"/>
<rect x="659.2" y="837.5"/>
<rect x="654.6" y="870.5"/>
<rect x="668.1" y="862.4"/>
<rect x="671.0" y="823.5"/>
<rect x="659.8" y="844.4"/>
<rect x="664.2" y="855.4"/>
<rect x="655.4" y="869.4"/>
<rect x="685.4" y="833.0"/>
<rect x="656.6" y="856.3"/>
<rect x="700.1" y="824.3"/>
<rect x="666.8" y="828.6"/>
<rect x="668.0" y="825.2"/>
<rect x="634.5" y="843.0"/>
<rect x="639.5" y="871.4"/>
<rect x="677.9" y="840.0"/>
<rect x="672.0" y="845.4"/>
<rect x="659.6" y="848.2"/>
<rect x="672.2" y="869.4"/>
<rect x="663.5" y="846.5"/>
<rect x="678.1" y="831.3"/>
<rect x="645.9" y="856.4"/>
<rect x="657.0" y="825.1"/>
<rect x="690.0" y="837.2"/>
<rect x="669.1" y="824.8"/>
<rect x="644.4" y="853.3"/>
<rect x="676.8" y="862.5"/>
<rect x="665.1" y="834.2"/>
<rect x="660.4" y="854.8"/>
<rect x="673.1" y="836.2"/>
<rect x="652.7" y="827.0"/>
<rect x="664.5" y="853.7"/>
<rect x="656.3" y="846.7"/>
<rect x="653.5" y="851.6"/>
<rect x="648.8" y="870.4"/>
<rect x="666.8" y="841.0"/>
<rect x="674.7" y="852.0"/>
<rect x="639.8" y="856.5"/>
<rect x="665.6" y="826.3"/>
<rect x="655.1" y="895.0"/>
<rect x="680.5" y="844.0"/>
<rect x="627.5" y="871.0"/>
<rect x="647.6" y="843.7"/>
<rect x="648.6" y="861.9"/>
<rect x="664.0" y="858.7"/>
<rect x="633.3" y="883.4"/>
<rect x="652.1" y="849.1"/>
<rect x="649.2" y="876.2"/>
<rect x="647.2" y="861.3"/>
<rect x="647.6" y="856.2"/>
<rect x="644.6" y="844.8"/>
<rect x="661.2" y="875.2"/>
<rect x="686.9" y="836.1"/>
<rect x="673.0" y="858.9"/>
<rect x="659.9" y="849.2"/>
<rect x="664.2" y="847.6"/>
<rect x="645.8" y="860.0"/>
<rect x="654.5" y="861.6"/>
<rect x="652.7" y="878.2"/>
<rect x="639.3" y="862.4"/>
<rect x="644.9" y="844.1"/>
<rect x="638.3" y="881.6"/>
<rect x="669.3" y="831.9"/>
<rect x="677.5" y="839.2"/>
<rect x="661.1" y="840.3"/>
<rect x="658.9" y="847.4"/>
<rect x="672.1" y="842.3"/>
<rect x="659.1" y="844.6"/>
<rect x="652.8" y="845.7"/>
<rect x="666.0" y="870.0"/>
<rect x="645.4" y="841.3"/>
<rect x="661.6" y="853.5"/>
<rect x="674.2" y="838.2"/>
<rect x="672.1" y="854.8"/>
<rect x="649.2" y="848.5"/>
<rect x="648.5" y="847.6"/>
<rect x="672.2" y="827.2"/>
<rect x="679.1" y="846.4"/>
<rect x="673.0" y="844.0"/>
<rect x="664.9" y="852.3"/>
<rect x="646.2" y="877.1"/>
<rect x="639.6" y="877.5"/>
<rect x="670.2" y="861.8"/>
<rect x="645.1" y="895.7"/>
<rect x="682.0" y="842.3"/>
<rect x="669.7" y="851.8"/>
<rect x="652.7" y="863.9"/>
<rect x="670.5" y="864.4"/>
<rect x="655.2" y="849.8"/>
<rect x="669.1" y="855.0"/>
<rect x="664.7" y="877.4"/>
<rect x="654.9" y="844.4"/>
<rect x="647.4" y="862.2"/>
<rect x="677.1" y="852.4"/>
<rect x="684.9" y="828.1"/>
<rect x="652.3" y="870.0"/>
<rect x="675.1" y="833.1"/>
<rect x="663.3" y="857.8"/>
<rect x="675.6" y="831.2"/>
<rect x="650.2" y="855.8"/>
<rect x="653.1" y="855.4"/>
<rect x="655.0" y="861.1"/>
<rect x="652.6" y="873.2"/>
<rect x="661.6" y="854.2"/>
<rect x="661.4" y="851.7"/>
<rect x="626.5" y="887.0"/>
<rect x="675.0" y="857.0"/>
<rect x="637.5" y="880.5"/>
<rect x="652.3" y="846.4"/>
<rect x="682.0" y="833.7"/>
<rect x="675.3" y="853.3"/>
<rect x="651.2" y="872.7"/>
<rect x="661.7" y="854.2"/>
<rect x="666.6" y="858.6"/>
<rect x="644.3" y="857.3"/>
<rect x="683.1" y="832.6"/>
<rect x="680.0" y="825.2"/>
<rect x="652.7" y="883.4"/>
<rect x="649.4" y="852.5"/>
<rect x="682.0" y="830.0"/>
<rect x="676.3" y="833.8"/>
<rect x="679.5" y="835.6"/>
<rect x="650.2" y="856.3"/>
<rect x="664.2" y="860.4"/>
<rect x="683.4" y="854.0"/>
<rect x="655.5" y="848.5"/>
<rect x="656.6" y="860.6"/>
<rect x="660.8" y="840.9"/>
<rect x="651.6" y="859.7"/>
<rect x="669.5" y="841.9"/>
<rect x="680.7" y="841.1"/>
<rect x="659.6" y="862.5"/>
<rect x="640.3" y="858.7"/>
<rect x="653.5" y="838.5"/>
<rect x="662.0" y="837.5"/>
<rect x="658.6" y="855.9"/>
<rect x="690.5" y="849.1"/>
<rect x="670.8" y="859.9"/>
<rect x="660.4" y="852.4"/>
<rect x="666.0" y="859.5"/>
<rect x="668.8" y="844.1"/>
<rect x="665.6" y="870.9"/>
<rect x="674.6" y="845.9"/>
<rect x="637.0" y="879.0"/>
<rect x="660.3" y="840.9"/>
<rect x="667.9" y="829.0"/>
<rect x="663.7" y="850.9"/>
<rect x="667.4" y="856.1"/>
<rect x="662.3" y="845.4"/>
<rect x="645.2" y="868.6"/>
<rect x="648.5" y="843.8"/>
<rect x="653.8" y="851.6"/>
<rect x="662.1" y="833.8"/>
<rect x="661.6" y="853.5"/>
<rect x="631.6" y="894.8"/>
<rect x="680.9" y="852.6"/>
<rect x="642.0" y="847.0"/>
<rect x="662.4" y="828.7"/>
<rect x="663.9" y="835.4"/>
<rect x="630.6" y="881.2"/>
<rect x="681.3" y="836.2"/>
<rect x="652.0" y="871.9"/>
<rect x="675.3" y="850.4"/>
<rect x="663.1" y="828.8"/>
<rect x="646.6" y="841.3"/>
<rect x="662.0" y="837.6"/>
<rect x="679.6" y="848.7"/>
<rect x="626.3" y="882.3"/>
<rect x="658.2" y="865.8"/>
<rect x="658.5" y="869.0"/>
<rect x="688.3" y="843.0"/>
<rect x="661.9" y="855.1"/>
<rect x="676.9" y="855.4"/>
<rect x="646.0" y="852.9"/>
<rect x="648.8" y="845.7"/>
<rect x="641.0" y="875.6"/>
<rect x="683.9" y="868.3"/>
<rect x="663.4" y="870.7"/>
<rect x="692.0" y="823.4"/>
<rect x="674.8" y="840.9"/>
<rect x="677.0" y="857.2"/>
<rect x="669.5" y="858.0"/>
<rect x="665.2" y="867.2"/>
<rect x="663.9" y="846.1"/>
<rect x="663.1" y="850.6"/>
<rect x="650.9" y="852.1"/>
<rect x="634.6" y="871.3"/>
<rect x="666.3" y="852.4"/>
<rect x="665.0" y="834.5"/>
<rect x="650.0" y="891.7"/>
<rect x="631.0" y="868.5"/>
<rect x="626.1" y="881.0"/>
<rect x="652.6" y="857.5"/>
<rect x="671.6" y="864.8"/>
<rect x="694.9" y="860.4"/>
<rect x="653.1" y="851.1"/>
<rect x="670.9" y="853.2"/>
<rect x="678.0" y="848.9"/>
<rect x="660.9" y="867.0"/>
<rect x="681.0" y="865.4"/>
<rect x="687.6" y="834.7"/>
<rect x="648.5" y="846.3"/>
<rect x="661.2" y="841.2"/>
<rect x="671.6" y="848.7"/>
<rect x="668.6" y="874.7"/>
<rect x="647.6" y="851.2"/>
<rect x="663.9" y="850.8"/>
<rect x="669.4" y="844.5"/>
<rect x="659.6" y="867.4"/>
<rect x="674.3" y="841.9"/>
<rect x="648.4" y="862.8"/>
<rect x="701.1" y="817.1"/>
<rect x="645.5" y="833.1"/>
<rect x="660.5" y="846.2"/>
<rect x="678.0" y="846.8"/>
<rect x="673.1" y="835.8"/>
<rect x="646.8" y="846.5"/>
<rect x="652.8" y="855.2"/>
<rect x="662.4" y="865.0"/>
<rect x="677.8" y="855.1"/>
<rect x="653.6" y="848.9"/>
<rect x="649.5" y="846.4"/>
<rect x="656.5" y="832.5"/>
<rect x="660.5" y="862.5"/>
<rect x="668.7" y="867.6"/>
<rect x="656.1" y="867.5"/>
<rect x="656.4" y="857.1"/>
<rect x="657.1" y="879.6"/>
<rect x="663.9" y="848.7"/>
<rect x="668.4" y="869.1"/>
<rect x="662.4" y="827.8"/>
<rect x="670.4" y="834.5"/>
<rect x="672.4" y="832.5"/>
</g>
<g class="b">
<rect x="661.2" y="859.3"/>
<rect x="666.6" y="864.3"/>
<rect x="686.4" y="860.5"/>
<rect x="667.4" y="867.4"/>
<rect x="652.0" y="870.4"/>
<rect x="654.2" y="849.4"/>
<rect x="664.8" y="841.4"/>
<rect x="658.7" y="855.3"/>
<rect x="667.9" y="840.8"/>
<rect x="637.8" y="859.9"/>
<rect x="649.6" y="857.0"/>
<rect x="668.4" y="861.1"/>
<rect x="659.3" y="848.1"/>
<rect x="691.5" y="852.8"/>
<rect x="655.2" y="841.6"/>
<rect x="661.9" y="869.6"/>
<rect x="670.4" y="845.5"/>
<rect x="652.0" y="848.0"/>
<rect x="664.0" y="856.4"/>
<rect x="668.5" y="864.0"/>
<rect x="652.4" y="839.4"/>
<rect x="663.4" y="859.2"/>
<rect x="659.3" y="856.2"/>
<rect x="663.4" y="864.4"/>
<rect x="662.3" y="849.4"/>
<rect x="668.7" y="863.0"/>
<rect x="658.5" y="852.7"/>
<rect x="657.8" y="843.2"/>
<rect x="685.7" y="848.1"/>
<rect x="661.3" y="850.6"/>
<rect x="656.9" y="852.5"/>
<rect x="663.4" y="857.2"/>
<rect x="659.2" y="840.6"/>
<rect x="663.0" y="860.3"/>
<rect x="675.4" y="852.9"/>
<rect x="661.8" y="846.8"/>
<rect x="677.4" y="848.2"/>
<rect x="659.6" y="853.2"/>
<rect x="662.1" y="854.3"/>
<rect x="667.9" y="869.5"/>
<rect x="668.7" y="857.6"/>
<rect x="651.2" y="874.3"/>
<rect x="668.8" y="861.9"/>
<rect x="661.3" y="852.9"/>
<rect x="660.8" y="852.1"/>
<rect x="660.6" y="861.1"/>
<rect x="673.7" y="853.3"/>
<rect x="661.6" y="861.5"/>
<rect x="662.3" y="858.8"/>
<rect x="658.4" y="866.8"/>
<rect x="660.1" y="859.0"/>
<rect x="679.4" y="857.5"/>
<rect x="661.9" y="860.7"/>
<rect x="677.7" y="833.2"/>
<rect x="660.8" y="852.4"/>
<rect x="671.9" y="839.8"/>
<rect x="671.4" y="854.3"/>
<rect x="669.2" y="844.3"/>
<rect x="675.6" y="878.0"/>
<rect x="665.3" y="859.3"/>
<rect x="654.9" y="827.4"/>
<rect x="663.5" y="851.7"/>
<rect x="670.2" y="854.3"/>
<rect x="652.4" y="832.9"/>
<rect x="674.0" y="862.8"/>
<rect x="663.0" y="851.4"/>
<rect x="670.4" y="848.8"/>
<rect x="652.8" y="865.4"/>
<rect x="651.8" y="849.9"/>
<rect x="675.7" y="858.2"/>
<rect x="673.9" y="867.7"/>
<rect x="666.0" y="840.0"/>
<rect x="648.9" y="833.1"/>
<rect x="670.8" y="840.3"/>
<rect x="663.1" y="854.7"/>
<rect x="667.3" y="853.5"/>
<rect x="675.7" y="856.9"/>
<rect x="673.8" y="853.0"/>
<rect x="664.4" y="855.3"/>
<rect x="668.5" y="861.1"/>
</g>
<g class="u">
<rect x="815.3" y="874.2"/>
<rect x="827.8" y="846.2"/>
<rect x="793.2" y="864.4"/>
<rect x="824.7" y="882.6"/>
<rect x="827.2" y="867.5"/>
<rect x="821.0" y="883.4"/>
<rect x="811.2" y="865.9"/>
<rect x="792.5" y="874.7"/>
<rect x="813.7" y="879.2"/>
<rect x="813.6" y="871.2"/>
<rect x="819.3" y="857.0"/>
<rect x="821.6" y="886.6"/>
<rect x="808.0" y="850.0"/>
<rect x="823.9" y="854.5"/>
<rect x="817.8" y="855.6"/>
<rect x="802.1" y="869.9"/>
<rect x="796.0" y="866.1"/>
<rect x="791.8" y="882.0"/>
<rect x="836.7" y="875.9"/>
<rect x="815.9" y="870.3"/>
<rect x="804.6" y="852.8"/>
<rect x="803.4" y="866.7"/>
<rect x="838.7" y="882.2"/>
<rect x="813.6" y="858.5"/>
<rect x="798.1" y="843.3"/>
<rect x="842.0" y="866.8"/>
<rect x="832.3" y="890.6"/>
<rect x="825.4" y="856.8"/>
<rect x="812.9" y="827.6"/>
<rect x="810.4" y="863.9"/>
<rect x="810.6" y="849.9"/>
<rect x="793.2" y="818.7"/>
<rect x="796.2" y="850.1"/>
<rect x="803.2" y="861.3"/>
<rect x="833.8" y="846.6"/>
<rect x="812.9" y="863.9"/>
<rect x="808.3" y="846.2"/>
<rect x="804.9" y="864.7"/>
<rect x="822.1" y="852.1"/>
<rect x="815.1" y="870.6"/>
<rect x="806.2" y="828.8"/>
<rect x="806.8" y="843.9"/>
<rect x="788.1" y="857.6"/>
<rect x="807.5" y="858.2"/>
<rect x="798.7" y="866.0"/>
<rect x="804.1" y="840.9"/>
<rect x="834.9" y="859.9"/>
<rect x="827.3" y="854.9"/>
<rect x="787.7" y="829.7"/>
<rect x="826.1" y="868.7"/>
<rect x="829.6" y="833.7"/>
<rect x="837.3" y="861.8"/>
<rect x="821.0" y="865.9"/>
<rect x="786.1" y="876.2"/>
<rect x="787.0" y="826.1"/>
<rect x="829.4" y="870.8"/>
<rect x="796.4" y="846.6"/>
<rect x="817.9" y="865.0"/>
<rect x="826.7" y="872.3"/>
<rect x="800.0" y="860.1"/>
<rect x="797.8" y="857.5"/>
<rect x="798.5" y="861.7"/>
<rect x="840.0" y="841.4"/>
<rect x="816.1" y="847.9"/>
<rect x="826.9" y="869.0"/>
<rect x="800.7" y="856.2"/>
<rect x="822.1" y="861.3"/>
<rect x="819.8" y="854.9"/>
<rect x="805.0" y="844.2"/>
<rect x="826.6" y="853.7"/>
<rect x="829.9" y="837.4"/>
<rect x="814.0" y="875.3"/>
<rect x="836.4" y="853.9"/>
<rect x="810.8" y="886.5"/>
<rect x="794.1" y="859.7"/>
<rect x="845.8" y="865.1"/>
<rect x="792.8" y="855.3"/>
<rect x="787.7" y="867.5"/>
<rect x="836.2" y="880.2"/>
<rect x="814.9" y="861.1"/>
<rect x="834.4" y="841.1"/>
<rect x="818.1" y="829.4"/>
<rect x="784.4" y="859.5"/>
<rect x="824.4" y="856.0"/>
<rect x="846.4" y="832.7"/>
<rect x="800.6" y="853.6"/>
<rect x="818.2" y="837.6"/>
<rect x="813.6" y="832.5"/>
<rect x="805.9" y="846.2"/>
<rect x="807.5" y="859.6"/>
<rect x="783.2" y="864.8"/>
<rect x="814.9" y="854.2"/>
<rect x="826.2" y="874.0"/>
<rect x="826.3" y="866.6"/>
<rect x="833.4" y="797.5"/>
<rect x="834.2" y="860.8"/>
<rect x="807.1" y="842.0"/>
<rect x="807.4" y="848.3"/>
<rect x="813.8" y="854.5"/>
<rect x="793.3" y="854.5"/>
<rect x="820.8" y="853.0"/>
<rect x="818.1" y="828.5"/>
<rect x="836.2" y="879.2"/>
<rect x="794.2" y="819.3"/>
<rect x="797.6" y="889.2"/>
<rect x="809.6" y="852.4"/>
<rect x="805.0" y="872.1"/>
<rect x="816.3" y="864.0"/>
<rect x="807.8" y="873.8"/>
<rect x="789.8" y="876.5"/>
<rect x="817.3" y="850.5"/>
<rect x="811.7" y="853.1"/>
<rect x="823.4" y="850.1"/>
<rect x="812.6" y="842.0"/>
<rect x="807.0" y="826.3"/>
<rect x="815.7" y="853.1"/>
<rect x="837.5" y="869.7"/>
<rect x="808.1" y="871.5"/>
<rect x="814.6" y="844.0"/>
<rect x="831.3" y="846.2"/>
<rect x="799.7" y="846.2"/>
<rect x="811.3" y="848.0"/>
<rect x="818.7" y="826.7"/>
<rect x="805.7" y="837.9"/>
<rect x="817.4" y="860.2"/>
<rect x="831.5" y="876.7"/>
<rect x="818.2" y="837.1"/>
<rect x="827.2" y="852.5"/>
<rect x="832.4" y="832.2"/>
<rect x="813.9" y="852.2"/>
<rect x="819.3" y="845.9"/>
<rect x="831.4" y="848.5"/>
<rect x="826.5" y="866.9"/>
<rect x="814.8" y="835.5"/>
<rect x="812.6" y="859.2"/>
<rect x="847.2" y="822.4"/>
<rect x="833.5" y="852.3"/>
<rect x="808.4" y="860.7"/>
<rect x="789.7" y="857.5"/>
<rect x="827.3" y="854.3"/>
<rect x="840.4" y="877.2"/>
<rect x="820.6" y="832.0"/>
<rect x="805.5" y="835.9"/>
<rect x="815.5" y="842.0"/>
<rect x="799.2" y="862.8"/>
<rect x="819.5" y="843.5"/>
<rect x="793.1" y="852.6"/>
<rect x="825.9" y="842.8"/>
<rect x="816.3" y="847.9"/>
<rect x="815.5" y="813.8"/>
<rect x="838.0" y="828.0"/>
<rect x="806.1" y="867.8"/>
<rect x="825.3" y="845.5"/>
<rect x="840.6" y="862.8"/>
<rect x="830.5" y="858.9"/>
<rect x="811.6" y="854.3"/>
<rect x="801.2" y="861.8"/>
<rect x="815.8" y="889.5"/>
<rect x="829.0" y="826.7"/>
<rect x="792.1" y="860.2"/>
<rect x="834.0" y="857.2"/>
<rect x="809.1" y="851.8"/>
<rect x="805.3" y="842.0"/>
<rect x="822.2" y="894.6"/>
<rect x="805.8" y="867.4"/>
<rect x="838.0" y="857.0"/>
<rect x="827.2" y="853.9"/>
<rect x="808.8" y="834.6"/>
<rect x="800.3" y="857.1"/>
<rect x="818.3" y="852.7"/>
<rect x="817.1" y="851.9"/>
<rect x="835.4" y="869.6"/>
<rect x="785.9" y="866.9"/>
<rect x="821.6" y="836.6"/>
<rect x="803.4" y="850.6"/>
<rect x="792.8" y="843.4"/>
<rect x="818.1" y="842.7"/>
<rect x="811.7" y="869.0"/>
<rect x="814.4" y="833.6"/>
<rect x="840.4" y="845.2"/>
<rect x="794.3" y="849.2"/>
<rect x="806.5" y="879.7"/>
<rect x="831.6" y="856.1"/>
<rect x="824.3" y="875.0"/>
<rect x="807.1" y="826.2"/>
<rect x="791.9" y="851.5"/>
<rect x="835.8" y="854.5"/>
<rect x="842.5" y="861.9"/>
<rect x="808.2" y="893.3"/>
<rect x="824.6" y="839.7"/>
<rect x="793.9" y="890.2"/>
<rect x="807.9" y="863.6"/>
<rect x="818.1" y="843.2"/>
<rect x="840.5" y="839.5"/>
<rect x="812.0" y="876.8"/>
<rect x="815.2" y="836.4"/>
<rect x="793.3" y="837.6"/>
<rect x="829.4" y="843.5"/>
<rect x="825.6" y="848.7"/>
<rect x="815.1" y="849.3"/>
<rect x="799.7" y="857.1"/>
<rect x="799.1" y="849.8"/>
<rect x="843.1" y="859.7"/>
<rect x="834.7" y="836.8"/>
<rect x="828.6" y="881.1"/>
<rect x="811.9" y="871.8"/>
<rect x="802.0" y="900.0"/>
<rect x="829.6" y="875.7"/>
<rect x="804.9" y="861.9"/>
<rect x="823.8" y="855.9"/>
<rect x="827.1" y="885.9"/>
<rect x="845.0" y="866.9"/>
<rect x="811.6" y="853.0"/>
<rect x="782.2" y="854.1"/>
<rect x="803.3" y="840.0"/>
<rect x="813.3" y="868.6"/>
<rect x="835.6" y="858.4"/>
<rect x="836.8" y="842.4"/>
<rect x="818.0" y="863.7"/>
<rect x="801.4" y="875.1"/>
<rect x="797.9" y="855.3"/>
<rect x="794.4" y="849.1"/>
<rect x="834.7" y="841.9"/>
<rect x="810.6" y="845.2"/>
<rect x="800.0" y="859.6"/>
<rect x="826.9" y="853.6"/>
<rect x="816.4" y="848.1"/>
<rect x="793.3" y="857.4"/>
<rect x="828.5" y="849.9"/>
<rect x="828.9" y="861.6"/>
<rect x="797.2" y="879.3"/>
<rect x="815.6" y="837.2"/>
<rect x="817.2" y="866.7"/>
<rect x="804.0" y="845.3"/>
<rect x="802.1" y="857.9"/>
<rect x="798.9" y="867.5"/>
<rect x="831.1" y="858.8"/>
<rect x="792.2" y="856.5"/>
<rect x="816.8" y="849.7"/>
<rect x="830.1" y="870.1"/>
<rect x="805.2" y="876.7"/>
<rect x="827.4" y="821.9"/>
<rect x="814.2" y="883.9"/>
<rect x="800.0" y="846.9"/>
<rect x="791.5" y="860.0"/>
<rect x="832.4" y="863.6"/>
<rect x="820.2" y="897.3"/>
<rect x="805.0" y="855.0"/>
<rect x="806.1" y="848.7"/>
<rect x="814.6" y="855.3"/>
<rect x="785.2" y="877.5"/>
<rect x="814.3" y="836.0"/>
<rect x="825.4" y="848.4"/>
<rect x="818.3" y="866.9"/>
<rect x="787.6" y="845.7"/>
<rect x="815.8" y="836.1"/>
<rect x="802.0" y="845.8"/>
<rect x="805.8" y="825.2"/>
<rect x="821.5" y="857.7"/>
<rect x="815.0" y="837.9"/>
<rect x="798.1" y="864.9"/>
<rect x="827.9" y="856.0"/>
<rect x="834.9" y="842.7"/>
<rect x="819.6" y="850.8"/>
<rect x="787.1" y="869.7"/>
<rect x="811.5" y="858.3"/>
<rect x="823.2" y="872.3"/>
<rect x="815.8" y="843.6"/>
<rect x="833.5" y="868.5"/>
<rect x="821.3" y="860.4"/>
<rect x="818.7" y="848.1"/>
<rect x="852.5" y="847.0"/>
<rect x="785.8" y="854.3"/>
<rect x="827.1" y="860.9"/>
<rect x="798.8" y="900.0"/>
<rect x="829.5" y="856.5"/>
<rect x="830.0" y="857.7"/>
<rect x="810.2" y="880.9"/>
<rect x="810.2" y="865.3"/>
<rect x="800.8" y="850.2"/>
<rect x="816.2" y="855.6"/>
<rect x="821.9" y="856.0"/>
<rect x="807.0" y="864.5"/>
<rect x="785.9" y="878.5"/>
<rect x="796.4" y="846.7"/>
<rect x="786.8" y="863.8"/>
<rect x="801.1" y="840.4"/>
<rect x="828.5" y="869.8"/>
<rect x="825.9" y="853.3"/>
<rect x="804.5" y="818.7"/>
<rect x="816.4" y="832.1"/>
<rect x="794.0" y="840.4"/>
<rect x="838.1" y="837.0"/>
<rect x="804.3" y="875.3"/>
<rect x="828.9" y="858.2"/>
<rect x="800.7" y="867.1"/>
<rect x="826.9" y="858.3"/>
<rect x="831.9" y="872.4"/>
<rect x="821.3" y="860.6"/>
<rect x="782.2" y="853.0"/>
<rect x="796.0" y="861.1"/>
<rect x="817.9" y="850.7"/>
<rect x="814.8" y="835.4"/>
<rect x="829.4" y="852.9"/>
<rect x="812.9" y="878.9"/>
<rect x="836.2" y="852.5"/>
<rect x="824.6" y="867.5"/>
<rect x="821.3" y="840.0"/>
<rect x="811.8" y="867.1"/>
<rect x="822.5" y="824.9"/>
<rect x="793.3" y="866.7"/>
<rect x="800.0" y="848.5"/>
<rect x="813.7" y="857.6"/>
<rect x="817.8" y="852.5"/>
<rect x="817.8" y="850.7"/>
<rect x="810.1" y="865.9"/>
<rect x="805.7" y="841.7"/>
<rect x="824.2" y="856.2"/>
<rect x="820.0" y="838.3"/>
<rect x="808.7" y="839.7"/>
<rect x="820.0" y="836.7"/>
<rect x="808.0" y="884.2"/>
<rect x="787.4" y="866.5"/>
<rect x="817.9" y="854.2"/>
<rect x="827.8" y="858.3"/>
<rect x="832.8" y="845.1"/>
<rect x="794.5" y="852.4"/>
<rect x="833.7" y="818.7"/>
<rect x="812.1" y="879.6"/>
<rect x="810.7" y="848.7"/>
<rect x="812.2" y="855.1"/>
<rect x="829.2" y="867.0"/>
<rect x="799.5" y="851.5"/>
<rect x="830.3" y="853.3"/>
<rect x="833.2" y="846.7"/>
<rect x="822.6" y="835.5"/>
<rect x="829.4" y="881.1"/>
<rect x="799.0" y="855.2"/>
<rect x="817.7" y="858.4"/>
<rect x="812.8" y="844.7"/>
<rect x="829.4" y="840.6"/>
<rect x="805.9" y="836.8"/>
<rect x="808.0" y="859.6"/>
<rect x="828.5" y="867.7"/>
<rect x="806.0" y="836.5"/>
<rect x="842.3" y="849.7"/>
<rect x="805.4" y="872.3"/>
<rect x="798.7" y="858.1"/>
<rect x="790.8" y="834.4"/>
<rect x="799.6" y="848.1"/>
<rect x="839.4" y="854.9"/>
<rect x="791.3" y="844.1"/>
<rect x="801.6" y="856.4"/>
<rect x="827.5" y="871.9"/>
<rect x="817.5" y="813.7"/>
<rect x="786.7" y="819.5"/>
<rect x="832.7" y="863.6"/>
<rect x="806.5" y="863.2"/>
<rect x="802.5" y="869.6"/>
<rect x="781.6" y="827.2"/>
<rect x="810.9" y="825.3"/>
<rect x="825.7" y="864.5"/>
<rect x="794.7" y="849.5"/>
<rect x="833.4" y="852.1"/>
<rect x="804.1" y="884.1"/>
<rect x="828.7" y="839.8"/>
<rect x="800.9" y="874.1"/>
<rect x="822.8" y="852.8"/>
<rect x="842.5" y="851.8"/>
<rect x="829.3" y="861.1"/>
<rect x="813.6" y="826.6"/>
<rect x="833.5" y="878.2"/>
<rect x="790.1" y="840.8"/>
<rect x="838.2" y="848.8"/>
<rect x="807.3" y="868.0"/>
<rect x="811.9" y="842.8"/>
<rect x="803.4" y="873.1"/>
<rect x="794.5" y="862.4"/>
<rect x="820.7" y="861.3"/>
<rect x="827.5" y="855.2"/>
<rect x="814.1" y="823.9"/>
<rect x="813.1" y="824.7"/>
<rect x="796.9" y="838.4"/>
<rect x="806.2" y="853.5"/>
<rect x="801.2" y="833.3"/>
<rect x="819.7" y="829.4"/>
<rect x="800.1" y="853.7"/>
<rect x="799.9" y="889.9"/>
<rect x="831.1" y="878.4"/>
<rect x="799.8" y="869.5"/>
<rect x="834.3" y="859.1"/>
<rect x="791.1" y="844.9"/>
<rect x="841.7" y="833.1"/>
<rect x="833.7" y="869.3"/>
<rect x="839.6" y="868.8"/>
<rect x="794.6" y="837.2"/>
<rect x="798.1" y="836.4"/>
<rect x="818.1" y="867.9"/>
<rect x="840.6" y="852.6"/>
<rect x="819.2" y="858.1"/>
<rect x="819.7" y="873.9"/>
<rect x="826.5" y="863.5"/>
<rect x="795.0" y="831.9"/>
<rect x="792.2" y="861.9"/>
<rect x="839.8" y="868.9"/>
<rect x="823.3" y="820.8"/>
<rect x="814.9" y="834.5"/>
<rect x="804.1" y="863.7"/>
<rect x="823.7" y="828.0"/>
<rect x="817.0" y="849.9"/>
<rect x="823.7" y="842.5"/>
<rect x="790.4" y="828.4"/>
<rect x="811.2" y="860.2"/>
<rect x="834.1" y="872.6"/>
<rect x="817.4" y="868.0"/>
<rect x="803.2" y="865.1"/>
<rect x="818.7" y="870.0"/>
<rect x="819.9" y="864.1"/>
<rect x="835.8" y="845.3"/>
<rect x="811.1" y="848.4"/>
<rect x="818.4" y="861.0"/>
<rect x="792.6" y="847.1"/>
<rect x="813.0" y="877.5"/>
<rect x="809.6" y="859.3"/>
<rect x="808.6" y="884.4"/>
<rect x="813.7" y="830.7"/>
<rect x="817.2" y="871.2"/>
<rect x="795.5" y="839.6"/>
<rect x="813.0" y="864.3"/>
<rect x="779.8" y="849.8"/>
<rect x="818.4" y="859.1"/>
<rect x="806.0" y="885.6"/>
<rect x="812.1" y="873.7"/>
<rect x="815.8" y="869.5"/>
<rect x="819.0" y="880.7"/>
<rect x="820.2" y="845.8"/>
<rect x="804.8" y="843.1"/>
<rect x="804.6" y="823.3"/>
<rect x="815.6" y="861.3"/>
<rect x="811.4" y="868.7"/>
<rect x="826.4" y="859.1"/>
<rect x="814.1" y="836.7"/>
<rect x="828.9" y="880.8"/>
<rect x="798.1" y="847.9"/>
<rect x="808.2" y="847.8"/>
<rect x="799.0" y="860.0"/>
<rect x="812.5" y="871.0"/>
<rect x="823.3" y="843.3"/>
<rect x="842.0" y="845.3"/>
<rect x="824.3" y="855.6"/>
<rect x="797.5" y="885.7"/>
<rect x="815.4" y="868.4"/>
<rect x="817.0" y="853.0"/>
<rect x="822.4" y="840.9"/>
<rect x="787.2" y="860.0"/>
<rect x="795.8" y="860.0"/>
<rect x="804.4" y="857.5"/>
<rect x="795.8" y="849.2"/>
<rect x="802.7" y="826.0"/>
<rect x="807.3" y="867.1"/>
<rect x="799.5" y="870.0"/>
<rect x="816.9" y="896.6"/>
<rect x="800.6" y="857.4"/>
<rect x="830.3" y="853.6"/>
<rect x="790.9" y="827.1"/>
<rect x="813.0" y="879.5"/>
<rect x="815.7" y="864.5"/>
<rect x="816.0" y="835.2"/>
<rect x="826.3" y="840.3"/>
<rect x="824.5" y="857.8"/>
<rect x="813.7" y="889.8"/>
<rect x="796.7" y="876.0"/>
<rect x="835.8" y="851.8"/>
<rect x="827.8" y="841.2"/>
<rect x="804.3" y="846.0"/>
<rect x="817.4" y="860.5"/>
<rect x="820.4" y="844.9"/>
<rect x="811.9" y="848.0"/>
<rect x="825.5" y="872.5"/>
<rect x="821.2" y="855.5"/>
</g>
<g class="b">
<rect x="817.9" y="862.8"/>
<rect x="815.2" y="850.8"/>
<rect x="802.3" y="855.1"/>
<rect x="833.3" y="857.8"/>
<rect x="816.3" y="848.6"/>
<rect x="819.4" y="856.8"/>
<rect x="817.9" y="853.6"/>
<rect x="806.2" y="847.8"/>
<rect x="810.4" y="847.1"/>
<rect x="805.9" y="858.6"/>
<rect x="816.2" y="851.3"/>
<rect x="814.7" y="866.2"/>
<rect x="804.8" y="861.9"/>
<rect x="796.6" y="870.6"/>
<rect x="820.8" y="875.8"/>
<rect x="833.2" y="857.3"/>
<rect x="822.2" y="860.1"/>
<rect x="797.5" y="864.7"/>
<rect x="823.6" y="863.6"/>
<rect x="818.8" y="845.2"/>
<rect x="809.8" y="821.3"/>
<rect x="818.3" y="848.9"/>
<rect x="810.6" y="865.9"/>
<rect x="816.1" y="829.6"/>
<rect x="825.5" y="842.4"/>
<rect x="804.5" y="846.3"/>
<rect x="827.7" y="843.5"/>
<rect x="819.2" y="861.3"/>
<rect x="795.7" y="868.7"/>
<rect x="809.2" y="871.1"/>
<rect x="811.9" y="869.4"/>
<rect x="835.7" y="835.5"/>
<rect x="804.5" y="850.1"/>
<rect x="825.0" y="871.2"/>
<rect x="817.2" y="860.2"/>
<rect x="823.4" y="846.9"/>
<rect x="810.0" y="856.9"/>
<rect x="828.8" y="849.0"/>
<rect x="822.2" y="848.6"/>
<rect x="804.8" y="856.8"/>
<rect x="817.6" y="856.5"/>
<rect x="808.6" y="850.6"/>
<rect x="824.8" y="842.4"/>
<rect x="810.0" y="845.0"/>
<rect x="816.7" y="867.7"/>
<rect x="812.3" y="849.4"/>
<rect x="812.5" y="856.3"/>
<rect x="811.3" y="846.8"/>
<rect x="819.0" y="869.7"/>
<rect x="818.0" y="849.3"/>
<rect x="828.5" y="856.1"/>
<rect x="819.9" y="854.3"/>
<rect x="820.2" y="843.6"/>
<rect x="815.6" y="854.1"/>
<rect x="813.8" y="857.2"/>
<rect x="842.6" y="846.6"/>
<rect x="813.0" y="843.5"/>
<rect x="816.8" y="850.7"/>
<rect x="825.3" y="854.6"/>
<rect x="814.7" y="856.1"/>
<rect x="834.9" y="865.7"/>
<rect x="819.7" y="865.8"/>
<rect x="813.7" y="840.7"/>
<rect x="802.5" y="860.6"/>
<rect x="819.2" y="850.1"/>
<rect x="806.7" y="863.5"/>
<rect x="811.7" y="844.3"/>
<rect x="822.9" y="856.9"/>
<rect x="804.2" y="869.9"/>
<rect x="810.4" y="850.6"/>
<rect x="808.8" y="852.4"/>
<rect x="830.2" y="852.6"/>
<rect x="822.8" y="849.2"/>
<rect x="827.3" y="867.4"/>
<rect x="823.8" y="871.9"/>
<rect x="818.1" y="837.2"/>
<rect x="803.8" y="849.7"/>
<rect x="823.5" y="856.8"/>
<rect x="818.5" y="857.8"/>
<rect x="812.7" y="854.8"/>
</g>
</g>
<line x1="729.4" y1="395.6" x2="704.3" y2="307.4" stroke="#e6e6e6" stroke-width="2.5"/><line x1="726.4" y1="395.1" x2="701.3" y2="306.9" stroke="#0070c2" stroke-width="3.8" stroke-linecap="round"/><polygon points="696.4,289.6 711.3,306.2 692.4,311.5" fill="#0070c2"/>
<line x1="844.1" y1="415.4" x2="817.2" y2="617.7" stroke="#e6e6e6" stroke-width="2.5"/><line x1="841.1" y1="414.9" x2="814.2" y2="617.2" stroke="#0070c2" stroke-width="3.8" stroke-linecap="round"/><polygon points="811.9,634.5 804.3,613.8 824.6,616.5" fill="#0070c2"/>
<rect x="941.5" y="615.8" width="378" height="176" fill="#fff" stroke="#333" stroke-width="1.5"/>
<line x1="946.4" y1="648.2" x2="1049" y2="648.2" stroke="#ff00ff" stroke-width="3"/>
<rect x="987.8" y="638.2" width="20" height="20" fill="#ff00ff"/>
<line x1="946.4" y1="705.2" x2="1030.5" y2="705.2" stroke="#800000" stroke-width="3" stroke-dasharray="17.2 16.3"/>
<circle cx="997.8" cy="705.2" r="10.5" fill="#800000"/>
<line x1="948.6" y1="761.2" x2="1031" y2="761.2" stroke="#ff8000" stroke-width="3.2" stroke-dasharray="2 17.8" stroke-linecap="round"/>
<polygon points="997.8,746.8000000000001 1010.3,768.4000000000001 985.3,768.4000000000001" fill="#ff8000"/>
<text x="1060" y="663.8000000000001" font-size="45" font-family="Liberation Sans, sans-serif" font-weight="bold">1552.52 nm</text>
<text x="1061" y="719.8000000000001" font-size="45" font-family="Liberation Sans, sans-serif" font-weight="bold" xml:space="preserve"> 1549.72 nm</text>
<text x="1061" y="775.8000000000001" font-size="45" font-family="Liberation Sans, sans-serif" font-weight="bold" xml:space="preserve"> 1546.52 nm</text>
</svg>
</body></html>
